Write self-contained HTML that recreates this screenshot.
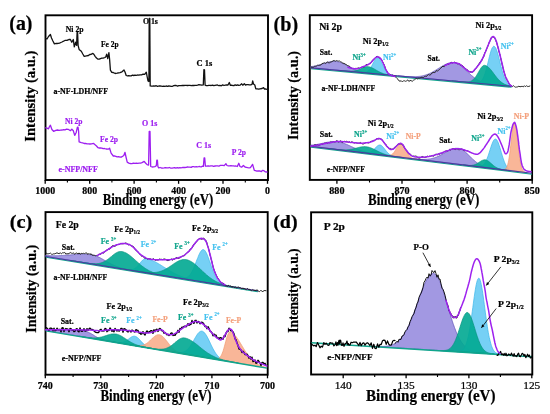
<!DOCTYPE html>
<html><head><meta charset="utf-8"><style>
html,body{margin:0;padding:0;background:#fff;}
svg{display:block;will-change:transform;filter:blur(0.3px);}
text{font-family:"Liberation Serif", serif;}
</style></head><body>
<svg width="550" height="414" viewBox="0 0 550 414">
<rect width="550" height="414" fill="#fff"/>
<rect x="45.5" y="15.3" width="222.5" height="164.7" fill="none" stroke="#000" stroke-width="1.9"/>
<line x1="267.5" y1="180" x2="267.5" y2="183.8" stroke="#000" stroke-width="1.3"/>
<line x1="223.0" y1="180" x2="223.0" y2="183.8" stroke="#000" stroke-width="1.3"/>
<line x1="178.6" y1="180" x2="178.6" y2="183.8" stroke="#000" stroke-width="1.3"/>
<line x1="134.1" y1="180" x2="134.1" y2="183.8" stroke="#000" stroke-width="1.3"/>
<line x1="89.7" y1="180" x2="89.7" y2="183.8" stroke="#000" stroke-width="1.3"/>
<line x1="45.2" y1="180" x2="45.2" y2="183.8" stroke="#000" stroke-width="1.3"/>
<line x1="245.3" y1="180" x2="245.3" y2="182.5" stroke="#000" stroke-width="1.1"/>
<line x1="200.8" y1="180" x2="200.8" y2="182.5" stroke="#000" stroke-width="1.1"/>
<line x1="156.4" y1="180" x2="156.4" y2="182.5" stroke="#000" stroke-width="1.1"/>
<line x1="111.9" y1="180" x2="111.9" y2="182.5" stroke="#000" stroke-width="1.1"/>
<line x1="67.4" y1="180" x2="67.4" y2="182.5" stroke="#000" stroke-width="1.1"/>
<text x="267.5" y="193.6" font-size="9.9" fill="#000" stroke="#000" stroke-width="0.22" font-weight="bold" text-anchor="middle" >0</text>
<text x="223.0" y="193.6" font-size="9.9" fill="#000" stroke="#000" stroke-width="0.22" font-weight="bold" text-anchor="middle" >200</text>
<text x="178.6" y="193.6" font-size="9.9" fill="#000" stroke="#000" stroke-width="0.22" font-weight="bold" text-anchor="middle" >400</text>
<text x="134.1" y="193.6" font-size="9.9" fill="#000" stroke="#000" stroke-width="0.22" font-weight="bold" text-anchor="middle" >600</text>
<text x="89.7" y="193.6" font-size="9.9" fill="#000" stroke="#000" stroke-width="0.22" font-weight="bold" text-anchor="middle" >800</text>
<text x="45.2" y="193.6" font-size="9.9" fill="#000" stroke="#000" stroke-width="0.22" font-weight="bold" text-anchor="middle" >1000</text>
<text x="158.0" y="204.6" font-size="15.8" fill="#000" stroke="#000" stroke-width="0.22" font-weight="bold" text-anchor="middle" textLength="110.7" lengthAdjust="spacingAndGlyphs" >Binding energy (eV)</text>
<text x="34.8" y="96.2" font-size="14.2" fill="#000" stroke="#000" stroke-width="0.22" font-weight="bold" text-anchor="middle" textLength="91" lengthAdjust="spacingAndGlyphs" transform="rotate(-90 34.8 96.2)" >Intensity (a.u.)</text>
<text x="9.3" y="30.4" font-size="21.2" fill="#000" stroke="#000" stroke-width="0.22" font-weight="bold" text-anchor="start" textLength="23.2" lengthAdjust="spacingAndGlyphs" >(a)</text>
<path d="M45.6,38.4 L47.0,39.0 L48.5,36.5 L50.4,34.5 L51.5,38.0 L52.9,41.0 L54.4,43.9 L55.7,43.5 L57.0,43.5 L58.2,43.4 L59.5,43.2 L60.8,42.5 L62.0,42.0 L63.6,41.2 L65.3,40.3 L66.7,40.3 L68.0,40.0 L69.2,39.4 L70.4,39.5 L71.8,42.2 L73.3,39.5 L74.3,46.8 L75.7,42.2 L76.6,45.4 L77.1,32.3 L77.6,32.3 L78.1,45.4 L79.1,49.4 L81.3,51.2 L82.8,54.0 L84.2,56.3 L86.5,55.8 L88.5,55.5 L89.8,54.5 L91.0,54.3 L92.9,53.4 L94.0,54.5 L95.1,56.3 L96.5,58.0 L98.0,59.2 L99.2,59.2 L100.5,58.6 L101.8,58.2 L103.1,58.2 L105.0,57.5 L106.0,56.3 L106.7,54.1 L107.7,58.7 L108.9,52.6 L109.6,59.2 L110.4,70.1 L111.8,72.3 L113.2,72.5 L114.5,73.2 L116.0,73.5 L117.6,73.0 L118.8,72.8 L120.0,72.6 L122.0,71.8 L124.0,70.0 L125.0,72.0 L126.2,75.5 L127.5,75.9 L128.7,75.7 L130.0,75.8 L131.2,75.8 L132.5,75.2 L133.8,75.5 L135.0,75.2 L136.2,75.4 L137.5,75.0 L138.8,75.1 L140.0,74.8 L141.6,74.8 L143.1,74.1 L144.7,74.4 L146.3,72.2 L147.2,77.0 L148.0,80.9 L148.9,81.5 L149.2,18.3 L149.8,18.3 L150.2,85.9 L151.4,86.2 L152.6,86.1 L153.8,85.9 L155.0,86.2 L156.2,85.7 L157.5,86.4 L158.8,86.0 L160.0,86.0 L161.2,86.2 L162.5,86.4 L163.8,86.2 L165.0,86.4 L166.2,86.0 L167.5,86.3 L168.8,86.0 L170.0,86.1 L171.2,86.4 L172.5,86.3 L173.8,85.6 L175.0,85.5 L176.2,85.5 L177.5,86.1 L178.8,85.6 L180.0,85.6 L181.2,85.7 L182.5,85.3 L183.8,85.5 L185.0,85.3 L186.2,85.3 L187.5,85.5 L188.8,85.4 L190.0,85.3 L191.3,85.6 L192.6,85.3 L193.8,85.5 L195.1,85.4 L196.4,85.4 L197.6,85.1 L198.9,84.6 L200.2,84.8 L201.8,85.2 L203.3,84.9 L203.9,69.6 L204.5,69.8 L205.1,85.2 L206.3,85.6 L207.6,85.6 L208.8,85.3 L210.0,85.3 L211.2,85.5 L212.5,85.1 L213.8,85.6 L215.0,85.4 L216.2,85.2 L217.5,85.0 L218.8,85.7 L220.0,85.4 L221.3,85.8 L222.7,84.9 L224.0,85.5 L225.3,85.1 L226.7,84.8 L228.0,85.0 L229.3,82.5 L230.3,85.3 L231.5,85.1 L232.7,85.5 L233.9,85.6 L235.2,84.8 L236.4,85.3 L237.6,84.8 L238.8,85.4 L240.0,85.2 L241.7,83.8 L242.8,85.2 L244.3,83.8 L245.5,85.0 L246.8,84.7 L248.0,84.7 L249.3,84.9 L250.7,84.9 L252.0,84.4 L252.7,81.0 L253.5,84.0 L254.8,85.0 L255.8,88.8 L257.2,88.8 L258.6,89.2 L260.0,88.8 L262.0,88.5 L263.5,87.6 L264.5,89.0 L265.8,89.0 L267.0,89.4" fill="none" stroke="#111" stroke-width="1.3" stroke-linejoin="round" stroke-linecap="round" />
<path d="M45.6,127.8 L47.0,128.1 L48.5,128.8 L49.5,126.5 L50.4,125.2 L51.9,129.5 L53.6,131.3 L55.8,130.3 L57.4,130.0 L59.0,130.4 L60.7,130.1 L62.4,130.0 L63.7,129.6 L65.0,129.8 L66.6,129.2 L68.2,129.3 L70.4,130.7 L71.8,129.1 L73.3,130.7 L74.7,135.4 L76.2,132.5 L77.4,127.2 L78.0,127.2 L78.6,131.0 L79.1,141.9 L81.3,142.6 L82.7,142.8 L84.2,143.5 L85.6,143.4 L87.0,143.9 L88.5,143.8 L90.0,144.0 L91.5,143.8 L93.6,143.4 L95.1,144.8 L96.5,146.0 L98.0,147.7 L99.3,148.0 L100.5,148.0 L101.8,148.2 L103.1,148.7 L104.5,148.5 L106.0,149.0 L108.2,149.2 L109.6,148.2 L111.1,153.1 L113.3,156.0 L114.5,155.9 L115.8,156.3 L117.2,156.9 L118.5,156.7 L120.0,157.1 L121.6,157.0 L123.8,155.5 L125.0,152.3 L126.0,157.0 L127.2,162.1 L128.8,163.1 L130.4,163.5 L131.9,163.7 L133.5,163.1 L135.0,163.3 L136.4,163.1 L137.7,163.3 L139.1,163.1 L140.6,163.1 L142.0,162.6 L144.2,161.4 L145.5,163.0 L147.1,164.6 L148.6,165.0 L149.2,131.5 L150.0,131.5 L150.7,166.5 L152.1,167.0 L153.6,166.9 L154.9,166.6 L156.3,165.7 L156.8,160.2 L157.4,160.2 L157.9,166.5 L158.7,167.9 L160.1,167.5 L161.4,168.0 L162.8,168.1 L164.1,167.9 L165.5,167.6 L166.8,167.9 L168.2,167.9 L169.5,167.5 L170.8,168.2 L172.1,168.1 L173.4,167.8 L174.6,167.6 L175.9,168.1 L177.2,167.7 L178.5,168.0 L179.8,167.6 L181.1,167.9 L182.4,167.5 L183.6,167.4 L184.9,167.5 L186.2,167.3 L187.4,167.0 L188.7,167.1 L190.0,167.2 L191.2,167.4 L192.4,166.6 L193.7,166.6 L194.9,167.0 L196.1,166.6 L197.3,166.8 L198.5,166.7 L199.7,166.5 L201.0,167.0 L202.2,166.2 L203.4,166.4 L204.1,157.8 L204.7,157.8 L205.4,166.2 L206.8,166.1 L208.1,165.9 L209.5,166.2 L210.9,165.9 L212.3,165.9 L213.6,166.3 L215.0,166.0 L216.3,165.8 L217.6,165.9 L218.9,166.2 L220.3,165.4 L221.6,165.3 L222.9,165.4 L224.2,165.6 L225.9,163.7 L227.0,165.5 L228.3,165.9 L229.6,165.9 L230.9,165.6 L232.2,165.8 L233.4,165.8 L234.7,166.2 L236.0,166.0 L237.3,166.5 L238.8,163.3 L240.0,166.5 L241.6,167.2 L243.4,165.5 L245.0,167.0 L246.3,167.3 L247.7,167.7 L249.1,167.9 L250.4,167.6 L252.6,164.4 L254.3,170.3 L255.5,170.7 L256.8,171.2 L258.0,171.0 L259.6,170.9 L261.3,171.6 L262.4,170.3 L263.9,170.7 L265.5,171.9 L267.0,172.0" fill="none" stroke="#9d1ef0" stroke-width="1.3" stroke-linejoin="round" stroke-linecap="round" />
<text x="65.7" y="31.8" font-size="8.8" fill="#000" stroke="#000" stroke-width="0.22" font-weight="bold" text-anchor="start" textLength="17.9" lengthAdjust="spacingAndGlyphs" >Ni 2p</text>
<text x="101.0" y="47.1" font-size="8.8" fill="#000" stroke="#000" stroke-width="0.22" font-weight="bold" text-anchor="start" textLength="17.6" lengthAdjust="spacingAndGlyphs" >Fe 2p</text>
<text x="142.9" y="24.2" font-size="8.8" fill="#000" stroke="#000" stroke-width="0.22" font-weight="bold" text-anchor="start" textLength="15" lengthAdjust="spacingAndGlyphs" >O 1s</text>
<text x="196.5" y="66.3" font-size="8.8" fill="#000" stroke="#000" stroke-width="0.22" font-weight="bold" text-anchor="start" textLength="15.7" lengthAdjust="spacingAndGlyphs" >C 1s</text>
<text x="53.5" y="94.0" font-size="8.6" fill="#000" stroke="#000" stroke-width="0.22" font-weight="bold" text-anchor="start" textLength="54.5" lengthAdjust="spacingAndGlyphs" >a-NF-LDH/NFF</text>
<text x="65.1" y="123.6" font-size="8.8" fill="#9d1ef0" stroke="#9d1ef0" stroke-width="0.22" font-weight="bold" text-anchor="start" textLength="17.4" lengthAdjust="spacingAndGlyphs" >Ni 2p</text>
<text x="100.0" y="141.5" font-size="8.8" fill="#9d1ef0" stroke="#9d1ef0" stroke-width="0.22" font-weight="bold" text-anchor="start" textLength="18.1" lengthAdjust="spacingAndGlyphs" >Fe 2p</text>
<text x="142.1" y="126.2" font-size="8.8" fill="#9d1ef0" stroke="#9d1ef0" stroke-width="0.22" font-weight="bold" text-anchor="start" textLength="15.3" lengthAdjust="spacingAndGlyphs" >O 1s</text>
<text x="196.3" y="147.6" font-size="8.8" fill="#9d1ef0" stroke="#9d1ef0" stroke-width="0.22" font-weight="bold" text-anchor="start" textLength="14.8" lengthAdjust="spacingAndGlyphs" >C 1s</text>
<text x="231.8" y="154.5" font-size="8.8" fill="#9d1ef0" stroke="#9d1ef0" stroke-width="0.22" font-weight="bold" text-anchor="start" textLength="14.2" lengthAdjust="spacingAndGlyphs" >P 2p</text>
<text x="58.5" y="172.0" font-size="8.6" fill="#9d1ef0" stroke="#9d1ef0" stroke-width="0.22" font-weight="bold" text-anchor="start" textLength="39.3" lengthAdjust="spacingAndGlyphs" >e-NFP/NFF</text>
<rect x="309.8" y="15.2" width="222.3" height="164.70000000000002" fill="none" stroke="#000" stroke-width="1.9"/>
<line x1="336.9" y1="180" x2="336.9" y2="183.8" stroke="#000" stroke-width="1.3"/>
<line x1="402.0" y1="180" x2="402.0" y2="183.8" stroke="#000" stroke-width="1.3"/>
<line x1="467.1" y1="180" x2="467.1" y2="183.8" stroke="#000" stroke-width="1.3"/>
<line x1="532.2" y1="180" x2="532.2" y2="183.8" stroke="#000" stroke-width="1.3"/>
<line x1="369.5" y1="180" x2="369.5" y2="182.5" stroke="#000" stroke-width="1.1"/>
<line x1="434.6" y1="180" x2="434.6" y2="182.5" stroke="#000" stroke-width="1.1"/>
<line x1="499.7" y1="180" x2="499.7" y2="182.5" stroke="#000" stroke-width="1.1"/>
<text x="336.9" y="194.0" font-size="10.8" fill="#000" stroke="#000" stroke-width="0.22" font-weight="bold" text-anchor="middle" textLength="15.2" lengthAdjust="spacingAndGlyphs" >880</text>
<text x="402.0" y="194.0" font-size="10.8" fill="#000" stroke="#000" stroke-width="0.22" font-weight="bold" text-anchor="middle" textLength="15.2" lengthAdjust="spacingAndGlyphs" >870</text>
<text x="467.1" y="194.0" font-size="10.8" fill="#000" stroke="#000" stroke-width="0.22" font-weight="bold" text-anchor="middle" textLength="15.2" lengthAdjust="spacingAndGlyphs" >860</text>
<text x="532.2" y="194.0" font-size="10.8" fill="#000" stroke="#000" stroke-width="0.22" font-weight="bold" text-anchor="middle" textLength="15.2" lengthAdjust="spacingAndGlyphs" >850</text>
<text x="423.7" y="205.0" font-size="15.8" fill="#000" stroke="#000" stroke-width="0.22" font-weight="bold" text-anchor="middle" textLength="111.4" lengthAdjust="spacingAndGlyphs" >Binding energy (eV)</text>
<text x="298.0" y="95.5" font-size="14.2" fill="#000" stroke="#000" stroke-width="0.22" font-weight="bold" text-anchor="middle" textLength="89" lengthAdjust="spacingAndGlyphs" transform="rotate(-90 298.0 95.5)" >Intensity (a.u.)</text>
<text x="273.6" y="30.5" font-size="20.8" fill="#000" stroke="#000" stroke-width="0.22" font-weight="bold" text-anchor="start" textLength="24.6" lengthAdjust="spacingAndGlyphs" >(b)</text>
<text x="319.2" y="30.2" font-size="10.8" fill="#000" stroke="#000" stroke-width="0.22" font-weight="bold" text-anchor="start" textLength="22.9" lengthAdjust="spacingAndGlyphs" >Ni 2p</text>
<path d="M311.0,66.6 L311.5,66.6 L312.0,66.5 L312.5,66.4 L313.0,66.3 L313.5,66.3 L314.0,66.2 L314.5,66.1 L315.0,66.0 L315.5,65.9 L316.0,65.8 L316.5,65.6 L317.0,65.5 L317.5,65.4 L318.0,65.3 L318.5,65.1 L319.0,65.0 L319.5,64.8 L320.0,64.7 L320.5,64.5 L321.0,64.3 L321.5,64.2 L322.0,64.0 L322.5,63.9 L323.0,63.7 L323.5,63.5 L324.0,63.4 L324.5,63.2 L325.0,63.0 L325.5,62.9 L326.0,62.7 L326.5,62.6 L327.0,62.4 L327.5,62.3 L328.0,62.2 L328.5,62.0 L329.0,61.9 L329.5,61.8 L330.0,61.7 L330.5,61.6 L331.0,61.5 L331.5,61.5 L332.0,61.4 L332.5,61.4 L333.0,61.3 L333.5,61.3 L334.0,61.3 L334.5,61.3 L335.0,61.4 L335.5,61.4 L336.0,61.5 L336.5,61.5 L337.0,61.6 L337.5,61.7 L338.0,61.8 L338.5,61.9 L339.0,62.1 L339.5,62.2 L340.0,62.4 L340.5,62.5 L341.0,62.7 L341.5,62.9 L342.0,63.1 L342.5,63.3 L343.0,63.5 L343.5,63.8 L344.0,64.0 L344.5,64.2 L345.0,64.5 L345.5,64.7 L346.0,65.0 L346.5,65.2 L347.0,65.5 L347.5,65.7 L348.0,66.0 L348.5,66.3 L349.0,66.5 L349.5,66.8 L350.0,67.0 L350.5,67.3 L351.0,67.5 L351.5,67.8 L352.0,68.0 L352.5,68.3 L353.0,68.5 L353.5,68.7 L354.0,68.9 L354.5,69.1 L355.0,69.4 L355.5,69.6 L356.0,69.8 L356.5,70.0 L357.0,70.1 L357.5,70.3 L358.0,70.5 L358.5,70.7 L359.0,70.8 L359.5,71.0 L360.0,71.1 L360.5,71.3 L361.0,71.4 L361.5,71.5 L362.0,71.7 L362.5,71.8 L363.0,71.9 L363.5,72.0 L364.0,72.1 L364.5,72.2 L365.0,72.3 L365.5,72.4 L366.0,72.5 L366.5,72.6 L367.0,72.7 L367.5,72.8 L368.0,72.9 L368.5,72.9 L369.0,73.0 L369.5,73.1 L370.0,73.1 L370.5,73.2 L371.0,73.3 L371.5,73.3 L372.0,73.4 L372.5,73.5 L373.0,73.5 L373.5,73.6 L374.0,73.6 L374.5,73.7 L375.0,73.7 L375.5,73.8 L376.0,73.8 L376.5,73.9 L377.0,73.9 L377.5,74.0 L378.0,74.0 L378.5,74.1 L379.0,74.1 L379.5,74.2 L380.0,74.2 L380.5,74.3 L380.5,74.3 L380.0,74.3 L379.5,74.2 L379.0,74.2 L378.5,74.1 L378.0,74.1 L377.5,74.0 L377.0,74.0 L376.5,73.9 L376.0,73.9 L375.5,73.8 L375.0,73.8 L374.5,73.8 L374.0,73.7 L373.5,73.7 L373.0,73.6 L372.5,73.6 L372.0,73.5 L371.5,73.5 L371.0,73.4 L370.5,73.4 L370.0,73.3 L369.5,73.3 L369.0,73.2 L368.5,73.2 L368.0,73.2 L367.5,73.1 L367.0,73.1 L366.5,73.0 L366.0,73.0 L365.5,72.9 L365.0,72.9 L364.5,72.8 L364.0,72.8 L363.5,72.7 L363.0,72.7 L362.5,72.6 L362.0,72.6 L361.5,72.6 L361.0,72.5 L360.5,72.5 L360.0,72.4 L359.5,72.4 L359.0,72.3 L358.5,72.3 L358.0,72.2 L357.5,72.2 L357.0,72.1 L356.5,72.1 L356.0,72.0 L355.5,72.0 L355.0,72.0 L354.5,71.9 L354.0,71.9 L353.5,71.8 L353.0,71.8 L352.5,71.7 L352.0,71.7 L351.5,71.6 L351.0,71.6 L350.5,71.5 L350.0,71.5 L349.5,71.4 L349.0,71.4 L348.5,71.4 L348.0,71.3 L347.5,71.3 L347.0,71.2 L346.5,71.2 L346.0,71.1 L345.5,71.1 L345.0,71.0 L344.5,71.0 L344.0,70.9 L343.5,70.9 L343.0,70.8 L342.5,70.8 L342.0,70.8 L341.5,70.7 L341.0,70.7 L340.5,70.6 L340.0,70.6 L339.5,70.5 L339.0,70.5 L338.5,70.4 L338.0,70.4 L337.5,70.3 L337.0,70.3 L336.5,70.2 L336.0,70.2 L335.5,70.2 L335.0,70.1 L334.5,70.1 L334.0,70.0 L333.5,70.0 L333.0,69.9 L332.5,69.9 L332.0,69.8 L331.5,69.8 L331.0,69.7 L330.5,69.7 L330.0,69.6 L329.5,69.6 L329.0,69.6 L328.5,69.5 L328.0,69.5 L327.5,69.4 L327.0,69.4 L326.5,69.3 L326.0,69.3 L325.5,69.2 L325.0,69.2 L324.5,69.1 L324.0,69.1 L323.5,69.0 L323.0,69.0 L322.5,69.0 L322.0,68.9 L321.5,68.9 L321.0,68.8 L320.5,68.8 L320.0,68.7 L319.5,68.7 L319.0,68.6 L318.5,68.6 L318.0,68.5 L317.5,68.5 L317.0,68.4 L316.5,68.4 L316.0,68.4 L315.5,68.3 L315.0,68.3 L314.5,68.2 L314.0,68.2 L313.5,68.1 L313.0,68.1 L312.5,68.0 L312.0,68.0 L311.5,67.9 L311.0,67.9 Z" fill="#988ddf" stroke="#5f50b8" stroke-width="0.7" stroke-linejoin="round" stroke-linecap="round" fill-opacity="0.9"/>
<path d="M398.2,75.9 L398.7,76.0 L399.2,76.0 L399.7,76.0 L400.2,76.1 L400.7,76.1 L401.2,76.2 L401.7,76.2 L402.2,76.2 L402.7,76.3 L403.2,76.3 L403.7,76.3 L404.2,76.4 L404.7,76.4 L405.2,76.5 L405.7,76.5 L406.2,76.5 L406.7,76.5 L407.2,76.6 L407.7,76.6 L408.2,76.6 L408.7,76.6 L409.2,76.7 L409.7,76.7 L410.2,76.7 L410.7,76.7 L411.2,76.7 L411.7,76.7 L412.2,76.7 L412.7,76.7 L413.2,76.7 L413.7,76.7 L414.2,76.7 L414.7,76.7 L415.2,76.7 L415.7,76.7 L416.2,76.7 L416.7,76.6 L417.2,76.6 L417.7,76.5 L418.2,76.5 L418.7,76.4 L419.2,76.4 L419.7,76.3 L420.2,76.2 L420.7,76.2 L421.2,76.1 L421.7,76.0 L422.2,75.9 L422.7,75.8 L423.2,75.7 L423.7,75.5 L424.2,75.4 L424.7,75.3 L425.2,75.1 L425.7,75.0 L426.2,74.8 L426.7,74.6 L427.2,74.5 L427.7,74.3 L428.2,74.1 L428.7,73.9 L429.2,73.6 L429.7,73.4 L430.2,73.2 L430.7,72.9 L431.2,72.7 L431.7,72.4 L432.2,72.2 L432.7,71.9 L433.2,71.6 L433.7,71.3 L434.2,71.1 L434.7,70.8 L435.2,70.5 L435.7,70.2 L436.2,69.9 L436.7,69.5 L437.2,69.2 L437.7,68.9 L438.2,68.6 L438.7,68.3 L439.2,68.0 L439.7,67.7 L440.2,67.3 L440.7,67.0 L441.2,66.7 L441.7,66.4 L442.2,66.1 L442.7,65.8 L443.2,65.6 L443.7,65.3 L444.2,65.0 L444.7,64.8 L445.2,64.5 L445.7,64.3 L446.2,64.0 L446.7,63.8 L447.2,63.6 L447.7,63.5 L448.2,63.3 L448.7,63.1 L449.2,63.0 L449.7,62.9 L450.2,62.8 L450.7,62.7 L451.2,62.6 L451.7,62.6 L452.2,62.5 L452.7,62.5 L453.2,62.5 L453.7,62.6 L454.3,62.6 L454.8,62.7 L455.3,62.8 L455.8,62.9 L456.3,63.1 L456.8,63.3 L457.3,63.5 L457.8,63.7 L458.3,64.0 L458.8,64.3 L459.3,64.6 L459.8,64.9 L460.3,65.2 L460.8,65.6 L461.3,66.0 L461.8,66.4 L462.3,66.8 L462.8,67.3 L463.3,67.7 L463.8,68.2 L464.3,68.6 L464.8,69.1 L465.3,69.6 L465.8,70.0 L466.3,70.5 L466.8,71.0 L467.3,71.5 L467.8,72.0 L468.3,72.5 L468.8,72.9 L469.3,73.4 L469.8,73.9 L470.3,74.3 L470.8,74.8 L471.3,75.2 L471.8,75.7 L472.3,76.1 L472.8,76.5 L473.3,76.9 L473.8,77.3 L474.3,77.7 L474.8,78.0 L475.3,78.4 L475.8,78.7 L476.3,79.1 L476.8,79.4 L477.3,79.7 L477.8,80.0 L478.3,80.3 L478.8,80.5 L479.3,80.8 L479.8,81.0 L480.3,81.3 L480.8,81.5 L481.3,81.7 L481.8,81.9 L482.3,82.1 L482.8,82.3 L483.3,82.4 L483.8,82.6 L484.3,82.8 L484.8,82.9 L485.3,83.0 L485.8,83.2 L486.3,83.3 L486.8,83.4 L487.3,83.5 L487.8,83.6 L488.3,83.7 L488.8,83.8 L489.3,83.9 L489.8,84.0 L490.3,84.1 L490.8,84.2 L491.3,84.3 L491.8,84.3 L492.3,84.4 L492.8,84.5 L493.3,84.5 L493.8,84.6 L494.3,84.7 L494.8,84.7 L495.3,84.8 L495.8,84.9 L496.3,84.9 L496.8,85.0 L497.3,85.0 L497.8,85.1 L498.3,85.1 L498.8,85.2 L499.3,85.2 L499.8,85.3 L500.3,85.3 L500.8,85.4 L501.3,85.4 L501.8,85.5 L502.3,85.5 L502.8,85.6 L503.3,85.6 L503.8,85.7 L504.3,85.7 L504.8,85.8 L505.3,85.8 L505.8,85.9 L506.3,85.9 L506.8,86.0 L507.3,86.0 L507.8,86.0 L508.3,86.1 L508.8,86.1 L509.3,86.2 L509.8,86.2 L509.8,86.2 L509.3,86.2 L508.8,86.1 L508.3,86.1 L507.8,86.0 L507.3,86.0 L506.8,86.0 L506.3,85.9 L505.8,85.9 L505.3,85.8 L504.8,85.8 L504.3,85.7 L503.8,85.7 L503.3,85.6 L502.8,85.6 L502.3,85.5 L501.8,85.5 L501.3,85.4 L500.8,85.4 L500.3,85.4 L499.8,85.3 L499.3,85.3 L498.8,85.2 L498.3,85.2 L497.8,85.1 L497.3,85.1 L496.8,85.0 L496.3,85.0 L495.8,84.9 L495.3,84.9 L494.8,84.8 L494.3,84.8 L493.8,84.8 L493.3,84.7 L492.8,84.7 L492.3,84.6 L491.8,84.6 L491.3,84.5 L490.8,84.5 L490.3,84.4 L489.8,84.4 L489.3,84.3 L488.8,84.3 L488.3,84.2 L487.8,84.2 L487.3,84.2 L486.8,84.1 L486.3,84.1 L485.8,84.0 L485.3,84.0 L484.8,83.9 L484.3,83.9 L483.8,83.8 L483.3,83.8 L482.8,83.7 L482.3,83.7 L481.8,83.6 L481.3,83.6 L480.8,83.6 L480.3,83.5 L479.8,83.5 L479.3,83.4 L478.8,83.4 L478.3,83.3 L477.8,83.3 L477.3,83.2 L476.8,83.2 L476.3,83.1 L475.8,83.1 L475.3,83.0 L474.8,83.0 L474.3,83.0 L473.8,82.9 L473.3,82.9 L472.8,82.8 L472.3,82.8 L471.8,82.7 L471.3,82.7 L470.8,82.6 L470.3,82.6 L469.8,82.5 L469.3,82.5 L468.8,82.4 L468.3,82.4 L467.8,82.4 L467.3,82.3 L466.8,82.3 L466.3,82.2 L465.8,82.2 L465.3,82.1 L464.8,82.1 L464.3,82.0 L463.8,82.0 L463.3,81.9 L462.8,81.9 L462.3,81.8 L461.8,81.8 L461.3,81.8 L460.8,81.7 L460.3,81.7 L459.8,81.6 L459.3,81.6 L458.8,81.5 L458.3,81.5 L457.8,81.4 L457.3,81.4 L456.8,81.3 L456.3,81.3 L455.8,81.2 L455.3,81.2 L454.8,81.2 L454.3,81.1 L453.7,81.1 L453.2,81.0 L452.7,81.0 L452.2,80.9 L451.7,80.9 L451.2,80.8 L450.7,80.8 L450.2,80.7 L449.7,80.7 L449.2,80.6 L448.7,80.6 L448.2,80.6 L447.7,80.5 L447.2,80.5 L446.7,80.4 L446.2,80.4 L445.7,80.3 L445.2,80.3 L444.7,80.2 L444.2,80.2 L443.7,80.1 L443.2,80.1 L442.7,80.0 L442.2,80.0 L441.7,80.0 L441.2,79.9 L440.7,79.9 L440.2,79.8 L439.7,79.8 L439.2,79.7 L438.7,79.7 L438.2,79.6 L437.7,79.6 L437.2,79.5 L436.7,79.5 L436.2,79.4 L435.7,79.4 L435.2,79.4 L434.7,79.3 L434.2,79.3 L433.7,79.2 L433.2,79.2 L432.7,79.1 L432.2,79.1 L431.7,79.0 L431.2,79.0 L430.7,78.9 L430.2,78.9 L429.7,78.8 L429.2,78.8 L428.7,78.8 L428.2,78.7 L427.7,78.7 L427.2,78.6 L426.7,78.6 L426.2,78.5 L425.7,78.5 L425.2,78.4 L424.7,78.4 L424.2,78.3 L423.7,78.3 L423.2,78.2 L422.7,78.2 L422.2,78.2 L421.7,78.1 L421.2,78.1 L420.7,78.0 L420.2,78.0 L419.7,77.9 L419.2,77.9 L418.7,77.8 L418.2,77.8 L417.7,77.7 L417.2,77.7 L416.7,77.6 L416.2,77.6 L415.7,77.6 L415.2,77.5 L414.7,77.5 L414.2,77.4 L413.7,77.4 L413.2,77.3 L412.7,77.3 L412.2,77.2 L411.7,77.2 L411.2,77.1 L410.7,77.1 L410.2,77.0 L409.7,77.0 L409.2,77.0 L408.7,76.9 L408.2,76.9 L407.7,76.8 L407.2,76.8 L406.7,76.7 L406.2,76.7 L405.7,76.6 L405.2,76.6 L404.7,76.5 L404.2,76.5 L403.7,76.4 L403.2,76.4 L402.7,76.4 L402.2,76.3 L401.7,76.3 L401.2,76.2 L400.7,76.2 L400.2,76.1 L399.7,76.1 L399.2,76.0 L398.7,76.0 L398.2,75.9 Z" fill="#988ddf" stroke="#5f50b8" stroke-width="0.7" stroke-linejoin="round" stroke-linecap="round" fill-opacity="0.9"/>
<path d="M359.6,72.4 L360.1,72.4 L360.6,72.4 L361.1,72.5 L361.6,72.5 L362.1,72.5 L362.6,72.5 L363.1,72.5 L363.6,72.5 L364.1,72.5 L364.6,72.4 L365.1,72.3 L365.6,72.2 L366.1,72.1 L366.6,71.9 L367.1,71.6 L367.6,71.3 L368.1,70.9 L368.6,70.4 L369.1,69.9 L369.6,69.3 L370.1,68.6 L370.6,67.8 L371.1,67.0 L371.6,66.1 L372.1,65.2 L372.6,64.2 L373.1,63.2 L373.6,62.3 L374.1,61.4 L374.6,60.5 L375.1,59.7 L375.6,59.1 L376.1,58.6 L376.6,58.2 L377.1,58.0 L377.6,57.9 L378.1,58.1 L378.6,58.3 L379.1,58.8 L379.6,59.4 L380.1,60.1 L380.6,60.9 L381.1,61.8 L381.6,62.7 L382.1,63.7 L382.6,64.7 L383.1,65.8 L383.6,66.8 L384.1,67.7 L384.6,68.6 L385.1,69.5 L385.6,70.3 L386.1,71.0 L386.6,71.7 L387.1,72.3 L387.6,72.8 L388.1,73.2 L388.6,73.6 L389.1,74.0 L389.6,74.2 L390.1,74.5 L390.6,74.7 L391.1,74.9 L391.6,75.0 L392.1,75.1 L392.6,75.2 L393.1,75.3 L393.6,75.4 L394.1,75.5 L394.6,75.6 L395.1,75.6 L395.6,75.7 L395.6,75.7 L395.1,75.7 L394.6,75.6 L394.1,75.6 L393.6,75.5 L393.1,75.5 L392.6,75.4 L392.1,75.4 L391.6,75.3 L391.1,75.3 L390.6,75.2 L390.1,75.2 L389.6,75.1 L389.1,75.1 L388.6,75.1 L388.1,75.0 L387.6,75.0 L387.1,74.9 L386.6,74.9 L386.1,74.8 L385.6,74.8 L385.1,74.7 L384.6,74.7 L384.1,74.6 L383.6,74.6 L383.1,74.5 L382.6,74.5 L382.1,74.5 L381.6,74.4 L381.1,74.4 L380.6,74.3 L380.1,74.3 L379.6,74.2 L379.1,74.2 L378.6,74.1 L378.1,74.1 L377.6,74.0 L377.1,74.0 L376.6,73.9 L376.1,73.9 L375.6,73.9 L375.1,73.8 L374.6,73.8 L374.1,73.7 L373.6,73.7 L373.1,73.6 L372.6,73.6 L372.1,73.5 L371.6,73.5 L371.1,73.4 L370.6,73.4 L370.1,73.3 L369.6,73.3 L369.1,73.3 L368.6,73.2 L368.1,73.2 L367.6,73.1 L367.1,73.1 L366.6,73.0 L366.1,73.0 L365.6,72.9 L365.1,72.9 L364.6,72.8 L364.1,72.8 L363.6,72.7 L363.1,72.7 L362.6,72.7 L362.1,72.6 L361.6,72.6 L361.1,72.5 L360.6,72.5 L360.1,72.4 L359.6,72.4 Z" fill="#67cbf4" stroke="#3ab6ea" stroke-width="0.7" stroke-linejoin="round" stroke-linecap="round" fill-opacity="0.9"/>
<path d="M472.3,82.8 L472.8,82.8 L473.3,82.8 L473.8,82.9 L474.3,82.9 L474.8,82.9 L475.3,82.9 L475.8,82.9 L476.3,82.9 L476.8,82.9 L477.3,82.8 L477.8,82.7 L478.3,82.6 L478.8,82.5 L479.4,82.3 L479.9,82.0 L480.4,81.7 L480.9,81.2 L481.4,80.7 L481.9,80.1 L482.4,79.4 L482.9,78.6 L483.4,77.6 L483.9,76.5 L484.4,75.2 L484.9,73.9 L485.4,72.3 L485.9,70.6 L486.4,68.9 L486.9,66.9 L487.4,65.0 L487.9,62.9 L488.4,60.8 L488.9,58.7 L489.4,56.7 L489.9,54.7 L490.4,52.9 L490.9,51.2 L491.4,49.7 L491.9,48.4 L492.5,47.4 L493.0,46.7 L493.5,46.3 L494.0,46.3 L494.5,46.5 L495.0,47.0 L495.5,47.7 L496.0,48.7 L496.5,49.9 L497.0,51.3 L497.5,52.9 L498.0,54.6 L498.5,56.5 L499.0,58.4 L499.5,60.4 L500.0,62.4 L500.5,64.4 L501.0,66.4 L501.5,68.3 L502.0,70.1 L502.5,71.9 L503.0,73.5 L503.5,75.1 L504.0,76.5 L504.5,77.8 L505.1,78.9 L505.6,80.0 L506.1,80.9 L506.6,81.8 L507.1,82.5 L507.6,83.2 L508.1,83.7 L508.6,84.2 L509.1,84.6 L509.6,85.0 L510.1,85.2 L510.6,85.5 L511.1,85.7 L511.6,85.9 L511.6,86.4 L511.1,86.4 L510.6,86.3 L510.1,86.3 L509.6,86.2 L509.1,86.2 L508.6,86.1 L508.1,86.1 L507.6,86.0 L507.1,86.0 L506.6,85.9 L506.1,85.9 L505.6,85.8 L505.1,85.8 L504.5,85.7 L504.0,85.7 L503.5,85.7 L503.0,85.6 L502.5,85.6 L502.0,85.5 L501.5,85.5 L501.0,85.4 L500.5,85.4 L500.0,85.3 L499.5,85.3 L499.0,85.2 L498.5,85.2 L498.0,85.1 L497.5,85.1 L497.0,85.1 L496.5,85.0 L496.0,85.0 L495.5,84.9 L495.0,84.9 L494.5,84.8 L494.0,84.8 L493.5,84.7 L493.0,84.7 L492.5,84.6 L491.9,84.6 L491.4,84.5 L490.9,84.5 L490.4,84.4 L489.9,84.4 L489.4,84.4 L488.9,84.3 L488.4,84.3 L487.9,84.2 L487.4,84.2 L486.9,84.1 L486.4,84.1 L485.9,84.0 L485.4,84.0 L484.9,83.9 L484.4,83.9 L483.9,83.8 L483.4,83.8 L482.9,83.8 L482.4,83.7 L481.9,83.7 L481.4,83.6 L480.9,83.6 L480.4,83.5 L479.9,83.5 L479.4,83.4 L478.8,83.4 L478.3,83.3 L477.8,83.3 L477.3,83.2 L476.8,83.2 L476.3,83.1 L475.8,83.1 L475.3,83.1 L474.8,83.0 L474.3,83.0 L473.8,82.9 L473.3,82.9 L472.8,82.8 L472.3,82.8 Z" fill="#67cbf4" stroke="#3ab6ea" stroke-width="0.7" stroke-linejoin="round" stroke-linecap="round" fill-opacity="0.9"/>
<path d="M339.0,70.5 L339.5,70.5 L340.0,70.6 L340.5,70.6 L341.0,70.7 L341.5,70.7 L342.0,70.7 L342.5,70.8 L343.0,70.8 L343.5,70.9 L344.0,70.9 L344.5,71.0 L345.0,71.0 L345.5,71.0 L346.0,71.1 L346.5,71.1 L347.0,71.1 L347.5,71.2 L348.0,71.2 L348.5,71.2 L349.0,71.2 L349.5,71.2 L350.0,71.2 L350.5,71.2 L351.0,71.2 L351.5,71.2 L352.0,71.2 L352.5,71.1 L353.0,71.1 L353.5,71.0 L354.0,70.9 L354.5,70.8 L355.0,70.7 L355.5,70.6 L356.0,70.5 L356.5,70.3 L357.0,70.1 L357.5,70.0 L358.0,69.8 L358.5,69.6 L359.0,69.4 L359.5,69.1 L360.0,68.9 L360.5,68.7 L361.0,68.4 L361.5,68.2 L362.0,68.0 L362.5,67.7 L363.0,67.5 L363.5,67.3 L364.0,67.2 L364.5,67.0 L365.0,66.9 L365.5,66.8 L366.0,66.7 L366.5,66.6 L367.0,66.6 L367.5,66.6 L368.1,66.7 L368.6,66.7 L369.1,66.8 L369.6,66.9 L370.1,67.1 L370.6,67.3 L371.1,67.4 L371.6,67.7 L372.1,67.9 L372.6,68.1 L373.1,68.4 L373.6,68.6 L374.1,68.9 L374.6,69.2 L375.1,69.5 L375.6,69.8 L376.1,70.1 L376.6,70.4 L377.1,70.7 L377.6,70.9 L378.1,71.2 L378.6,71.5 L379.1,71.8 L379.6,72.0 L380.1,72.3 L380.6,72.5 L381.1,72.7 L381.6,72.9 L382.1,73.1 L382.6,73.3 L383.1,73.5 L383.6,73.7 L384.1,73.8 L384.6,74.0 L385.1,74.1 L385.6,74.2 L386.1,74.3 L386.6,74.5 L387.1,74.6 L387.6,74.7 L388.1,74.7 L388.6,74.8 L389.1,74.9 L389.6,75.0 L390.1,75.1 L390.6,75.1 L391.1,75.2 L391.6,75.2 L392.1,75.3 L392.6,75.4 L393.1,75.4 L393.6,75.5 L394.1,75.5 L394.6,75.6 L395.1,75.6 L395.6,75.7 L396.1,75.7 L396.6,75.8 L396.6,75.8 L396.1,75.7 L395.6,75.7 L395.1,75.7 L394.6,75.6 L394.1,75.6 L393.6,75.5 L393.1,75.5 L392.6,75.4 L392.1,75.4 L391.6,75.3 L391.1,75.3 L390.6,75.2 L390.1,75.2 L389.6,75.1 L389.1,75.1 L388.6,75.1 L388.1,75.0 L387.6,75.0 L387.1,74.9 L386.6,74.9 L386.1,74.8 L385.6,74.8 L385.1,74.7 L384.6,74.7 L384.1,74.6 L383.6,74.6 L383.1,74.5 L382.6,74.5 L382.1,74.4 L381.6,74.4 L381.1,74.4 L380.6,74.3 L380.1,74.3 L379.6,74.2 L379.1,74.2 L378.6,74.1 L378.1,74.1 L377.6,74.0 L377.1,74.0 L376.6,73.9 L376.1,73.9 L375.6,73.8 L375.1,73.8 L374.6,73.8 L374.1,73.7 L373.6,73.7 L373.1,73.6 L372.6,73.6 L372.1,73.5 L371.6,73.5 L371.1,73.4 L370.6,73.4 L370.1,73.3 L369.6,73.3 L369.1,73.2 L368.6,73.2 L368.1,73.2 L367.5,73.1 L367.0,73.1 L366.5,73.0 L366.0,73.0 L365.5,72.9 L365.0,72.9 L364.5,72.8 L364.0,72.8 L363.5,72.7 L363.0,72.7 L362.5,72.6 L362.0,72.6 L361.5,72.6 L361.0,72.5 L360.5,72.5 L360.0,72.4 L359.5,72.4 L359.0,72.3 L358.5,72.3 L358.0,72.2 L357.5,72.2 L357.0,72.1 L356.5,72.1 L356.0,72.0 L355.5,72.0 L355.0,72.0 L354.5,71.9 L354.0,71.9 L353.5,71.8 L353.0,71.8 L352.5,71.7 L352.0,71.7 L351.5,71.6 L351.0,71.6 L350.5,71.5 L350.0,71.5 L349.5,71.4 L349.0,71.4 L348.5,71.4 L348.0,71.3 L347.5,71.3 L347.0,71.2 L346.5,71.2 L346.0,71.1 L345.5,71.1 L345.0,71.0 L344.5,71.0 L344.0,70.9 L343.5,70.9 L343.0,70.8 L342.5,70.8 L342.0,70.8 L341.5,70.7 L341.0,70.7 L340.5,70.6 L340.0,70.6 L339.5,70.5 L339.0,70.5 Z" fill="#00a991" stroke="#08947e" stroke-width="0.7" stroke-linejoin="round" stroke-linecap="round" fill-opacity="0.9"/>
<path d="M452.2,80.9 L452.7,81.0 L453.2,81.0 L453.7,81.1 L454.2,81.1 L454.7,81.2 L455.2,81.2 L455.7,81.2 L456.2,81.3 L456.7,81.3 L457.2,81.4 L457.7,81.4 L458.2,81.5 L458.7,81.5 L459.2,81.6 L459.8,81.6 L460.3,81.7 L460.8,81.7 L461.3,81.7 L461.8,81.8 L462.3,81.8 L462.8,81.9 L463.3,81.9 L463.8,81.9 L464.3,82.0 L464.8,82.0 L465.3,82.0 L465.8,82.0 L466.3,82.0 L466.8,82.0 L467.3,82.0 L467.8,81.9 L468.3,81.9 L468.8,81.8 L469.3,81.7 L469.8,81.6 L470.3,81.4 L470.8,81.2 L471.3,80.9 L471.8,80.7 L472.3,80.3 L472.8,79.9 L473.3,79.5 L473.8,79.0 L474.3,78.4 L474.9,77.8 L475.4,77.2 L475.9,76.4 L476.4,75.7 L476.9,74.9 L477.4,74.0 L477.9,73.2 L478.4,72.3 L478.9,71.4 L479.4,70.5 L479.9,69.7 L480.4,68.9 L480.9,68.1 L481.4,67.4 L481.9,66.8 L482.4,66.3 L482.9,65.9 L483.4,65.5 L483.9,65.4 L484.4,65.3 L484.9,65.4 L485.4,65.5 L485.9,65.6 L486.4,65.9 L486.9,66.1 L487.4,66.5 L487.9,66.9 L488.4,67.3 L488.9,67.8 L489.5,68.3 L490.0,68.8 L490.5,69.4 L491.0,70.0 L491.5,70.6 L492.0,71.3 L492.5,71.9 L493.0,72.6 L493.5,73.3 L494.0,74.0 L494.5,74.6 L495.0,75.3 L495.5,76.0 L496.0,76.6 L496.5,77.2 L497.0,77.9 L497.5,78.4 L498.0,79.0 L498.5,79.6 L499.0,80.1 L499.5,80.6 L500.0,81.0 L500.5,81.5 L501.0,81.9 L501.5,82.3 L502.0,82.7 L502.5,83.0 L503.0,83.3 L503.5,83.6 L504.0,83.9 L504.6,84.2 L505.1,84.4 L505.6,84.6 L506.1,84.8 L506.6,85.0 L507.1,85.2 L507.6,85.3 L508.1,85.5 L508.6,85.6 L509.1,85.7 L509.6,85.8 L510.1,85.9 L510.6,86.0 L511.1,86.1 L511.6,86.2 L511.6,86.4 L511.1,86.4 L510.6,86.3 L510.1,86.3 L509.6,86.2 L509.1,86.2 L508.6,86.1 L508.1,86.1 L507.6,86.0 L507.1,86.0 L506.6,85.9 L506.1,85.9 L505.6,85.8 L505.1,85.8 L504.6,85.7 L504.0,85.7 L503.5,85.7 L503.0,85.6 L502.5,85.6 L502.0,85.5 L501.5,85.5 L501.0,85.4 L500.5,85.4 L500.0,85.3 L499.5,85.3 L499.0,85.2 L498.5,85.2 L498.0,85.1 L497.5,85.1 L497.0,85.1 L496.5,85.0 L496.0,85.0 L495.5,84.9 L495.0,84.9 L494.5,84.8 L494.0,84.8 L493.5,84.7 L493.0,84.7 L492.5,84.6 L492.0,84.6 L491.5,84.5 L491.0,84.5 L490.5,84.4 L490.0,84.4 L489.5,84.4 L488.9,84.3 L488.4,84.3 L487.9,84.2 L487.4,84.2 L486.9,84.1 L486.4,84.1 L485.9,84.0 L485.4,84.0 L484.9,83.9 L484.4,83.9 L483.9,83.8 L483.4,83.8 L482.9,83.8 L482.4,83.7 L481.9,83.7 L481.4,83.6 L480.9,83.6 L480.4,83.5 L479.9,83.5 L479.4,83.4 L478.9,83.4 L478.4,83.3 L477.9,83.3 L477.4,83.2 L476.9,83.2 L476.4,83.1 L475.9,83.1 L475.4,83.1 L474.9,83.0 L474.3,83.0 L473.8,82.9 L473.3,82.9 L472.8,82.8 L472.3,82.8 L471.8,82.7 L471.3,82.7 L470.8,82.6 L470.3,82.6 L469.8,82.5 L469.3,82.5 L468.8,82.5 L468.3,82.4 L467.8,82.4 L467.3,82.3 L466.8,82.3 L466.3,82.2 L465.8,82.2 L465.3,82.1 L464.8,82.1 L464.3,82.0 L463.8,82.0 L463.3,81.9 L462.8,81.9 L462.3,81.8 L461.8,81.8 L461.3,81.8 L460.8,81.7 L460.3,81.7 L459.8,81.6 L459.2,81.6 L458.7,81.5 L458.2,81.5 L457.7,81.4 L457.2,81.4 L456.7,81.3 L456.2,81.3 L455.7,81.2 L455.2,81.2 L454.7,81.2 L454.2,81.1 L453.7,81.1 L453.2,81.0 L452.7,81.0 L452.2,80.9 Z" fill="#00a991" stroke="#08947e" stroke-width="0.7" stroke-linejoin="round" stroke-linecap="round" fill-opacity="0.9"/>
<line x1="311" y1="68.79" x2="511.6" y2="87.30" stroke="#10a58c" stroke-width="1.1"/>
<line x1="311" y1="67.89" x2="511.6" y2="86.40" stroke="#4a3a9e" stroke-width="1.1"/>
<path d="M311.0,67.1 L312.1,67.1 L313.2,67.4 L314.3,66.4 L315.4,66.3 L316.5,66.1 L317.6,65.2 L318.7,65.4 L319.8,65.2 L320.9,65.0 L322.0,63.5 L323.1,63.4 L324.2,62.7 L325.3,63.5 L326.4,63.0 L327.5,61.7 L328.6,63.0 L329.7,62.7 L330.8,62.0 L331.9,61.7 L333.0,60.9 L334.1,60.5 L335.2,61.3 L336.3,60.6 L337.4,60.9 L338.5,61.1 L339.6,61.0 L340.7,61.9 L341.8,62.3 L342.9,63.3 L344.0,63.3 L345.1,64.1 L346.2,64.5 L347.3,65.5 L348.4,65.8 L349.5,66.2 L350.6,67.9 L351.7,68.4 L352.8,68.6 L353.9,68.7 L355.0,68.4 L356.1,68.4 L357.2,68.4 L358.3,67.8 L359.4,68.5 L360.5,67.5 L361.6,67.7 L362.7,66.6 L363.8,67.0 L364.9,66.5 L366.0,64.6 L367.1,64.5 L368.2,65.0 L369.3,63.7 L370.4,63.7 L371.5,61.8 L372.6,60.0 L373.7,59.6 L374.8,58.7 L375.9,57.1 L377.0,56.3 L378.1,56.6 L379.2,58.1 L380.3,58.7 L381.4,59.2 L382.5,61.5 L383.6,63.6 L384.7,66.0 L385.8,69.8 L386.9,71.0 L388.0,73.2 L389.1,74.1 L390.2,74.4 L391.3,75.7 L392.4,75.1 L393.5,76.2 L394.6,75.7 L395.7,77.1 L396.8,78.3 L397.9,79.2 L399.0,80.9 L400.1,81.2 L401.2,80.7 L402.3,81.9 L403.4,80.8 L404.5,80.8 L405.6,81.3 L406.7,80.8 L407.8,79.9 L408.9,81.5 L410.0,80.5 L411.1,80.6 L412.2,81.4 L413.3,80.3 L414.4,79.8 L415.5,79.0 L416.6,78.5 L417.7,78.9 L418.8,78.0 L419.9,78.2 L421.0,77.4 L422.1,77.2 L423.2,77.7 L424.3,76.6 L425.4,76.3 L426.5,76.5 L427.6,75.0 L428.7,74.5 L429.8,75.2 L430.9,74.5 L432.0,73.0 L433.1,72.4 L434.2,72.6 L435.3,72.3 L436.4,70.5 L437.5,71.0 L438.6,70.3 L439.7,69.1 L440.8,68.2 L441.9,67.0 L443.0,66.1 L444.1,66.8 L445.2,65.0 L446.3,65.1 L447.4,64.0 L448.5,64.4 L449.6,63.6 L450.7,62.8 L451.8,62.3 L452.9,63.1 L454.0,62.0 L455.1,62.4 L456.2,63.1 L457.3,63.8 L458.4,63.7 L459.5,63.7 L460.6,65.4 L461.7,65.2 L462.8,65.8 L463.9,67.2 L465.0,68.4 L466.1,68.7 L467.2,69.8 L468.3,70.9 L469.4,71.8 L470.5,71.5 L471.6,71.9 L472.7,72.2 L473.8,71.4 L474.9,69.6 L476.0,68.4 L477.1,66.9 L478.2,64.9 L479.3,63.3 L480.4,61.6 L481.5,61.1 L482.6,58.6 L483.7,56.8 L484.8,52.7 L485.9,51.0 L487.0,48.0 L488.1,45.6 L489.2,42.3 L490.3,40.7 L491.4,37.3 L492.5,36.9 L493.6,37.0 L494.7,38.3 L495.8,40.3 L496.9,43.5 L498.0,47.6 L499.1,52.0 L500.2,55.7 L501.3,60.8 L502.4,65.7 L503.5,70.1 L504.6,73.7 L505.7,77.4 L506.8,79.8 L507.9,81.4 L509.0,83.6 L510.1,84.7 L511.2,86.0 L512.3,86.6 L513.4,85.7 L514.5,86.6 L515.6,87.2 L516.7,87.0 L517.8,86.8 L518.9,86.2 L520.0,86.8 L521.1,86.5 L522.2,86.3 L523.3,86.9 L524.4,85.7 L525.5,86.8 L526.6,85.6 L527.7,86.6 L528.8,86.4 L529.9,86.0" fill="none" stroke="#2a2a2a" stroke-width="1.0" stroke-linejoin="round" stroke-linecap="round" />
<path d="M348.0,67.3 L348.6,67.4 L349.4,67.7 L350.3,67.9 L351.2,68.1 L352.0,68.3 L352.7,68.4 L353.3,68.5 L353.8,68.6 L354.4,68.7 L355.0,68.7 L355.6,68.7 L356.2,68.8 L356.7,68.8 L357.3,68.7 L358.0,68.6 L358.7,68.4 L359.5,68.1 L360.3,67.7 L361.1,67.4 L362.0,67.0 L363.0,66.6 L364.0,66.3 L365.0,65.9 L366.0,65.4 L367.0,65.0 L367.9,64.6 L368.7,64.1 L369.5,63.6 L370.2,63.1 L371.0,62.5 L371.7,61.8 L372.5,60.9 L373.2,60.0 L373.8,59.2 L374.5,58.5 L375.1,58.0 L375.8,57.5 L376.4,57.1 L377.0,56.9 L377.6,56.8 L378.2,56.9 L378.8,57.1 L379.3,57.4 L379.9,57.9 L380.5,58.5 L381.1,59.3 L381.7,60.3 L382.3,61.5 L382.9,62.7 L383.5,64.0 L384.2,65.4 L384.8,67.1 L385.5,68.7 L386.2,70.2 L386.9,71.5 L387.5,72.5 L388.1,73.2 L388.6,73.8 L389.3,74.3 L390.0,74.8 L391.0,75.3 L392.1,75.7 L393.3,76.0 L394.3,76.3 L395.0,76.5" fill="none" stroke="#9e22ee" stroke-width="1.5" stroke-linejoin="round" stroke-linecap="round" />
<path d="M445.0,65.5 L445.3,65.3 L445.8,65.1 L446.3,64.8 L446.9,64.6 L447.5,64.3 L448.1,64.0 L448.9,63.7 L449.6,63.5 L450.3,63.2 L451.0,63.0 L451.6,62.9 L452.2,62.8 L452.8,62.7 L453.4,62.7 L454.0,62.7 L454.6,62.7 L455.2,62.8 L455.8,62.9 L456.4,63.0 L457.0,63.2 L457.6,63.3 L458.1,63.4 L458.7,63.6 L459.3,63.9 L460.0,64.3 L460.9,65.0 L461.9,65.8 L463.0,66.8 L464.1,67.7 L465.0,68.5 L465.8,69.2 L466.5,69.8 L467.2,70.3 L467.8,70.8 L468.5,71.2 L469.2,71.6 L469.9,71.9 L470.7,72.2 L471.4,72.2 L472.2,72.0 L473.1,71.4 L474.0,70.5 L474.9,69.3 L475.9,68.2 L476.7,67.2 L477.4,66.4 L478.1,65.6 L478.7,64.8 L479.4,64.0 L480.0,63.0 L480.7,61.9 L481.3,60.7 L482.0,59.5 L482.7,58.2 L483.3,56.9 L483.9,55.6 L484.4,54.4 L484.9,53.1 L485.5,51.8 L486.0,50.5 L486.5,49.2 L487.1,47.8 L487.6,46.4 L488.2,45.1 L488.7,43.8 L489.2,42.6 L489.7,41.4 L490.1,40.3 L490.6,39.3 L491.0,38.5 L491.4,37.9 L491.9,37.3 L492.3,37.0 L492.7,36.7 L493.1,36.6 L493.5,36.6 L493.8,36.7 L494.1,37.0 L494.5,37.3 L494.8,37.8 L495.1,38.3 L495.4,39.0 L495.7,39.7 L496.0,40.6 L496.4,41.6 L496.8,42.8 L497.2,44.2 L497.6,45.8 L498.1,47.4 L498.5,49.0 L498.9,50.7 L499.4,52.5 L499.8,54.3 L500.3,56.1 L500.7,58.0 L501.2,59.9 L501.6,61.8 L502.1,63.8 L502.6,65.7 L503.0,67.5 L503.4,69.2 L503.8,71.0 L504.2,72.6 L504.7,74.1 L505.1,75.5 L505.6,76.7 L506.1,77.8 L506.6,78.7 L507.0,79.6 L507.5,80.5 L507.9,81.4 L508.3,82.2 L508.7,82.9 L509.1,83.6 L509.5,84.2 L509.9,84.7 L510.4,85.2 L510.9,85.6 L511.3,86.0 L511.6,86.2" fill="none" stroke="#9e22ee" stroke-width="1.5" stroke-linejoin="round" stroke-linecap="round" />
<text x="362.8" y="43.8" font-size="8.8" fill="#000" stroke="#000" stroke-width="0.22" font-weight="bold" text-anchor="start" textLength="25.8" lengthAdjust="spacingAndGlyphs" >Ni 2p<tspan font-size="5.4" dy="2.0">1/2</tspan></text>
<text x="319.8" y="55.4" font-size="8.8" fill="#000" stroke="#000" stroke-width="0.22" font-weight="bold" text-anchor="start" textLength="12.5" lengthAdjust="spacingAndGlyphs" >Sat.</text>
<text x="352.6" y="60.2" font-size="8.8" fill="#10a58c" stroke="#10a58c" stroke-width="0.22" font-weight="bold" text-anchor="start" transform="translate(352.6 0) scale(0.9 1) translate(-352.6 0)" >Ni<tspan font-size="5.4" dy="-3.4">3+</tspan></text>
<text x="383.1" y="60.2" font-size="8.8" fill="#45c2ef" stroke="#45c2ef" stroke-width="0.22" font-weight="bold" text-anchor="start" transform="translate(383.1 0) scale(0.9 1) translate(-383.1 0)" >Ni<tspan font-size="5.4" dy="-3.4">2+</tspan></text>
<text x="475.6" y="27.9" font-size="8.8" fill="#000" stroke="#000" stroke-width="0.22" font-weight="bold" text-anchor="start" textLength="25.8" lengthAdjust="spacingAndGlyphs" >Ni 2p<tspan font-size="5.4" dy="2.0">3/2</tspan></text>
<text x="427.6" y="61.3" font-size="8.8" fill="#000" stroke="#000" stroke-width="0.22" font-weight="bold" text-anchor="start" textLength="12.4" lengthAdjust="spacingAndGlyphs" >Sat.</text>
<text x="468.4" y="54.7" font-size="8.8" fill="#10a58c" stroke="#10a58c" stroke-width="0.22" font-weight="bold" text-anchor="start" transform="translate(468.4 0) scale(0.9 1) translate(-468.4 0)" >Ni<tspan font-size="5.4" dy="-3.4">3+</tspan></text>
<text x="500.7" y="49.3" font-size="8.8" fill="#45c2ef" stroke="#45c2ef" stroke-width="0.22" font-weight="bold" text-anchor="start" transform="translate(500.7 0) scale(0.9 1) translate(-500.7 0)" >Ni<tspan font-size="5.4" dy="-3.4">2+</tspan></text>
<text x="321.4" y="91.2" font-size="8.6" fill="#000" stroke="#000" stroke-width="0.22" font-weight="bold" text-anchor="start" textLength="53.9" lengthAdjust="spacingAndGlyphs" >a-NF-LDH/NFF</text>
<path d="M311.0,145.1 L311.5,145.0 L312.0,145.0 L312.5,145.0 L313.0,144.9 L313.5,144.9 L314.0,144.8 L314.5,144.7 L315.0,144.7 L315.5,144.6 L316.0,144.5 L316.5,144.5 L317.0,144.4 L317.5,144.3 L318.0,144.2 L318.5,144.1 L319.0,144.0 L319.5,143.9 L320.0,143.8 L320.5,143.7 L321.0,143.6 L321.5,143.5 L322.0,143.4 L322.5,143.3 L323.0,143.2 L323.5,143.1 L324.0,143.0 L324.5,142.9 L325.0,142.7 L325.5,142.6 L326.0,142.5 L326.5,142.4 L327.0,142.3 L327.5,142.2 L328.0,142.1 L328.5,142.1 L329.0,142.0 L329.5,141.9 L330.0,141.8 L330.6,141.8 L331.1,141.7 L331.6,141.7 L332.1,141.6 L332.6,141.6 L333.1,141.6 L333.6,141.5 L334.1,141.5 L334.6,141.5 L335.1,141.5 L335.6,141.6 L336.1,141.6 L336.6,141.6 L337.1,141.7 L337.6,141.8 L338.1,141.8 L338.6,141.9 L339.1,142.0 L339.6,142.1 L340.1,142.2 L340.6,142.3 L341.1,142.5 L341.6,142.6 L342.1,142.7 L342.6,142.9 L343.1,143.1 L343.6,143.2 L344.1,143.4 L344.6,143.6 L345.1,143.8 L345.6,144.0 L346.1,144.2 L346.6,144.4 L347.1,144.6 L347.6,144.8 L348.1,145.1 L348.6,145.3 L349.1,145.5 L349.6,145.7 L350.1,146.0 L350.6,146.2 L351.1,146.4 L351.6,146.7 L352.1,146.9 L352.6,147.1 L353.1,147.4 L353.6,147.6 L354.1,147.8 L354.6,148.0 L355.1,148.3 L355.6,148.5 L356.1,148.7 L356.6,148.9 L357.1,149.1 L357.6,149.3 L358.1,149.5 L358.6,149.7 L359.1,149.9 L359.6,150.1 L360.1,150.3 L360.6,150.5 L361.1,150.7 L361.6,150.8 L362.1,151.0 L362.6,151.2 L363.1,151.3 L363.6,151.5 L364.1,151.6 L364.6,151.8 L365.1,151.9 L365.6,152.0 L366.1,152.2 L366.6,152.3 L367.1,152.4 L367.6,152.6 L368.1,152.7 L368.7,152.8 L369.2,152.9 L369.7,153.0 L370.2,153.1 L370.7,153.2 L371.2,153.3 L371.7,153.4 L372.2,153.5 L372.7,153.6 L373.2,153.7 L373.7,153.8 L374.2,153.9 L374.7,153.9 L375.2,154.0 L375.7,154.1 L376.2,154.2 L376.7,154.3 L377.2,154.3 L377.7,154.4 L378.2,154.5 L378.7,154.6 L379.2,154.6 L379.7,154.7 L380.2,154.8 L380.7,154.8 L381.2,154.9 L381.7,155.0 L382.2,155.0 L382.7,155.1 L383.2,155.2 L383.7,155.2 L384.2,155.3 L384.7,155.4 L385.2,155.4 L385.7,155.5 L386.2,155.5 L386.7,155.6 L387.2,155.7 L387.7,155.7 L387.7,155.8 L387.2,155.7 L386.7,155.6 L386.2,155.6 L385.7,155.5 L385.2,155.4 L384.7,155.4 L384.2,155.3 L383.7,155.3 L383.2,155.2 L382.7,155.1 L382.2,155.1 L381.7,155.0 L381.2,155.0 L380.7,154.9 L380.2,154.8 L379.7,154.8 L379.2,154.7 L378.7,154.7 L378.2,154.6 L377.7,154.5 L377.2,154.5 L376.7,154.4 L376.2,154.3 L375.7,154.3 L375.2,154.2 L374.7,154.2 L374.2,154.1 L373.7,154.0 L373.2,154.0 L372.7,153.9 L372.2,153.9 L371.7,153.8 L371.2,153.7 L370.7,153.7 L370.2,153.6 L369.7,153.6 L369.2,153.5 L368.7,153.4 L368.1,153.4 L367.6,153.3 L367.1,153.3 L366.6,153.2 L366.1,153.1 L365.6,153.1 L365.1,153.0 L364.6,152.9 L364.1,152.9 L363.6,152.8 L363.1,152.8 L362.6,152.7 L362.1,152.6 L361.6,152.6 L361.1,152.5 L360.6,152.5 L360.1,152.4 L359.6,152.3 L359.1,152.3 L358.6,152.2 L358.1,152.2 L357.6,152.1 L357.1,152.0 L356.6,152.0 L356.1,151.9 L355.6,151.8 L355.1,151.8 L354.6,151.7 L354.1,151.7 L353.6,151.6 L353.1,151.5 L352.6,151.5 L352.1,151.4 L351.6,151.4 L351.1,151.3 L350.6,151.2 L350.1,151.2 L349.6,151.1 L349.1,151.1 L348.6,151.0 L348.1,150.9 L347.6,150.9 L347.1,150.8 L346.6,150.8 L346.1,150.7 L345.6,150.6 L345.1,150.6 L344.6,150.5 L344.1,150.4 L343.6,150.4 L343.1,150.3 L342.6,150.3 L342.1,150.2 L341.6,150.1 L341.1,150.1 L340.6,150.0 L340.1,150.0 L339.6,149.9 L339.1,149.8 L338.6,149.8 L338.1,149.7 L337.6,149.7 L337.1,149.6 L336.6,149.5 L336.1,149.5 L335.6,149.4 L335.1,149.3 L334.6,149.3 L334.1,149.2 L333.6,149.2 L333.1,149.1 L332.6,149.0 L332.1,149.0 L331.6,148.9 L331.1,148.9 L330.6,148.8 L330.0,148.7 L329.5,148.7 L329.0,148.6 L328.5,148.6 L328.0,148.5 L327.5,148.4 L327.0,148.4 L326.5,148.3 L326.0,148.3 L325.5,148.2 L325.0,148.1 L324.5,148.1 L324.0,148.0 L323.5,147.9 L323.0,147.9 L322.5,147.8 L322.0,147.8 L321.5,147.7 L321.0,147.6 L320.5,147.6 L320.0,147.5 L319.5,147.5 L319.0,147.4 L318.5,147.3 L318.0,147.3 L317.5,147.2 L317.0,147.2 L316.5,147.1 L316.0,147.0 L315.5,147.0 L315.0,146.9 L314.5,146.8 L314.0,146.8 L313.5,146.7 L313.0,146.7 L312.5,146.6 L312.0,146.5 L311.5,146.5 L311.0,146.4 Z" fill="#988ddf" stroke="#5f50b8" stroke-width="0.7" stroke-linejoin="round" stroke-linecap="round" fill-opacity="0.9"/>
<path d="M408.1,158.2 L408.6,158.3 L409.1,158.3 L409.6,158.4 L410.1,158.4 L410.6,158.5 L411.1,158.5 L411.6,158.6 L412.1,158.7 L412.6,158.7 L413.1,158.8 L413.6,158.8 L414.1,158.9 L414.6,158.9 L415.1,159.0 L415.6,159.0 L416.1,159.0 L416.6,159.1 L417.1,159.1 L417.6,159.2 L418.1,159.2 L418.6,159.2 L419.1,159.3 L419.6,159.3 L420.1,159.3 L420.6,159.3 L421.1,159.4 L421.6,159.4 L422.1,159.4 L422.6,159.4 L423.1,159.4 L423.6,159.4 L424.1,159.4 L424.6,159.4 L425.2,159.4 L425.7,159.3 L426.2,159.3 L426.7,159.3 L427.2,159.2 L427.7,159.2 L428.2,159.1 L428.7,159.1 L429.2,159.0 L429.7,158.9 L430.2,158.9 L430.7,158.8 L431.2,158.7 L431.7,158.5 L432.2,158.4 L432.7,158.3 L433.2,158.2 L433.7,158.0 L434.2,157.9 L434.7,157.7 L435.2,157.5 L435.7,157.3 L436.2,157.2 L436.7,157.0 L437.2,156.7 L437.7,156.5 L438.2,156.3 L438.7,156.1 L439.2,155.8 L439.7,155.6 L440.2,155.3 L440.7,155.1 L441.2,154.8 L441.7,154.5 L442.2,154.3 L442.7,154.0 L443.2,153.7 L443.7,153.4 L444.2,153.1 L444.7,152.8 L445.2,152.5 L445.7,152.3 L446.2,152.0 L446.7,151.7 L447.2,151.4 L447.7,151.2 L448.2,150.9 L448.7,150.6 L449.2,150.4 L449.7,150.1 L450.2,149.9 L450.7,149.7 L451.2,149.5 L451.7,149.3 L452.2,149.1 L452.7,149.0 L453.2,148.8 L453.7,148.7 L454.2,148.6 L454.7,148.5 L455.2,148.4 L455.7,148.3 L456.2,148.3 L456.7,148.3 L457.2,148.3 L457.7,148.3 L458.2,148.3 L458.8,148.4 L459.3,148.5 L459.8,148.6 L460.3,148.8 L460.8,149.0 L461.3,149.2 L461.8,149.4 L462.3,149.7 L462.8,150.0 L463.3,150.4 L463.8,150.7 L464.3,151.1 L464.8,151.5 L465.3,151.9 L465.8,152.4 L466.3,152.8 L466.8,153.3 L467.3,153.8 L467.8,154.3 L468.3,154.8 L468.8,155.3 L469.3,155.8 L469.8,156.3 L470.3,156.8 L470.8,157.3 L471.3,157.8 L471.8,158.3 L472.3,158.7 L472.8,159.2 L473.3,159.7 L473.8,160.1 L474.3,160.6 L474.8,161.0 L475.3,161.4 L475.8,161.8 L476.3,162.2 L476.8,162.6 L477.3,162.9 L477.8,163.3 L478.3,163.6 L478.8,163.9 L479.3,164.2 L479.8,164.5 L480.3,164.8 L480.8,165.0 L481.3,165.3 L481.8,165.5 L482.3,165.7 L482.8,165.9 L483.3,166.1 L483.8,166.3 L484.3,166.5 L484.8,166.7 L485.3,166.8 L485.8,167.0 L486.3,167.1 L486.8,167.2 L487.3,167.4 L487.8,167.5 L488.3,167.6 L488.8,167.7 L489.3,167.8 L489.8,167.9 L490.3,168.0 L490.8,168.1 L491.3,168.2 L491.8,168.3 L492.4,168.3 L492.9,168.4 L493.4,168.5 L493.9,168.6 L494.4,168.6 L494.9,168.7 L495.4,168.8 L495.9,168.9 L496.4,168.9 L496.9,169.0 L497.4,169.1 L497.9,169.1 L498.4,169.2 L498.9,169.3 L499.4,169.3 L499.9,169.4 L500.4,169.4 L500.9,169.5 L501.4,169.6 L501.9,169.6 L502.4,169.7 L502.9,169.8 L503.4,169.8 L503.9,169.9 L504.4,169.9 L504.9,170.0 L505.4,170.1 L505.9,170.1 L506.4,170.2 L506.9,170.2 L507.4,170.3 L507.9,170.4 L508.4,170.4 L508.9,170.5 L508.9,170.5 L508.4,170.4 L507.9,170.4 L507.4,170.3 L506.9,170.2 L506.4,170.2 L505.9,170.1 L505.4,170.1 L504.9,170.0 L504.4,169.9 L503.9,169.9 L503.4,169.8 L502.9,169.8 L502.4,169.7 L501.9,169.6 L501.4,169.6 L500.9,169.5 L500.4,169.5 L499.9,169.4 L499.4,169.3 L498.9,169.3 L498.4,169.2 L497.9,169.1 L497.4,169.1 L496.9,169.0 L496.4,169.0 L495.9,168.9 L495.4,168.8 L494.9,168.8 L494.4,168.7 L493.9,168.7 L493.4,168.6 L492.9,168.5 L492.4,168.5 L491.8,168.4 L491.3,168.4 L490.8,168.3 L490.3,168.2 L489.8,168.2 L489.3,168.1 L488.8,168.1 L488.3,168.0 L487.8,167.9 L487.3,167.9 L486.8,167.8 L486.3,167.7 L485.8,167.7 L485.3,167.6 L484.8,167.6 L484.3,167.5 L483.8,167.4 L483.3,167.4 L482.8,167.3 L482.3,167.3 L481.8,167.2 L481.3,167.1 L480.8,167.1 L480.3,167.0 L479.8,167.0 L479.3,166.9 L478.8,166.8 L478.3,166.8 L477.8,166.7 L477.3,166.6 L476.8,166.6 L476.3,166.5 L475.8,166.5 L475.3,166.4 L474.8,166.3 L474.3,166.3 L473.8,166.2 L473.3,166.2 L472.8,166.1 L472.3,166.0 L471.8,166.0 L471.3,165.9 L470.8,165.9 L470.3,165.8 L469.8,165.7 L469.3,165.7 L468.8,165.6 L468.3,165.6 L467.8,165.5 L467.3,165.4 L466.8,165.4 L466.3,165.3 L465.8,165.2 L465.3,165.2 L464.8,165.1 L464.3,165.1 L463.8,165.0 L463.3,164.9 L462.8,164.9 L462.3,164.8 L461.8,164.8 L461.3,164.7 L460.8,164.6 L460.3,164.6 L459.8,164.5 L459.3,164.5 L458.8,164.4 L458.2,164.3 L457.7,164.3 L457.2,164.2 L456.7,164.1 L456.2,164.1 L455.7,164.0 L455.2,164.0 L454.7,163.9 L454.2,163.8 L453.7,163.8 L453.2,163.7 L452.7,163.7 L452.2,163.6 L451.7,163.5 L451.2,163.5 L450.7,163.4 L450.2,163.4 L449.7,163.3 L449.2,163.2 L448.7,163.2 L448.2,163.1 L447.7,163.0 L447.2,163.0 L446.7,162.9 L446.2,162.9 L445.7,162.8 L445.2,162.7 L444.7,162.7 L444.2,162.6 L443.7,162.6 L443.2,162.5 L442.7,162.4 L442.2,162.4 L441.7,162.3 L441.2,162.3 L440.7,162.2 L440.2,162.1 L439.7,162.1 L439.2,162.0 L438.7,162.0 L438.2,161.9 L437.7,161.8 L437.2,161.8 L436.7,161.7 L436.2,161.6 L435.7,161.6 L435.2,161.5 L434.7,161.5 L434.2,161.4 L433.7,161.3 L433.2,161.3 L432.7,161.2 L432.2,161.2 L431.7,161.1 L431.2,161.0 L430.7,161.0 L430.2,160.9 L429.7,160.9 L429.2,160.8 L428.7,160.7 L428.2,160.7 L427.7,160.6 L427.2,160.5 L426.7,160.5 L426.2,160.4 L425.7,160.4 L425.2,160.3 L424.6,160.2 L424.1,160.2 L423.6,160.1 L423.1,160.1 L422.6,160.0 L422.1,159.9 L421.6,159.9 L421.1,159.8 L420.6,159.8 L420.1,159.7 L419.6,159.6 L419.1,159.6 L418.6,159.5 L418.1,159.5 L417.6,159.4 L417.1,159.3 L416.6,159.3 L416.1,159.2 L415.6,159.1 L415.1,159.1 L414.6,159.0 L414.1,159.0 L413.6,158.9 L413.1,158.8 L412.6,158.8 L412.1,158.7 L411.6,158.7 L411.1,158.6 L410.6,158.5 L410.1,158.5 L409.6,158.4 L409.1,158.4 L408.6,158.3 L408.1,158.2 Z" fill="#988ddf" stroke="#5f50b8" stroke-width="0.7" stroke-linejoin="round" stroke-linecap="round" fill-opacity="0.9"/>
<path d="M362.0,152.6 L362.5,152.7 L363.0,152.7 L363.5,152.8 L364.0,152.8 L364.5,152.8 L365.0,152.9 L365.5,152.9 L366.0,152.9 L366.5,152.9 L367.0,152.9 L367.5,152.9 L368.0,152.8 L368.5,152.7 L369.0,152.6 L369.5,152.5 L370.0,152.3 L370.5,152.0 L371.0,151.8 L371.5,151.5 L372.0,151.1 L372.5,150.7 L373.0,150.3 L373.5,149.8 L374.0,149.3 L374.5,148.8 L375.0,148.3 L375.5,147.7 L376.0,147.2 L376.5,146.7 L377.0,146.3 L377.5,145.9 L378.0,145.5 L378.5,145.3 L379.0,145.1 L379.5,145.0 L380.0,145.0 L380.5,145.1 L381.0,145.3 L381.5,145.6 L382.0,146.0 L382.5,146.5 L383.0,147.0 L383.5,147.6 L384.0,148.2 L384.5,148.8 L385.0,149.5 L385.5,150.1 L386.0,150.8 L386.5,151.4 L387.0,152.0 L387.5,152.5 L388.0,153.1 L388.5,153.5 L389.0,154.0 L389.5,154.4 L390.0,154.7 L390.5,155.0 L391.0,155.3 L391.5,155.5 L392.0,155.7 L392.5,155.9 L393.0,156.1 L393.5,156.2 L394.0,156.3 L394.5,156.4 L395.0,156.5 L395.5,156.6 L396.0,156.7 L396.5,156.8 L397.0,156.9 L397.5,156.9 L398.0,157.0 L398.0,157.0 L397.5,156.9 L397.0,156.9 L396.5,156.8 L396.0,156.8 L395.5,156.7 L395.0,156.6 L394.5,156.6 L394.0,156.5 L393.5,156.5 L393.0,156.4 L392.5,156.3 L392.0,156.3 L391.5,156.2 L391.0,156.2 L390.5,156.1 L390.0,156.0 L389.5,156.0 L389.0,155.9 L388.5,155.8 L388.0,155.8 L387.5,155.7 L387.0,155.7 L386.5,155.6 L386.0,155.5 L385.5,155.5 L385.0,155.4 L384.5,155.4 L384.0,155.3 L383.5,155.2 L383.0,155.2 L382.5,155.1 L382.0,155.1 L381.5,155.0 L381.0,154.9 L380.5,154.9 L380.0,154.8 L379.5,154.8 L379.0,154.7 L378.5,154.6 L378.0,154.6 L377.5,154.5 L377.0,154.4 L376.5,154.4 L376.0,154.3 L375.5,154.3 L375.0,154.2 L374.5,154.1 L374.0,154.1 L373.5,154.0 L373.0,154.0 L372.5,153.9 L372.0,153.8 L371.5,153.8 L371.0,153.7 L370.5,153.7 L370.0,153.6 L369.5,153.5 L369.0,153.5 L368.5,153.4 L368.0,153.4 L367.5,153.3 L367.0,153.2 L366.5,153.2 L366.0,153.1 L365.5,153.1 L365.0,153.0 L364.5,152.9 L364.0,152.9 L363.5,152.8 L363.0,152.7 L362.5,152.7 L362.0,152.6 Z" fill="#67cbf4" stroke="#3ab6ea" stroke-width="0.7" stroke-linejoin="round" stroke-linecap="round" fill-opacity="0.9"/>
<path d="M475.7,166.4 L476.2,166.5 L476.7,166.5 L477.2,166.5 L477.7,166.5 L478.2,166.5 L478.7,166.5 L479.2,166.5 L479.7,166.5 L480.2,166.4 L480.7,166.3 L481.2,166.1 L481.7,165.9 L482.2,165.6 L482.7,165.3 L483.2,164.9 L483.7,164.4 L484.2,163.8 L484.7,163.2 L485.2,162.4 L485.7,161.5 L486.2,160.5 L486.7,159.4 L487.2,158.2 L487.7,156.9 L488.2,155.5 L488.7,154.1 L489.2,152.5 L489.7,151.0 L490.2,149.4 L490.7,147.8 L491.2,146.3 L491.7,144.8 L492.2,143.5 L492.7,142.2 L493.2,141.2 L493.7,140.3 L494.2,139.7 L494.7,139.2 L495.2,139.1 L495.8,139.1 L496.3,139.4 L496.8,140.0 L497.3,140.8 L497.8,141.7 L498.3,142.9 L498.8,144.3 L499.3,145.7 L499.8,147.3 L500.3,149.0 L500.8,150.6 L501.3,152.4 L501.8,154.0 L502.3,155.7 L502.8,157.3 L503.3,158.8 L503.8,160.2 L504.3,161.6 L504.8,162.8 L505.3,163.9 L505.8,164.9 L506.3,165.8 L506.8,166.6 L507.3,167.3 L507.8,167.9 L508.3,168.4 L508.8,168.9 L509.3,169.2 L509.8,169.6 L510.3,169.9 L510.8,170.1 L511.3,170.3 L511.8,170.5 L512.3,170.6 L512.8,170.8 L513.3,170.9 L513.8,171.0 L514.3,171.1 L514.8,171.1 L515.3,171.2 L515.3,171.3 L514.8,171.2 L514.3,171.1 L513.8,171.1 L513.3,171.0 L512.8,171.0 L512.3,170.9 L511.8,170.8 L511.3,170.8 L510.8,170.7 L510.3,170.7 L509.8,170.6 L509.3,170.5 L508.8,170.5 L508.3,170.4 L507.8,170.4 L507.3,170.3 L506.8,170.2 L506.3,170.2 L505.8,170.1 L505.3,170.0 L504.8,170.0 L504.3,169.9 L503.8,169.9 L503.3,169.8 L502.8,169.7 L502.3,169.7 L501.8,169.6 L501.3,169.6 L500.8,169.5 L500.3,169.4 L499.8,169.4 L499.3,169.3 L498.8,169.3 L498.3,169.2 L497.8,169.1 L497.3,169.1 L496.8,169.0 L496.3,169.0 L495.8,168.9 L495.2,168.8 L494.7,168.8 L494.2,168.7 L493.7,168.6 L493.2,168.6 L492.7,168.5 L492.2,168.5 L491.7,168.4 L491.2,168.3 L490.7,168.3 L490.2,168.2 L489.7,168.2 L489.2,168.1 L488.7,168.0 L488.2,168.0 L487.7,167.9 L487.2,167.9 L486.7,167.8 L486.2,167.7 L485.7,167.7 L485.2,167.6 L484.7,167.6 L484.2,167.5 L483.7,167.4 L483.2,167.4 L482.7,167.3 L482.2,167.2 L481.7,167.2 L481.2,167.1 L480.7,167.1 L480.2,167.0 L479.7,166.9 L479.2,166.9 L478.7,166.8 L478.2,166.8 L477.7,166.7 L477.2,166.6 L476.7,166.6 L476.2,166.5 L475.7,166.5 Z" fill="#67cbf4" stroke="#3ab6ea" stroke-width="0.7" stroke-linejoin="round" stroke-linecap="round" fill-opacity="0.9"/>
<path d="M384.8,155.4 L385.3,155.4 L385.8,155.5 L386.3,155.5 L386.8,155.5 L387.3,155.6 L387.8,155.6 L388.3,155.6 L388.9,155.5 L389.4,155.5 L389.9,155.4 L390.4,155.2 L390.9,155.0 L391.4,154.8 L391.9,154.5 L392.4,154.1 L392.9,153.6 L393.4,153.1 L393.9,152.5 L394.4,151.8 L394.9,151.0 L395.4,150.2 L395.9,149.3 L396.4,148.4 L396.9,147.5 L397.5,146.7 L398.0,145.9 L398.5,145.1 L399.0,144.5 L399.5,144.0 L400.0,143.6 L400.5,143.4 L401.0,143.4 L401.5,143.5 L402.0,143.8 L402.5,144.3 L403.0,145.0 L403.5,145.7 L404.0,146.6 L404.5,147.5 L405.1,148.5 L405.6,149.5 L406.1,150.5 L406.6,151.5 L407.1,152.5 L407.6,153.4 L408.1,154.2 L408.6,154.9 L409.1,155.6 L409.6,156.2 L410.1,156.7 L410.6,157.1 L411.1,157.5 L411.6,157.8 L412.1,158.1 L412.6,158.3 L413.1,158.5 L413.7,158.6 L414.2,158.8 L414.7,158.9 L415.2,159.0 L415.7,159.1 L416.2,159.2 L416.7,159.2 L417.2,159.3 L417.2,159.3 L416.7,159.3 L416.2,159.2 L415.7,159.2 L415.2,159.1 L414.7,159.0 L414.2,159.0 L413.7,158.9 L413.1,158.8 L412.6,158.8 L412.1,158.7 L411.6,158.7 L411.1,158.6 L410.6,158.5 L410.1,158.5 L409.6,158.4 L409.1,158.4 L408.6,158.3 L408.1,158.2 L407.6,158.2 L407.1,158.1 L406.6,158.0 L406.1,158.0 L405.6,157.9 L405.1,157.9 L404.5,157.8 L404.0,157.7 L403.5,157.7 L403.0,157.6 L402.5,157.6 L402.0,157.5 L401.5,157.4 L401.0,157.4 L400.5,157.3 L400.0,157.2 L399.5,157.2 L399.0,157.1 L398.5,157.1 L398.0,157.0 L397.5,156.9 L396.9,156.9 L396.4,156.8 L395.9,156.8 L395.4,156.7 L394.9,156.6 L394.4,156.6 L393.9,156.5 L393.4,156.4 L392.9,156.4 L392.4,156.3 L391.9,156.3 L391.4,156.2 L390.9,156.1 L390.4,156.1 L389.9,156.0 L389.4,156.0 L388.9,155.9 L388.3,155.8 L387.8,155.8 L387.3,155.7 L386.8,155.6 L386.3,155.6 L385.8,155.5 L385.3,155.5 L384.8,155.4 Z" fill="#f8ae8d" stroke="#f09a70" stroke-width="0.7" stroke-linejoin="round" stroke-linecap="round" fill-opacity="0.9"/>
<path d="M502.6,169.7 L503.1,169.7 L503.6,169.6 L504.1,169.6 L504.6,169.4 L505.1,169.2 L505.7,168.8 L506.2,168.2 L506.7,167.3 L507.2,166.2 L507.7,164.7 L508.2,162.7 L508.7,160.3 L509.2,157.3 L509.7,153.9 L510.2,150.0 L510.7,145.8 L511.2,141.4 L511.7,137.0 L512.2,132.9 L512.7,129.2 L513.2,126.2 L513.7,124.1 L514.2,123.1 L514.8,123.1 L515.3,124.3 L515.8,126.5 L516.3,129.6 L516.8,133.4 L517.3,137.7 L517.8,142.2 L518.3,146.7 L518.8,151.0 L519.3,155.0 L519.8,158.6 L520.3,161.7 L520.8,164.2 L521.3,166.3 L521.8,168.0 L522.3,169.2 L522.8,170.2 L523.3,170.9 L523.9,171.4 L524.4,171.8 L524.9,172.1 L525.4,172.3 L525.9,172.4 L526.4,172.5 L526.4,172.6 L525.9,172.6 L525.4,172.5 L524.9,172.4 L524.4,172.4 L523.9,172.3 L523.3,172.2 L522.8,172.2 L522.3,172.1 L521.8,172.1 L521.3,172.0 L520.8,171.9 L520.3,171.9 L519.8,171.8 L519.3,171.8 L518.8,171.7 L518.3,171.6 L517.8,171.6 L517.3,171.5 L516.8,171.4 L516.3,171.4 L515.8,171.3 L515.3,171.3 L514.8,171.2 L514.2,171.1 L513.7,171.1 L513.2,171.0 L512.7,171.0 L512.2,170.9 L511.7,170.8 L511.2,170.8 L510.7,170.7 L510.2,170.6 L509.7,170.6 L509.2,170.5 L508.7,170.5 L508.2,170.4 L507.7,170.3 L507.2,170.3 L506.7,170.2 L506.2,170.2 L505.7,170.1 L505.1,170.0 L504.6,170.0 L504.1,169.9 L503.6,169.8 L503.1,169.8 L502.6,169.7 Z" fill="#f8ae8d" stroke="#f09a70" stroke-width="0.7" stroke-linejoin="round" stroke-linecap="round" fill-opacity="0.9"/>
<path d="M330.4,148.8 L330.9,148.8 L331.4,148.9 L331.9,148.9 L332.4,149.0 L332.9,149.1 L333.4,149.1 L333.9,149.2 L334.4,149.2 L334.9,149.3 L335.4,149.3 L335.9,149.4 L336.4,149.4 L336.9,149.5 L337.4,149.5 L337.9,149.6 L338.4,149.6 L338.9,149.7 L339.4,149.7 L339.9,149.7 L340.4,149.8 L340.9,149.8 L341.4,149.8 L341.9,149.9 L342.4,149.9 L342.9,149.9 L343.4,149.9 L343.9,149.9 L344.4,149.9 L344.9,149.9 L345.4,149.9 L345.9,149.9 L346.4,149.9 L346.9,149.8 L347.4,149.8 L347.9,149.8 L348.4,149.7 L348.9,149.6 L349.4,149.6 L349.9,149.5 L350.4,149.4 L350.9,149.3 L351.4,149.3 L351.9,149.2 L352.4,149.1 L352.9,148.9 L353.4,148.8 L353.9,148.7 L354.4,148.6 L354.9,148.5 L355.4,148.3 L355.9,148.2 L356.4,148.1 L356.9,147.9 L357.4,147.8 L357.9,147.7 L358.4,147.5 L358.9,147.4 L359.4,147.3 L359.9,147.2 L360.4,147.1 L360.9,147.0 L361.4,146.9 L361.9,146.8 L362.4,146.8 L362.9,146.7 L363.4,146.7 L363.9,146.7 L364.4,146.6 L364.9,146.6 L365.4,146.7 L365.9,146.7 L366.4,146.8 L366.9,146.8 L367.4,146.9 L367.9,147.0 L368.4,147.1 L368.9,147.3 L369.4,147.4 L369.9,147.6 L370.4,147.7 L370.9,147.9 L371.4,148.1 L371.9,148.3 L372.4,148.5 L372.9,148.8 L373.4,149.0 L373.9,149.2 L374.4,149.5 L374.9,149.7 L375.4,150.0 L375.9,150.2 L376.4,150.5 L376.9,150.7 L377.4,151.0 L377.9,151.3 L378.4,151.5 L378.9,151.7 L379.4,152.0 L379.9,152.2 L380.4,152.5 L380.9,152.7 L381.4,152.9 L381.9,153.1 L382.4,153.3 L382.9,153.5 L383.4,153.7 L383.9,153.9 L384.4,154.1 L384.9,154.3 L385.4,154.4 L385.9,154.6 L386.4,154.7 L386.9,154.9 L387.4,155.0 L387.9,155.1 L388.4,155.3 L388.9,155.4 L389.4,155.5 L389.9,155.6 L390.4,155.7 L390.9,155.8 L391.4,155.9 L391.9,156.0 L392.4,156.1 L392.9,156.2 L393.4,156.3 L393.9,156.4 L394.4,156.4 L394.9,156.5 L395.4,156.6 L395.9,156.7 L396.4,156.7 L396.9,156.8 L397.4,156.9 L397.9,156.9 L398.4,157.0 L398.9,157.1 L399.4,157.1 L399.9,157.2 L400.4,157.3 L400.9,157.3 L401.4,157.4 L401.9,157.5 L402.4,157.5 L402.4,157.5 L401.9,157.5 L401.4,157.4 L400.9,157.4 L400.4,157.3 L399.9,157.2 L399.4,157.2 L398.9,157.1 L398.4,157.1 L397.9,157.0 L397.4,156.9 L396.9,156.9 L396.4,156.8 L395.9,156.7 L395.4,156.7 L394.9,156.6 L394.4,156.6 L393.9,156.5 L393.4,156.4 L392.9,156.4 L392.4,156.3 L391.9,156.3 L391.4,156.2 L390.9,156.1 L390.4,156.1 L389.9,156.0 L389.4,156.0 L388.9,155.9 L388.4,155.8 L387.9,155.8 L387.4,155.7 L386.9,155.7 L386.4,155.6 L385.9,155.5 L385.4,155.5 L384.9,155.4 L384.4,155.3 L383.9,155.3 L383.4,155.2 L382.9,155.2 L382.4,155.1 L381.9,155.0 L381.4,155.0 L380.9,154.9 L380.4,154.9 L379.9,154.8 L379.4,154.7 L378.9,154.7 L378.4,154.6 L377.9,154.6 L377.4,154.5 L376.9,154.4 L376.4,154.4 L375.9,154.3 L375.4,154.3 L374.9,154.2 L374.4,154.1 L373.9,154.1 L373.4,154.0 L372.9,154.0 L372.4,153.9 L371.9,153.8 L371.4,153.8 L370.9,153.7 L370.4,153.6 L369.9,153.6 L369.4,153.5 L368.9,153.5 L368.4,153.4 L367.9,153.3 L367.4,153.3 L366.9,153.2 L366.4,153.2 L365.9,153.1 L365.4,153.0 L364.9,153.0 L364.4,152.9 L363.9,152.9 L363.4,152.8 L362.9,152.7 L362.4,152.7 L361.9,152.6 L361.4,152.6 L360.9,152.5 L360.4,152.4 L359.9,152.4 L359.4,152.3 L358.9,152.2 L358.4,152.2 L357.9,152.1 L357.4,152.1 L356.9,152.0 L356.4,151.9 L355.9,151.9 L355.4,151.8 L354.9,151.8 L354.4,151.7 L353.9,151.6 L353.4,151.6 L352.9,151.5 L352.4,151.5 L351.9,151.4 L351.4,151.3 L350.9,151.3 L350.4,151.2 L349.9,151.2 L349.4,151.1 L348.9,151.0 L348.4,151.0 L347.9,150.9 L347.4,150.8 L346.9,150.8 L346.4,150.7 L345.9,150.7 L345.4,150.6 L344.9,150.5 L344.4,150.5 L343.9,150.4 L343.4,150.4 L342.9,150.3 L342.4,150.2 L341.9,150.2 L341.4,150.1 L340.9,150.1 L340.4,150.0 L339.9,149.9 L339.4,149.9 L338.9,149.8 L338.4,149.8 L337.9,149.7 L337.4,149.6 L336.9,149.6 L336.4,149.5 L335.9,149.5 L335.4,149.4 L334.9,149.3 L334.4,149.3 L333.9,149.2 L333.4,149.1 L332.9,149.1 L332.4,149.0 L331.9,149.0 L331.4,148.9 L330.9,148.8 L330.4,148.8 Z" fill="#00a991" stroke="#08947e" stroke-width="0.7" stroke-linejoin="round" stroke-linecap="round" fill-opacity="0.9"/>
<path d="M463.7,165.0 L464.2,165.0 L464.7,165.1 L465.2,165.1 L465.7,165.2 L466.2,165.2 L466.7,165.3 L467.2,165.3 L467.7,165.4 L468.2,165.4 L468.7,165.4 L469.2,165.4 L469.7,165.5 L470.2,165.5 L470.7,165.4 L471.2,165.4 L471.7,165.4 L472.2,165.3 L472.7,165.2 L473.2,165.1 L473.7,165.0 L474.2,164.8 L474.8,164.7 L475.3,164.5 L475.8,164.3 L476.3,164.0 L476.8,163.7 L477.3,163.5 L477.8,163.2 L478.3,162.8 L478.8,162.5 L479.3,162.2 L479.8,161.8 L480.3,161.5 L480.8,161.2 L481.3,160.9 L481.8,160.6 L482.3,160.4 L482.8,160.2 L483.3,160.0 L483.8,159.9 L484.3,159.8 L484.8,159.8 L485.3,159.8 L485.8,159.9 L486.3,160.1 L486.8,160.2 L487.3,160.5 L487.8,160.8 L488.3,161.1 L488.8,161.5 L489.3,161.9 L489.8,162.3 L490.3,162.7 L490.8,163.2 L491.3,163.6 L491.8,164.1 L492.3,164.6 L492.8,165.0 L493.3,165.4 L493.8,165.8 L494.3,166.2 L494.8,166.6 L495.3,166.9 L495.8,167.2 L496.4,167.5 L496.9,167.8 L497.4,168.1 L497.9,168.3 L498.4,168.5 L498.9,168.7 L499.4,168.8 L499.9,169.0 L500.4,169.1 L500.9,169.2 L501.4,169.4 L501.9,169.5 L502.4,169.6 L502.9,169.7 L503.4,169.7 L503.9,169.8 L504.4,169.9 L504.9,170.0 L505.4,170.0 L505.9,170.1 L506.4,170.2 L506.9,170.2 L506.9,170.2 L506.4,170.2 L505.9,170.1 L505.4,170.1 L504.9,170.0 L504.4,169.9 L503.9,169.9 L503.4,169.8 L502.9,169.8 L502.4,169.7 L501.9,169.6 L501.4,169.6 L500.9,169.5 L500.4,169.5 L499.9,169.4 L499.4,169.3 L498.9,169.3 L498.4,169.2 L497.9,169.1 L497.4,169.1 L496.9,169.0 L496.4,169.0 L495.8,168.9 L495.3,168.8 L494.8,168.8 L494.3,168.7 L493.8,168.7 L493.3,168.6 L492.8,168.5 L492.3,168.5 L491.8,168.4 L491.3,168.4 L490.8,168.3 L490.3,168.2 L489.8,168.2 L489.3,168.1 L488.8,168.0 L488.3,168.0 L487.8,167.9 L487.3,167.9 L486.8,167.8 L486.3,167.7 L485.8,167.7 L485.3,167.6 L484.8,167.6 L484.3,167.5 L483.8,167.4 L483.3,167.4 L482.8,167.3 L482.3,167.3 L481.8,167.2 L481.3,167.1 L480.8,167.1 L480.3,167.0 L479.8,166.9 L479.3,166.9 L478.8,166.8 L478.3,166.8 L477.8,166.7 L477.3,166.6 L476.8,166.6 L476.3,166.5 L475.8,166.5 L475.3,166.4 L474.8,166.3 L474.2,166.3 L473.7,166.2 L473.2,166.2 L472.7,166.1 L472.2,166.0 L471.7,166.0 L471.2,165.9 L470.7,165.8 L470.2,165.8 L469.7,165.7 L469.2,165.7 L468.7,165.6 L468.2,165.5 L467.7,165.5 L467.2,165.4 L466.7,165.4 L466.2,165.3 L465.7,165.2 L465.2,165.2 L464.7,165.1 L464.2,165.1 L463.7,165.0 Z" fill="#00a991" stroke="#08947e" stroke-width="0.7" stroke-linejoin="round" stroke-linecap="round" fill-opacity="0.9"/>
<line x1="311" y1="147.32" x2="532" y2="174.20" stroke="#10a58c" stroke-width="1.1"/>
<line x1="311" y1="146.42" x2="532" y2="173.30" stroke="#4a3a9e" stroke-width="1.1"/>
<path d="M311.0,146.2 L312.1,146.3 L313.2,146.1 L314.3,145.0 L315.4,144.6 L316.5,145.0 L317.6,144.7 L318.7,145.4 L319.8,145.0 L320.9,144.5 L322.0,144.2 L323.1,144.2 L324.2,143.0 L325.3,143.3 L326.4,142.6 L327.5,143.8 L328.6,142.0 L329.7,143.2 L330.8,141.6 L331.9,142.6 L333.0,141.8 L334.1,141.7 L335.2,142.3 L336.3,140.7 L337.4,140.7 L338.5,142.2 L339.6,141.4 L340.7,140.7 L341.8,142.4 L342.9,142.4 L344.0,141.0 L345.1,141.7 L346.2,141.2 L347.3,141.7 L348.4,142.4 L349.5,141.6 L350.6,142.7 L351.7,141.7 L352.8,142.0 L353.9,143.3 L355.0,142.6 L356.1,142.8 L357.2,143.2 L358.3,143.1 L359.4,143.0 L360.5,142.4 L361.6,143.6 L362.7,144.0 L363.8,143.9 L364.9,143.2 L366.0,142.5 L367.1,142.5 L368.2,143.0 L369.3,142.8 L370.4,141.5 L371.5,141.2 L372.6,140.9 L373.7,140.7 L374.8,140.7 L375.9,139.5 L377.0,138.2 L378.1,139.2 L379.2,138.5 L380.3,138.9 L381.4,138.9 L382.5,140.4 L383.6,141.8 L384.7,143.9 L385.8,144.2 L386.9,146.4 L388.0,146.9 L389.1,148.8 L390.2,148.4 L391.3,149.1 L392.4,149.1 L393.5,149.1 L394.6,147.2 L395.7,146.8 L396.8,145.2 L397.9,144.2 L399.0,143.8 L400.1,144.2 L401.2,143.5 L402.3,145.1 L403.4,145.0 L404.5,148.4 L405.6,149.2 L406.7,150.3 L407.8,152.7 L408.9,154.2 L410.0,153.6 L411.1,155.0 L412.2,156.5 L413.3,156.1 L414.4,156.2 L415.5,156.0 L416.6,156.2 L417.7,157.4 L418.8,158.1 L419.9,158.2 L421.0,157.3 L422.1,156.4 L423.2,156.8 L424.3,157.5 L425.4,157.5 L426.5,157.0 L427.6,156.1 L428.7,156.5 L429.8,156.2 L430.9,156.3 L432.0,155.4 L433.1,156.3 L434.2,155.9 L435.3,154.3 L436.4,154.2 L437.5,155.0 L438.6,153.6 L439.7,154.4 L440.8,153.3 L441.9,153.2 L443.0,152.8 L444.1,151.5 L445.2,151.2 L446.3,150.7 L447.4,151.1 L448.5,150.7 L449.6,149.3 L450.7,150.2 L451.8,149.1 L452.9,148.6 L454.0,148.8 L455.1,149.7 L456.2,148.9 L457.3,149.0 L458.4,149.6 L459.5,149.7 L460.6,149.4 L461.7,149.0 L462.8,149.6 L463.9,150.5 L465.0,150.6 L466.1,150.7 L467.2,150.7 L468.3,151.1" fill="none" stroke="#2a2a2a" stroke-width="0.9" stroke-linejoin="round" stroke-linecap="round" />
<path d="M311.0,146.2 L312.3,146.0 L314.1,145.7 L316.1,145.3 L318.0,145.0 L319.6,144.7 L321.2,144.3 L322.9,143.9 L325.0,143.5 L327.7,143.0 L330.9,142.4 L334.2,141.8 L337.0,141.5 L339.4,141.4 L341.4,141.5 L343.3,141.7 L345.0,141.8 L346.3,141.9 L347.4,142.0 L348.5,142.1 L350.0,142.3 L352.2,142.5 L354.9,142.8 L357.7,143.1 L360.0,143.2 L361.8,143.2 L363.4,143.1 L364.7,142.9 L366.0,142.8 L367.1,142.7 L368.1,142.6 L369.0,142.5 L370.0,142.3 L371.0,141.9 L372.1,141.5 L373.1,141.0 L374.0,140.5 L374.8,140.1 L375.6,139.7 L376.3,139.3 L377.0,139.0 L377.6,138.8 L378.1,138.6 L378.6,138.6 L379.1,138.6 L379.7,138.7 L380.3,138.8 L380.9,139.1 L381.5,139.5 L382.1,140.1 L382.7,140.8 L383.3,141.6 L384.0,142.5 L384.8,143.6 L385.7,144.8 L386.6,146.0 L387.5,147.0 L388.4,147.8 L389.2,148.6 L390.1,149.2 L390.9,149.5 L391.7,149.5 L392.5,149.3 L393.2,149.0 L394.0,148.5 L394.8,147.9 L395.6,147.0 L396.3,146.2 L397.0,145.5 L397.6,145.0 L398.1,144.5 L398.5,144.1 L399.0,143.8 L399.5,143.6 L400.0,143.4 L400.5,143.3 L401.0,143.4 L401.5,143.6 L402.0,144.0 L402.5,144.4 L403.0,145.0 L403.5,145.8 L404.0,146.7 L404.5,147.6 L405.0,148.5 L405.5,149.3 L406.0,150.0 L406.6,150.8 L407.2,151.5 L407.9,152.3 L408.5,153.1 L409.3,153.8 L410.0,154.5 L410.6,155.1 L411.2,155.5 L412.0,155.9 L413.0,156.3 L414.4,156.7 L416.1,157.0 L418.0,157.2 L420.0,157.3 L422.2,157.2 L424.6,157.0 L426.9,156.7 L429.0,156.4 L430.7,156.1 L432.2,155.8 L433.6,155.4 L435.0,155.0 L436.4,154.6 L437.7,154.2 L439.1,153.8 L440.6,153.3 L442.3,152.7 L444.2,151.9 L446.1,151.2 L447.8,150.6 L449.2,150.1 L450.4,149.6 L451.6,149.3 L453.0,149.0 L454.7,148.8 L456.6,148.8 L458.4,148.8 L460.0,148.9 L461.2,149.0 L462.2,149.2 L463.0,149.5 L464.0,149.8 L465.1,150.2 L466.2,150.6 L467.3,151.0 L468.4,151.4 L469.3,151.8 L470.2,152.2 L471.1,152.6 L472.0,153.0 L473.0,153.4 L474.0,153.8 L475.1,154.1 L476.0,154.3 L476.8,154.3 L477.6,154.2 L478.3,153.9 L479.0,153.5 L479.8,152.9 L480.5,152.2 L481.2,151.4 L482.0,150.5 L482.8,149.6 L483.5,148.6 L484.3,147.6 L485.0,146.5 L485.7,145.4 L486.5,144.3 L487.2,143.2 L487.9,142.1 L488.6,141.0 L489.2,140.0 L489.9,138.9 L490.5,138.0 L491.1,137.1 L491.7,136.3 L492.3,135.6 L492.9,135.0 L493.5,134.6 L494.2,134.2 L494.9,134.1 L495.5,134.2 L496.1,134.6 L496.8,135.3 L497.4,136.1 L498.0,137.0 L498.5,137.9 L499.0,138.8 L499.5,139.9 L500.0,141.0 L500.5,142.2 L501.1,143.6 L501.7,145.0 L502.2,146.3 L502.7,147.6 L503.2,148.8 L503.6,150.0 L504.0,151.0 L504.4,151.9 L504.7,152.6 L505.0,153.2 L505.3,153.6 L505.7,153.8 L506.1,153.8 L506.4,153.6 L506.8,153.3 L507.1,152.9 L507.5,152.4 L507.8,151.6 L508.1,150.5 L508.4,148.9 L508.8,146.9 L509.2,144.7 L509.5,142.5 L509.8,140.3 L510.1,138.0 L510.4,135.8 L510.7,133.6 L511.1,131.5 L511.6,129.4 L512.1,127.5 L512.5,126.0 L512.8,124.9 L513.1,124.2 L513.4,123.7 L513.7,123.3 L514.0,122.8 L514.3,122.5 L514.6,122.3 L514.9,122.7 L515.3,123.6 L515.7,125.0 L516.2,126.7 L516.6,128.6 L517.0,130.7 L517.3,133.1 L517.7,135.6 L518.0,138.0 L518.3,140.3 L518.6,142.6 L518.8,144.9 L519.1,147.2 L519.4,149.7 L519.8,152.2 L520.2,154.7 L520.5,157.0 L520.8,159.0 L521.1,160.9 L521.4,162.6 L521.7,164.1 L522.1,165.3 L522.5,166.4 L522.9,167.2 L523.3,168.0 L523.7,168.7 L524.1,169.2 L524.5,169.6 L525.0,170.0 L525.7,170.4 L526.4,170.7 L527.2,171.0 L528.0,171.2 L528.8,171.4 L529.7,171.5 L530.5,171.6 L531.0,171.7" fill="none" stroke="#9e22ee" stroke-width="1.5" stroke-linejoin="round" stroke-linecap="round" />
<text x="367.8" y="126.2" font-size="8.8" fill="#000" stroke="#000" stroke-width="0.22" font-weight="bold" text-anchor="start" textLength="25.8" lengthAdjust="spacingAndGlyphs" >Ni 2p<tspan font-size="5.4" dy="2.0">1/2</tspan></text>
<text x="319.8" y="136.7" font-size="8.8" fill="#000" stroke="#000" stroke-width="0.22" font-weight="bold" text-anchor="start" textLength="13" lengthAdjust="spacingAndGlyphs" >Sat.</text>
<text x="354.1" y="137.1" font-size="8.8" fill="#10a58c" stroke="#10a58c" stroke-width="0.22" font-weight="bold" text-anchor="start" transform="translate(354.1 0) scale(0.9 1) translate(-354.1 0)" >Ni<tspan font-size="5.4" dy="-3.4">3+</tspan></text>
<text x="386.2" y="138.8" font-size="8.8" fill="#45c2ef" stroke="#45c2ef" stroke-width="0.22" font-weight="bold" text-anchor="start" transform="translate(386.2 0) scale(0.9 1) translate(-386.2 0)" >Ni<tspan font-size="5.4" dy="-3.4">2+</tspan></text>
<text x="405.8" y="138.8" font-size="8.8" fill="#f4a07c" stroke="#f4a07c" stroke-width="0.22" font-weight="bold" text-anchor="start" textLength="14.8" lengthAdjust="spacingAndGlyphs" >Ni-P</text>
<text x="477.2" y="118.5" font-size="8.8" fill="#000" stroke="#000" stroke-width="0.22" font-weight="bold" text-anchor="start" textLength="25.8" lengthAdjust="spacingAndGlyphs" >Ni 2p<tspan font-size="5.4" dy="2.0">3/2</tspan></text>
<text x="513.8" y="119.2" font-size="8.8" fill="#f4a07c" stroke="#f4a07c" stroke-width="0.22" font-weight="bold" text-anchor="start" textLength="15.3" lengthAdjust="spacingAndGlyphs" >Ni-P</text>
<text x="439.2" y="143.2" font-size="8.8" fill="#000" stroke="#000" stroke-width="0.22" font-weight="bold" text-anchor="start" textLength="13" lengthAdjust="spacingAndGlyphs" >Sat.</text>
<text x="471.3" y="141.0" font-size="8.8" fill="#10a58c" stroke="#10a58c" stroke-width="0.22" font-weight="bold" text-anchor="start" transform="translate(471.3 0) scale(0.9 1) translate(-471.3 0)" >Ni<tspan font-size="5.4" dy="-3.4">3+</tspan></text>
<text x="497.5" y="133.8" font-size="8.8" fill="#45c2ef" stroke="#45c2ef" stroke-width="0.22" font-weight="bold" text-anchor="start" transform="translate(497.5 0) scale(0.9 1) translate(-497.5 0)" >Ni<tspan font-size="5.4" dy="-3.4">2+</tspan></text>
<text x="326.8" y="171.6" font-size="8.6" fill="#000" stroke="#000" stroke-width="0.22" font-weight="bold" text-anchor="start" textLength="38.2" lengthAdjust="spacingAndGlyphs" >e-NFP/NFF</text>
<rect x="45.5" y="212.1" width="222.2" height="162.6" fill="none" stroke="#000" stroke-width="1.9"/>
<line x1="45.3" y1="374.5" x2="45.3" y2="378.3" stroke="#000" stroke-width="1.3"/>
<line x1="100.8" y1="374.5" x2="100.8" y2="378.3" stroke="#000" stroke-width="1.3"/>
<line x1="156.4" y1="374.5" x2="156.4" y2="378.3" stroke="#000" stroke-width="1.3"/>
<line x1="211.9" y1="374.5" x2="211.9" y2="378.3" stroke="#000" stroke-width="1.3"/>
<line x1="267.5" y1="374.5" x2="267.5" y2="378.3" stroke="#000" stroke-width="1.3"/>
<line x1="73.1" y1="374.5" x2="73.1" y2="377.0" stroke="#000" stroke-width="1.1"/>
<line x1="128.6" y1="374.5" x2="128.6" y2="377.0" stroke="#000" stroke-width="1.1"/>
<line x1="184.2" y1="374.5" x2="184.2" y2="377.0" stroke="#000" stroke-width="1.1"/>
<line x1="239.7" y1="374.5" x2="239.7" y2="377.0" stroke="#000" stroke-width="1.1"/>
<text x="45.3" y="389.0" font-size="10.8" fill="#000" stroke="#000" stroke-width="0.22" font-weight="bold" text-anchor="middle" textLength="15" lengthAdjust="spacingAndGlyphs" >740</text>
<text x="100.8" y="389.0" font-size="10.8" fill="#000" stroke="#000" stroke-width="0.22" font-weight="bold" text-anchor="middle" textLength="15" lengthAdjust="spacingAndGlyphs" >730</text>
<text x="156.4" y="389.0" font-size="10.8" fill="#000" stroke="#000" stroke-width="0.22" font-weight="bold" text-anchor="middle" textLength="15" lengthAdjust="spacingAndGlyphs" >720</text>
<text x="211.9" y="389.0" font-size="10.8" fill="#000" stroke="#000" stroke-width="0.22" font-weight="bold" text-anchor="middle" textLength="15" lengthAdjust="spacingAndGlyphs" >710</text>
<text x="267.5" y="389.0" font-size="10.8" fill="#000" stroke="#000" stroke-width="0.22" font-weight="bold" text-anchor="middle" textLength="15" lengthAdjust="spacingAndGlyphs" >700</text>
<text x="156.0" y="400.8" font-size="15.8" fill="#000" stroke="#000" stroke-width="0.22" font-weight="bold" text-anchor="middle" textLength="111" lengthAdjust="spacingAndGlyphs" >Binding energy (eV)</text>
<text x="35.9" y="288.8" font-size="14" fill="#000" stroke="#000" stroke-width="0.22" font-weight="bold" text-anchor="middle" textLength="88" lengthAdjust="spacingAndGlyphs" transform="rotate(-90 35.9 288.8)" >Intensity (a.u.)</text>
<text x="9.8" y="227.6" font-size="19.3" fill="#000" stroke="#000" stroke-width="0.22" font-weight="bold" text-anchor="start" textLength="22.6" lengthAdjust="spacingAndGlyphs" >(c)</text>
<text x="55.7" y="227.9" font-size="10.8" fill="#000" stroke="#000" stroke-width="0.22" font-weight="bold" text-anchor="start" textLength="23.1" lengthAdjust="spacingAndGlyphs" >Fe 2p</text>
<path d="M45.8,255.4 L46.3,255.5 L46.8,255.5 L47.3,255.5 L47.8,255.6 L48.3,255.6 L48.8,255.6 L49.3,255.6 L49.8,255.7 L50.3,255.7 L50.8,255.7 L51.3,255.7 L51.8,255.7 L52.3,255.7 L52.8,255.7 L53.3,255.7 L53.8,255.7 L54.3,255.7 L54.8,255.7 L55.3,255.7 L55.8,255.7 L56.3,255.7 L56.8,255.7 L57.3,255.7 L57.8,255.7 L58.3,255.7 L58.8,255.7 L59.3,255.6 L59.8,255.6 L60.3,255.6 L60.8,255.6 L61.3,255.5 L61.9,255.5 L62.4,255.5 L62.9,255.5 L63.4,255.4 L63.9,255.4 L64.4,255.4 L64.9,255.3 L65.4,255.3 L65.9,255.2 L66.4,255.2 L66.9,255.2 L67.4,255.1 L67.9,255.1 L68.4,255.0 L68.9,255.0 L69.4,255.0 L69.9,254.9 L70.4,254.9 L70.9,254.8 L71.4,254.8 L71.9,254.7 L72.4,254.7 L72.9,254.7 L73.4,254.6 L73.9,254.6 L74.4,254.5 L74.9,254.5 L75.4,254.5 L75.9,254.4 L76.4,254.4 L76.9,254.4 L77.4,254.3 L77.9,254.3 L78.4,254.3 L78.9,254.3 L79.4,254.2 L79.9,254.2 L80.4,254.2 L80.9,254.2 L81.4,254.2 L81.9,254.2 L82.4,254.2 L82.9,254.2 L83.4,254.2 L83.9,254.2 L84.4,254.2 L84.9,254.2 L85.4,254.3 L85.9,254.3 L86.4,254.3 L86.9,254.3 L87.4,254.4 L87.9,254.4 L88.4,254.5 L88.9,254.5 L89.4,254.6 L89.9,254.6 L90.4,254.7 L90.9,254.8 L91.4,254.8 L91.9,254.9 L92.4,255.0 L93.0,255.1 L93.5,255.2 L94.0,255.4 L94.5,255.5 L95.0,255.6 L95.5,255.8 L96.0,256.0 L96.5,256.2 L97.0,256.4 L97.5,256.6 L98.0,256.8 L98.5,257.0 L99.0,257.3 L99.5,257.5 L100.0,257.8 L100.5,258.0 L101.0,258.3 L101.5,258.6 L102.0,258.9 L102.5,259.1 L103.0,259.4 L103.5,259.7 L104.0,260.0 L104.5,260.3 L105.0,260.6 L105.5,260.9 L106.0,261.2 L106.5,261.5 L107.0,261.7 L107.5,262.0 L108.0,262.3 L108.5,262.6 L109.0,262.9 L109.5,263.1 L110.0,263.4 L110.5,263.7 L111.0,263.9 L111.5,264.2 L112.0,264.4 L112.5,264.7 L113.0,264.9 L113.5,265.1 L114.0,265.4 L114.5,265.6 L115.0,265.8 L115.5,266.0 L116.0,266.2 L116.5,266.4 L117.0,266.6 L117.5,266.8 L118.0,267.0 L118.5,267.1 L119.0,267.3 L119.5,267.5 L120.0,267.6 L120.5,267.8 L121.0,267.9 L121.5,268.1 L122.0,268.2 L122.5,268.3 L123.0,268.5 L123.5,268.6 L124.0,268.7 L124.6,268.8 L125.1,268.9 L125.6,269.1 L126.1,269.2 L126.6,269.3 L127.1,269.4 L127.6,269.5 L128.1,269.6 L128.6,269.7 L129.1,269.8 L129.6,269.9 L130.1,270.0 L130.6,270.1 L131.1,270.2 L131.6,270.3 L132.1,270.4 L132.6,270.5 L133.1,270.5 L133.6,270.6 L134.1,270.7 L134.6,270.8 L135.1,270.9 L135.6,271.0 L136.1,271.1 L136.6,271.2 L137.1,271.2 L137.6,271.3 L138.1,271.4 L138.6,271.5 L139.1,271.6 L139.6,271.7 L140.1,271.7 L140.6,271.8 L141.1,271.9 L141.6,272.0 L142.1,272.1 L142.6,272.2 L143.1,272.2 L143.6,272.3 L144.1,272.4 L144.6,272.5 L145.1,272.6 L145.6,272.6 L146.1,272.7 L146.6,272.8 L147.1,272.9 L147.6,273.0 L148.1,273.1 L148.6,273.1 L149.1,273.2 L149.6,273.3 L150.1,273.4 L150.6,273.5 L151.1,273.5 L151.6,273.6 L152.1,273.7 L152.6,273.8 L153.1,273.9 L153.6,273.9 L154.1,274.0 L154.6,274.1 L155.1,274.2 L155.7,274.3 L156.2,274.4 L156.7,274.4 L157.2,274.5 L157.7,274.6 L158.2,274.7 L158.7,274.8 L159.2,274.8 L159.7,274.9 L160.2,275.0 L160.7,275.1 L161.2,275.2 L161.7,275.3 L162.2,275.3 L162.7,275.4 L163.2,275.5 L163.7,275.6 L164.2,275.7 L164.7,275.7 L165.2,275.8 L165.7,275.9 L166.2,276.0 L166.7,276.1 L167.2,276.1 L167.7,276.2 L168.2,276.3 L168.7,276.4 L169.2,276.5 L169.7,276.6 L170.2,276.6 L170.7,276.7 L171.2,276.8 L171.2,276.8 L170.7,276.7 L170.2,276.6 L169.7,276.6 L169.2,276.5 L168.7,276.4 L168.2,276.3 L167.7,276.2 L167.2,276.1 L166.7,276.1 L166.2,276.0 L165.7,275.9 L165.2,275.8 L164.7,275.7 L164.2,275.7 L163.7,275.6 L163.2,275.5 L162.7,275.4 L162.2,275.3 L161.7,275.3 L161.2,275.2 L160.7,275.1 L160.2,275.0 L159.7,274.9 L159.2,274.8 L158.7,274.8 L158.2,274.7 L157.7,274.6 L157.2,274.5 L156.7,274.4 L156.2,274.4 L155.7,274.3 L155.1,274.2 L154.6,274.1 L154.1,274.0 L153.6,273.9 L153.1,273.9 L152.6,273.8 L152.1,273.7 L151.6,273.6 L151.1,273.5 L150.6,273.5 L150.1,273.4 L149.6,273.3 L149.1,273.2 L148.6,273.1 L148.1,273.1 L147.6,273.0 L147.1,272.9 L146.6,272.8 L146.1,272.7 L145.6,272.6 L145.1,272.6 L144.6,272.5 L144.1,272.4 L143.6,272.3 L143.1,272.2 L142.6,272.2 L142.1,272.1 L141.6,272.0 L141.1,271.9 L140.6,271.8 L140.1,271.7 L139.6,271.7 L139.1,271.6 L138.6,271.5 L138.1,271.4 L137.6,271.3 L137.1,271.3 L136.6,271.2 L136.1,271.1 L135.6,271.0 L135.1,270.9 L134.6,270.9 L134.1,270.8 L133.6,270.7 L133.1,270.6 L132.6,270.5 L132.1,270.4 L131.6,270.4 L131.1,270.3 L130.6,270.2 L130.1,270.1 L129.6,270.0 L129.1,270.0 L128.6,269.9 L128.1,269.8 L127.6,269.7 L127.1,269.6 L126.6,269.5 L126.1,269.5 L125.6,269.4 L125.1,269.3 L124.6,269.2 L124.0,269.1 L123.5,269.1 L123.0,269.0 L122.5,268.9 L122.0,268.8 L121.5,268.7 L121.0,268.7 L120.5,268.6 L120.0,268.5 L119.5,268.4 L119.0,268.3 L118.5,268.2 L118.0,268.2 L117.5,268.1 L117.0,268.0 L116.5,267.9 L116.0,267.8 L115.5,267.8 L115.0,267.7 L114.5,267.6 L114.0,267.5 L113.5,267.4 L113.0,267.3 L112.5,267.3 L112.0,267.2 L111.5,267.1 L111.0,267.0 L110.5,266.9 L110.0,266.9 L109.5,266.8 L109.0,266.7 L108.5,266.6 L108.0,266.5 L107.5,266.5 L107.0,266.4 L106.5,266.3 L106.0,266.2 L105.5,266.1 L105.0,266.0 L104.5,266.0 L104.0,265.9 L103.5,265.8 L103.0,265.7 L102.5,265.6 L102.0,265.6 L101.5,265.5 L101.0,265.4 L100.5,265.3 L100.0,265.2 L99.5,265.1 L99.0,265.1 L98.5,265.0 L98.0,264.9 L97.5,264.8 L97.0,264.7 L96.5,264.7 L96.0,264.6 L95.5,264.5 L95.0,264.4 L94.5,264.3 L94.0,264.3 L93.5,264.2 L93.0,264.1 L92.4,264.0 L91.9,263.9 L91.4,263.8 L90.9,263.8 L90.4,263.7 L89.9,263.6 L89.4,263.5 L88.9,263.4 L88.4,263.4 L87.9,263.3 L87.4,263.2 L86.9,263.1 L86.4,263.0 L85.9,262.9 L85.4,262.9 L84.9,262.8 L84.4,262.7 L83.9,262.6 L83.4,262.5 L82.9,262.5 L82.4,262.4 L81.9,262.3 L81.4,262.2 L80.9,262.1 L80.4,262.1 L79.9,262.0 L79.4,261.9 L78.9,261.8 L78.4,261.7 L77.9,261.6 L77.4,261.6 L76.9,261.5 L76.4,261.4 L75.9,261.3 L75.4,261.2 L74.9,261.2 L74.4,261.1 L73.9,261.0 L73.4,260.9 L72.9,260.8 L72.4,260.7 L71.9,260.7 L71.4,260.6 L70.9,260.5 L70.4,260.4 L69.9,260.3 L69.4,260.3 L68.9,260.2 L68.4,260.1 L67.9,260.0 L67.4,259.9 L66.9,259.9 L66.4,259.8 L65.9,259.7 L65.4,259.6 L64.9,259.5 L64.4,259.4 L63.9,259.4 L63.4,259.3 L62.9,259.2 L62.4,259.1 L61.9,259.0 L61.3,259.0 L60.8,258.9 L60.3,258.8 L59.8,258.7 L59.3,258.6 L58.8,258.5 L58.3,258.5 L57.8,258.4 L57.3,258.3 L56.8,258.2 L56.3,258.1 L55.8,258.1 L55.3,258.0 L54.8,257.9 L54.3,257.8 L53.8,257.7 L53.3,257.7 L52.8,257.6 L52.3,257.5 L51.8,257.4 L51.3,257.3 L50.8,257.2 L50.3,257.2 L49.8,257.1 L49.3,257.0 L48.8,256.9 L48.3,256.8 L47.8,256.8 L47.3,256.7 L46.8,256.6 L46.3,256.5 L45.8,256.4 Z" fill="#988ddf" stroke="#5f50b8" stroke-width="0.7" stroke-linejoin="round" stroke-linecap="round" fill-opacity="0.9"/>
<path d="M81.2,262.2 L81.7,262.3 L82.2,262.3 L82.7,262.4 L83.2,262.5 L83.7,262.6 L84.2,262.7 L84.7,262.7 L85.2,262.8 L85.7,262.9 L86.2,263.0 L86.7,263.1 L87.2,263.2 L87.7,263.2 L88.2,263.3 L88.7,263.4 L89.2,263.5 L89.7,263.6 L90.2,263.6 L90.7,263.7 L91.2,263.8 L91.7,263.9 L92.2,264.0 L92.7,264.0 L93.2,264.1 L93.7,264.2 L94.2,264.3 L94.7,264.4 L95.2,264.5 L95.7,264.5 L96.2,264.6 L96.7,264.7 L97.2,264.8 L97.7,264.9 L98.2,264.9 L98.7,265.0 L99.2,265.1 L99.7,265.2 L100.2,265.3 L100.7,265.4 L101.2,265.4 L101.7,265.5 L102.2,265.6 L102.7,265.7 L103.2,265.8 L103.7,265.8 L104.2,265.9 L104.7,266.0 L105.2,266.1 L105.7,266.2 L106.2,266.2 L106.7,266.3 L107.2,266.4 L107.7,266.5 L108.2,266.6 L108.7,266.7 L109.2,266.7 L109.7,266.8 L110.2,266.9 L110.7,267.0 L111.2,267.1 L111.7,267.1 L112.2,267.2 L112.7,267.3 L113.2,267.4 L113.7,267.5 L114.2,267.5 L114.7,267.6 L115.2,267.7 L115.7,267.8 L116.2,267.9 L116.7,268.0 L117.2,268.0 L117.7,268.1 L118.2,268.2 L118.7,268.3 L119.2,268.4 L119.7,268.4 L120.2,268.5 L120.7,268.6 L121.2,268.7 L121.7,268.8 L122.2,268.8 L122.7,268.9 L123.2,269.0 L123.7,269.1 L124.2,269.2 L124.7,269.2 L125.2,269.3 L125.7,269.4 L126.2,269.4 L126.7,269.5 L127.2,269.6 L127.7,269.6 L128.2,269.6 L128.7,269.7 L129.2,269.7 L129.7,269.7 L130.2,269.7 L130.7,269.7 L131.2,269.6 L131.7,269.6 L132.2,269.5 L132.7,269.3 L133.2,269.2 L133.7,269.0 L134.2,268.7 L134.7,268.5 L135.2,268.2 L135.7,267.8 L136.2,267.4 L136.7,266.9 L137.2,266.5 L137.7,265.9 L138.2,265.4 L138.7,264.8 L139.2,264.2 L139.7,263.6 L140.2,262.9 L140.7,262.3 L141.2,261.7 L141.7,261.1 L142.2,260.6 L142.7,260.1 L143.2,259.7 L143.7,259.3 L144.2,259.0 L144.7,258.8 L145.2,258.7 L145.7,258.7 L146.3,258.7 L146.8,258.8 L147.3,258.9 L147.8,259.1 L148.3,259.2 L148.8,259.3 L149.3,259.5 L149.8,259.6 L150.3,259.8 L150.8,260.0 L151.3,260.1 L151.8,260.3 L152.3,260.5 L152.8,260.8 L153.3,261.0 L153.8,261.2 L154.3,261.4 L154.8,261.7 L155.3,261.9 L155.8,262.2 L156.3,262.5 L156.8,262.7 L157.3,263.0 L157.8,263.3 L158.3,263.6 L158.8,263.9 L159.3,264.2 L159.8,264.5 L160.3,264.8 L160.8,265.1 L161.3,265.4 L161.8,265.7 L162.3,266.0 L162.8,266.4 L163.3,266.7 L163.8,267.0 L164.3,267.3 L164.8,267.6 L165.3,267.9 L165.8,268.3 L166.3,268.6 L166.8,268.9 L167.3,269.2 L167.8,269.5 L168.3,269.8 L168.8,270.1 L169.3,270.4 L169.8,270.7 L170.3,271.0 L170.8,271.3 L171.3,271.6 L171.8,271.9 L172.3,272.1 L172.8,272.4 L173.3,272.7 L173.8,273.0 L174.3,273.2 L174.8,273.5 L175.3,273.7 L175.8,274.0 L176.3,274.2 L176.8,274.5 L177.3,274.7 L177.8,274.9 L178.3,275.1 L178.8,275.4 L179.3,275.6 L179.8,275.8 L180.3,276.0 L180.8,276.2 L181.3,276.4 L181.8,276.6 L182.3,276.8 L182.8,276.9 L183.3,277.1 L183.8,277.3 L184.3,277.5 L184.8,277.6 L185.3,277.8 L185.8,278.0 L186.3,278.1 L186.8,278.3 L187.3,278.4 L187.8,278.5 L188.3,278.7 L188.8,278.8 L189.3,279.0 L189.8,279.1 L190.3,279.2 L190.8,279.3 L191.3,279.5 L191.8,279.6 L192.3,279.7 L192.8,279.8 L193.3,279.9 L193.8,280.1 L194.3,280.2 L194.8,280.3 L195.3,280.4 L195.8,280.5 L196.3,280.6 L196.8,280.7 L197.3,280.8 L197.8,280.9 L198.3,281.0 L198.8,281.1 L199.3,281.2 L199.8,281.3 L200.3,281.4 L200.8,281.5 L201.3,281.6 L201.8,281.7 L202.3,281.7 L202.8,281.8 L203.3,281.9 L203.8,282.0 L204.3,282.1 L204.8,282.2 L205.3,282.3 L205.8,282.4 L206.3,282.4 L206.8,282.5 L207.3,282.6 L207.8,282.7 L208.3,282.8 L208.8,282.9 L209.3,283.0 L209.8,283.0 L210.3,283.1 L210.8,283.2 L210.8,283.2 L210.3,283.2 L209.8,283.1 L209.3,283.0 L208.8,282.9 L208.3,282.8 L207.8,282.7 L207.3,282.7 L206.8,282.6 L206.3,282.5 L205.8,282.4 L205.3,282.3 L204.8,282.3 L204.3,282.2 L203.8,282.1 L203.3,282.0 L202.8,281.9 L202.3,281.9 L201.8,281.8 L201.3,281.7 L200.8,281.6 L200.3,281.5 L199.8,281.4 L199.3,281.4 L198.8,281.3 L198.3,281.2 L197.8,281.1 L197.3,281.0 L196.8,281.0 L196.3,280.9 L195.8,280.8 L195.3,280.7 L194.8,280.6 L194.3,280.6 L193.8,280.5 L193.3,280.4 L192.8,280.3 L192.3,280.2 L191.8,280.1 L191.3,280.1 L190.8,280.0 L190.3,279.9 L189.8,279.8 L189.3,279.7 L188.8,279.7 L188.3,279.6 L187.8,279.5 L187.3,279.4 L186.8,279.3 L186.3,279.2 L185.8,279.2 L185.3,279.1 L184.8,279.0 L184.3,278.9 L183.8,278.8 L183.3,278.8 L182.8,278.7 L182.3,278.6 L181.8,278.5 L181.3,278.4 L180.8,278.4 L180.3,278.3 L179.8,278.2 L179.3,278.1 L178.8,278.0 L178.3,277.9 L177.8,277.9 L177.3,277.8 L176.8,277.7 L176.3,277.6 L175.8,277.5 L175.3,277.5 L174.8,277.4 L174.3,277.3 L173.8,277.2 L173.3,277.1 L172.8,277.1 L172.3,277.0 L171.8,276.9 L171.3,276.8 L170.8,276.7 L170.3,276.6 L169.8,276.6 L169.3,276.5 L168.8,276.4 L168.3,276.3 L167.8,276.2 L167.3,276.2 L166.8,276.1 L166.3,276.0 L165.8,275.9 L165.3,275.8 L164.8,275.8 L164.3,275.7 L163.8,275.6 L163.3,275.5 L162.8,275.4 L162.3,275.3 L161.8,275.3 L161.3,275.2 L160.8,275.1 L160.3,275.0 L159.8,274.9 L159.3,274.9 L158.8,274.8 L158.3,274.7 L157.8,274.6 L157.3,274.5 L156.8,274.5 L156.3,274.4 L155.8,274.3 L155.3,274.2 L154.8,274.1 L154.3,274.0 L153.8,274.0 L153.3,273.9 L152.8,273.8 L152.3,273.7 L151.8,273.6 L151.3,273.6 L150.8,273.5 L150.3,273.4 L149.8,273.3 L149.3,273.2 L148.8,273.2 L148.3,273.1 L147.8,273.0 L147.3,272.9 L146.8,272.8 L146.3,272.7 L145.7,272.7 L145.2,272.6 L144.7,272.5 L144.2,272.4 L143.7,272.3 L143.2,272.3 L142.7,272.2 L142.2,272.1 L141.7,272.0 L141.2,271.9 L140.7,271.9 L140.2,271.8 L139.7,271.7 L139.2,271.6 L138.7,271.5 L138.2,271.4 L137.7,271.4 L137.2,271.3 L136.7,271.2 L136.2,271.1 L135.7,271.0 L135.2,271.0 L134.7,270.9 L134.2,270.8 L133.7,270.7 L133.2,270.6 L132.7,270.6 L132.2,270.5 L131.7,270.4 L131.2,270.3 L130.7,270.2 L130.2,270.1 L129.7,270.1 L129.2,270.0 L128.7,269.9 L128.2,269.8 L127.7,269.7 L127.2,269.7 L126.7,269.6 L126.2,269.5 L125.7,269.4 L125.2,269.3 L124.7,269.3 L124.2,269.2 L123.7,269.1 L123.2,269.0 L122.7,268.9 L122.2,268.8 L121.7,268.8 L121.2,268.7 L120.7,268.6 L120.2,268.5 L119.7,268.4 L119.2,268.4 L118.7,268.3 L118.2,268.2 L117.7,268.1 L117.2,268.0 L116.7,268.0 L116.2,267.9 L115.7,267.8 L115.2,267.7 L114.7,267.6 L114.2,267.5 L113.7,267.5 L113.2,267.4 L112.7,267.3 L112.2,267.2 L111.7,267.1 L111.2,267.1 L110.7,267.0 L110.2,266.9 L109.7,266.8 L109.2,266.7 L108.7,266.7 L108.2,266.6 L107.7,266.5 L107.2,266.4 L106.7,266.3 L106.2,266.2 L105.7,266.2 L105.2,266.1 L104.7,266.0 L104.2,265.9 L103.7,265.8 L103.2,265.8 L102.7,265.7 L102.2,265.6 L101.7,265.5 L101.2,265.4 L100.7,265.4 L100.2,265.3 L99.7,265.2 L99.2,265.1 L98.7,265.0 L98.2,264.9 L97.7,264.9 L97.2,264.8 L96.7,264.7 L96.2,264.6 L95.7,264.5 L95.2,264.5 L94.7,264.4 L94.2,264.3 L93.7,264.2 L93.2,264.1 L92.7,264.0 L92.2,264.0 L91.7,263.9 L91.2,263.8 L90.7,263.7 L90.2,263.6 L89.7,263.6 L89.2,263.5 L88.7,263.4 L88.2,263.3 L87.7,263.2 L87.2,263.2 L86.7,263.1 L86.2,263.0 L85.7,262.9 L85.2,262.8 L84.7,262.7 L84.2,262.7 L83.7,262.6 L83.2,262.5 L82.7,262.4 L82.2,262.3 L81.7,262.3 L81.2,262.2 Z" fill="#67cbf4" stroke="#3ab6ea" stroke-width="0.7" stroke-linejoin="round" stroke-linecap="round" fill-opacity="0.9"/>
<path d="M178.2,277.9 L178.7,278.0 L179.2,278.0 L179.7,278.1 L180.2,278.1 L180.7,278.2 L181.2,278.2 L181.7,278.2 L182.2,278.3 L182.7,278.3 L183.2,278.2 L183.7,278.2 L184.2,278.2 L184.8,278.1 L185.3,278.0 L185.8,277.8 L186.3,277.6 L186.8,277.4 L187.3,277.1 L187.8,276.8 L188.3,276.4 L188.8,276.0 L189.3,275.5 L189.8,274.9 L190.3,274.3 L190.8,273.6 L191.3,272.8 L191.8,271.9 L192.3,271.0 L192.8,270.0 L193.3,268.9 L193.8,267.8 L194.3,266.6 L194.8,265.3 L195.3,264.0 L195.8,262.7 L196.3,261.4 L196.8,260.1 L197.4,258.7 L197.9,257.5 L198.4,256.2 L198.9,255.0 L199.4,253.9 L199.9,252.9 L200.4,252.0 L200.9,251.3 L201.4,250.6 L201.9,250.1 L202.4,249.8 L202.9,249.6 L203.4,249.6 L203.9,249.8 L204.4,250.1 L204.9,250.6 L205.4,251.3 L205.9,252.1 L206.4,253.0 L206.9,254.1 L207.4,255.2 L207.9,256.5 L208.4,257.8 L208.9,259.3 L209.4,260.7 L210.0,262.2 L210.5,263.7 L211.0,265.2 L211.5,266.7 L212.0,268.1 L212.5,269.5 L213.0,270.9 L213.5,272.2 L214.0,273.4 L214.5,274.6 L215.0,275.7 L215.5,276.7 L216.0,277.7 L216.5,278.5 L217.0,279.3 L217.5,280.1 L218.0,280.7 L218.5,281.3 L219.0,281.9 L219.5,282.4 L220.0,282.8 L220.5,283.2 L221.0,283.5 L221.5,283.9 L222.0,284.1 L222.6,284.4 L223.1,284.6 L223.6,284.8 L224.1,285.0 L224.6,285.1 L225.1,285.3 L225.6,285.4 L226.1,285.5 L226.6,285.7 L227.1,285.8 L227.6,285.9 L228.1,286.0 L228.6,286.1 L228.6,286.1 L228.1,286.0 L227.6,286.0 L227.1,285.9 L226.6,285.8 L226.1,285.7 L225.6,285.6 L225.1,285.6 L224.6,285.5 L224.1,285.4 L223.6,285.3 L223.1,285.2 L222.6,285.1 L222.0,285.1 L221.5,285.0 L221.0,284.9 L220.5,284.8 L220.0,284.7 L219.5,284.7 L219.0,284.6 L218.5,284.5 L218.0,284.4 L217.5,284.3 L217.0,284.2 L216.5,284.2 L216.0,284.1 L215.5,284.0 L215.0,283.9 L214.5,283.8 L214.0,283.7 L213.5,283.7 L213.0,283.6 L212.5,283.5 L212.0,283.4 L211.5,283.3 L211.0,283.3 L210.5,283.2 L210.0,283.1 L209.4,283.0 L208.9,282.9 L208.4,282.8 L207.9,282.8 L207.4,282.7 L206.9,282.6 L206.4,282.5 L205.9,282.4 L205.4,282.4 L204.9,282.3 L204.4,282.2 L203.9,282.1 L203.4,282.0 L202.9,281.9 L202.4,281.9 L201.9,281.8 L201.4,281.7 L200.9,281.6 L200.4,281.5 L199.9,281.5 L199.4,281.4 L198.9,281.3 L198.4,281.2 L197.9,281.1 L197.4,281.0 L196.8,281.0 L196.3,280.9 L195.8,280.8 L195.3,280.7 L194.8,280.6 L194.3,280.6 L193.8,280.5 L193.3,280.4 L192.8,280.3 L192.3,280.2 L191.8,280.1 L191.3,280.1 L190.8,280.0 L190.3,279.9 L189.8,279.8 L189.3,279.7 L188.8,279.7 L188.3,279.6 L187.8,279.5 L187.3,279.4 L186.8,279.3 L186.3,279.2 L185.8,279.2 L185.3,279.1 L184.8,279.0 L184.2,278.9 L183.7,278.8 L183.2,278.8 L182.7,278.7 L182.2,278.6 L181.7,278.5 L181.2,278.4 L180.7,278.3 L180.2,278.3 L179.7,278.2 L179.2,278.1 L178.7,278.0 L178.2,277.9 Z" fill="#67cbf4" stroke="#3ab6ea" stroke-width="0.7" stroke-linejoin="round" stroke-linecap="round" fill-opacity="0.9"/>
<path d="M71.4,260.6 L71.9,260.7 L72.4,260.8 L72.9,260.8 L73.4,260.9 L73.9,261.0 L74.4,261.1 L74.9,261.2 L75.4,261.2 L75.9,261.3 L76.4,261.4 L76.9,261.5 L77.4,261.6 L77.9,261.6 L78.4,261.7 L78.9,261.8 L79.4,261.9 L79.9,262.0 L80.4,262.0 L80.9,262.1 L81.4,262.2 L81.9,262.3 L82.4,262.4 L82.9,262.4 L83.4,262.5 L83.9,262.6 L84.4,262.7 L84.9,262.7 L85.4,262.8 L85.9,262.9 L86.4,263.0 L86.9,263.0 L87.4,263.1 L87.9,263.2 L88.5,263.2 L89.0,263.3 L89.5,263.4 L90.0,263.4 L90.5,263.5 L91.0,263.5 L91.5,263.6 L92.0,263.6 L92.5,263.6 L93.0,263.7 L93.5,263.7 L94.0,263.7 L94.5,263.7 L95.0,263.7 L95.5,263.7 L96.0,263.7 L96.5,263.7 L97.0,263.6 L97.5,263.6 L98.0,263.5 L98.5,263.5 L99.0,263.4 L99.5,263.3 L100.0,263.2 L100.5,263.0 L101.0,262.9 L101.5,262.7 L102.0,262.6 L102.5,262.4 L103.0,262.2 L103.5,261.9 L104.0,261.7 L104.5,261.4 L105.0,261.1 L105.5,260.9 L106.0,260.5 L106.5,260.2 L107.0,259.9 L107.5,259.5 L108.0,259.2 L108.5,258.8 L109.0,258.4 L109.5,258.0 L110.0,257.6 L110.5,257.2 L111.0,256.8 L111.5,256.4 L112.0,255.9 L112.5,255.5 L113.0,255.1 L113.5,254.7 L114.0,254.4 L114.5,254.0 L115.0,253.6 L115.5,253.3 L116.0,253.0 L116.5,252.7 L117.0,252.5 L117.5,252.2 L118.0,252.0 L118.5,251.8 L119.0,251.7 L119.5,251.6 L120.0,251.5 L120.5,251.5 L121.0,251.5 L121.5,251.5 L122.1,251.6 L122.6,251.7 L123.1,251.8 L123.6,252.0 L124.1,252.2 L124.6,252.4 L125.1,252.6 L125.6,252.8 L126.1,253.0 L126.6,253.3 L127.1,253.6 L127.6,253.9 L128.1,254.2 L128.6,254.6 L129.1,254.9 L129.6,255.3 L130.1,255.7 L130.6,256.1 L131.1,256.5 L131.6,256.9 L132.1,257.3 L132.6,257.7 L133.1,258.2 L133.6,258.6 L134.1,259.1 L134.6,259.5 L135.1,260.0 L135.6,260.4 L136.1,260.9 L136.6,261.3 L137.1,261.8 L137.6,262.2 L138.1,262.7 L138.6,263.1 L139.1,263.6 L139.6,264.0 L140.1,264.4 L140.6,264.9 L141.1,265.3 L141.6,265.7 L142.1,266.1 L142.6,266.5 L143.1,266.8 L143.6,267.2 L144.1,267.6 L144.6,267.9 L145.1,268.3 L145.6,268.6 L146.1,268.9 L146.6,269.2 L147.1,269.5 L147.6,269.8 L148.1,270.1 L148.6,270.4 L149.1,270.7 L149.6,270.9 L150.1,271.2 L150.6,271.4 L151.1,271.6 L151.6,271.8 L152.1,272.1 L152.6,272.3 L153.1,272.5 L153.6,272.7 L154.1,272.8 L154.6,273.0 L155.1,273.2 L155.7,273.3 L156.2,273.5 L156.7,273.7 L157.2,273.8 L157.7,274.0 L158.2,274.1 L158.7,274.2 L159.2,274.4 L159.7,274.5 L160.2,274.6 L160.7,274.7 L161.2,274.8 L161.7,275.0 L162.2,275.1 L162.7,275.2 L163.2,275.3 L163.7,275.4 L164.2,275.5 L164.7,275.6 L165.2,275.7 L165.7,275.8 L166.2,275.9 L166.7,276.0 L167.2,276.1 L167.7,276.1 L168.2,276.2 L168.7,276.3 L169.2,276.4 L169.7,276.5 L170.2,276.6 L170.7,276.7 L171.2,276.8 L171.7,276.9 L172.2,276.9 L172.2,277.0 L171.7,276.9 L171.2,276.8 L170.7,276.7 L170.2,276.6 L169.7,276.6 L169.2,276.5 L168.7,276.4 L168.2,276.3 L167.7,276.2 L167.2,276.1 L166.7,276.1 L166.2,276.0 L165.7,275.9 L165.2,275.8 L164.7,275.7 L164.2,275.7 L163.7,275.6 L163.2,275.5 L162.7,275.4 L162.2,275.3 L161.7,275.3 L161.2,275.2 L160.7,275.1 L160.2,275.0 L159.7,274.9 L159.2,274.8 L158.7,274.8 L158.2,274.7 L157.7,274.6 L157.2,274.5 L156.7,274.4 L156.2,274.4 L155.7,274.3 L155.1,274.2 L154.6,274.1 L154.1,274.0 L153.6,273.9 L153.1,273.9 L152.6,273.8 L152.1,273.7 L151.6,273.6 L151.1,273.5 L150.6,273.5 L150.1,273.4 L149.6,273.3 L149.1,273.2 L148.6,273.1 L148.1,273.1 L147.6,273.0 L147.1,272.9 L146.6,272.8 L146.1,272.7 L145.6,272.6 L145.1,272.6 L144.6,272.5 L144.1,272.4 L143.6,272.3 L143.1,272.2 L142.6,272.2 L142.1,272.1 L141.6,272.0 L141.1,271.9 L140.6,271.8 L140.1,271.7 L139.6,271.7 L139.1,271.6 L138.6,271.5 L138.1,271.4 L137.6,271.3 L137.1,271.3 L136.6,271.2 L136.1,271.1 L135.6,271.0 L135.1,270.9 L134.6,270.9 L134.1,270.8 L133.6,270.7 L133.1,270.6 L132.6,270.5 L132.1,270.4 L131.6,270.4 L131.1,270.3 L130.6,270.2 L130.1,270.1 L129.6,270.0 L129.1,270.0 L128.6,269.9 L128.1,269.8 L127.6,269.7 L127.1,269.6 L126.6,269.5 L126.1,269.5 L125.6,269.4 L125.1,269.3 L124.6,269.2 L124.1,269.1 L123.6,269.1 L123.1,269.0 L122.6,268.9 L122.1,268.8 L121.5,268.7 L121.0,268.7 L120.5,268.6 L120.0,268.5 L119.5,268.4 L119.0,268.3 L118.5,268.2 L118.0,268.2 L117.5,268.1 L117.0,268.0 L116.5,267.9 L116.0,267.8 L115.5,267.8 L115.0,267.7 L114.5,267.6 L114.0,267.5 L113.5,267.4 L113.0,267.3 L112.5,267.3 L112.0,267.2 L111.5,267.1 L111.0,267.0 L110.5,266.9 L110.0,266.9 L109.5,266.8 L109.0,266.7 L108.5,266.6 L108.0,266.5 L107.5,266.5 L107.0,266.4 L106.5,266.3 L106.0,266.2 L105.5,266.1 L105.0,266.0 L104.5,266.0 L104.0,265.9 L103.5,265.8 L103.0,265.7 L102.5,265.6 L102.0,265.6 L101.5,265.5 L101.0,265.4 L100.5,265.3 L100.0,265.2 L99.5,265.2 L99.0,265.1 L98.5,265.0 L98.0,264.9 L97.5,264.8 L97.0,264.7 L96.5,264.7 L96.0,264.6 L95.5,264.5 L95.0,264.4 L94.5,264.3 L94.0,264.3 L93.5,264.2 L93.0,264.1 L92.5,264.0 L92.0,263.9 L91.5,263.8 L91.0,263.8 L90.5,263.7 L90.0,263.6 L89.5,263.5 L89.0,263.4 L88.5,263.4 L87.9,263.3 L87.4,263.2 L86.9,263.1 L86.4,263.0 L85.9,263.0 L85.4,262.9 L84.9,262.8 L84.4,262.7 L83.9,262.6 L83.4,262.5 L82.9,262.5 L82.4,262.4 L81.9,262.3 L81.4,262.2 L80.9,262.1 L80.4,262.1 L79.9,262.0 L79.4,261.9 L78.9,261.8 L78.4,261.7 L77.9,261.6 L77.4,261.6 L76.9,261.5 L76.4,261.4 L75.9,261.3 L75.4,261.2 L74.9,261.2 L74.4,261.1 L73.9,261.0 L73.4,260.9 L72.9,260.8 L72.4,260.8 L71.9,260.7 L71.4,260.6 Z" fill="#00a991" stroke="#08947e" stroke-width="0.7" stroke-linejoin="round" stroke-linecap="round" fill-opacity="0.9"/>
<path d="M132.0,270.4 L132.5,270.5 L133.0,270.6 L133.5,270.7 L134.0,270.7 L134.5,270.8 L135.0,270.9 L135.5,271.0 L136.0,271.0 L136.5,271.1 L137.0,271.2 L137.5,271.3 L138.0,271.4 L138.5,271.4 L139.0,271.5 L139.5,271.6 L140.0,271.6 L140.5,271.7 L141.0,271.8 L141.5,271.9 L142.0,271.9 L142.5,272.0 L143.0,272.0 L143.5,272.1 L144.0,272.2 L144.5,272.2 L145.0,272.3 L145.5,272.3 L146.0,272.4 L146.5,272.4 L147.0,272.5 L147.5,272.5 L148.0,272.5 L148.5,272.6 L149.0,272.6 L149.5,272.6 L150.0,272.6 L150.5,272.7 L151.0,272.7 L151.5,272.7 L152.0,272.7 L152.5,272.6 L153.0,272.6 L153.5,272.6 L154.0,272.6 L154.5,272.5 L155.0,272.5 L155.5,272.4 L156.0,272.4 L156.5,272.3 L157.0,272.2 L157.5,272.1 L158.0,272.0 L158.5,271.9 L159.0,271.8 L159.5,271.6 L160.0,271.5 L160.5,271.3 L161.0,271.2 L161.5,271.0 L162.0,270.8 L162.5,270.6 L163.0,270.4 L163.5,270.2 L164.0,269.9 L164.5,269.7 L165.0,269.4 L165.5,269.2 L166.0,268.9 L166.5,268.6 L167.0,268.3 L167.5,268.0 L168.0,267.7 L168.5,267.4 L169.0,267.1 L169.5,266.7 L170.0,266.4 L170.5,266.1 L171.0,265.7 L171.5,265.4 L172.0,265.0 L172.5,264.7 L173.0,264.4 L173.5,264.0 L174.0,263.7 L174.5,263.3 L175.0,263.0 L175.5,262.7 L176.0,262.4 L176.5,262.1 L177.0,261.8 L177.5,261.5 L178.0,261.3 L178.5,261.0 L179.0,260.8 L179.5,260.6 L180.0,260.3 L180.5,260.2 L181.0,260.0 L181.5,259.9 L182.0,259.7 L182.5,259.6 L183.0,259.6 L183.5,259.5 L184.0,259.5 L184.5,259.5 L185.0,259.5 L185.5,259.5 L186.0,259.6 L186.5,259.7 L187.0,259.8 L187.5,259.9 L188.0,260.1 L188.5,260.3 L189.0,260.5 L189.5,260.7 L190.0,260.9 L190.5,261.2 L191.0,261.5 L191.5,261.8 L192.0,262.1 L192.5,262.4 L193.0,262.8 L193.5,263.1 L194.0,263.5 L194.5,263.9 L195.0,264.3 L195.5,264.7 L196.0,265.1 L196.5,265.6 L197.0,266.0 L197.5,266.5 L198.0,266.9 L198.5,267.4 L199.0,267.9 L199.5,268.3 L200.0,268.8 L200.5,269.3 L201.0,269.8 L201.5,270.2 L202.0,270.7 L202.5,271.2 L203.0,271.7 L203.5,272.1 L204.0,272.6 L204.5,273.0 L205.0,273.5 L205.5,274.0 L206.0,274.4 L206.5,274.8 L207.0,275.3 L207.5,275.7 L208.0,276.1 L208.5,276.5 L209.0,276.9 L209.5,277.3 L210.0,277.7 L210.5,278.0 L211.0,278.4 L211.5,278.7 L212.0,279.1 L212.5,279.4 L213.0,279.7 L213.5,280.0 L214.0,280.3 L214.5,280.6 L215.0,280.9 L215.5,281.2 L216.0,281.4 L216.5,281.7 L217.0,281.9 L217.5,282.2 L218.0,282.4 L218.5,282.6 L219.0,282.8 L219.5,283.0 L220.0,283.2 L220.5,283.4 L221.0,283.6 L221.5,283.8 L222.0,284.0 L222.5,284.1 L223.0,284.3 L223.5,284.4 L224.0,284.6 L224.5,284.7 L225.0,284.9 L225.5,285.0 L226.0,285.1 L226.5,285.3 L227.0,285.4 L227.5,285.5 L228.0,285.6 L228.5,285.8 L229.0,285.9 L229.5,286.0 L230.0,286.1 L230.5,286.2 L231.0,286.3 L231.5,286.4 L232.0,286.5 L232.5,286.6 L233.0,286.7 L233.5,286.8 L234.0,286.9 L234.5,287.0 L235.0,287.1 L235.5,287.2 L236.0,287.3 L236.5,287.3 L237.0,287.4 L237.5,287.5 L238.0,287.6 L238.5,287.7 L239.0,287.8 L239.5,287.9 L240.0,287.9 L240.0,288.0 L239.5,287.9 L239.0,287.8 L238.5,287.7 L238.0,287.7 L237.5,287.6 L237.0,287.5 L236.5,287.4 L236.0,287.3 L235.5,287.2 L235.0,287.2 L234.5,287.1 L234.0,287.0 L233.5,286.9 L233.0,286.8 L232.5,286.8 L232.0,286.7 L231.5,286.6 L231.0,286.5 L230.5,286.4 L230.0,286.4 L229.5,286.3 L229.0,286.2 L228.5,286.1 L228.0,286.0 L227.5,285.9 L227.0,285.9 L226.5,285.8 L226.0,285.7 L225.5,285.6 L225.0,285.5 L224.5,285.5 L224.0,285.4 L223.5,285.3 L223.0,285.2 L222.5,285.1 L222.0,285.1 L221.5,285.0 L221.0,284.9 L220.5,284.8 L220.0,284.7 L219.5,284.6 L219.0,284.6 L218.5,284.5 L218.0,284.4 L217.5,284.3 L217.0,284.2 L216.5,284.2 L216.0,284.1 L215.5,284.0 L215.0,283.9 L214.5,283.8 L214.0,283.8 L213.5,283.7 L213.0,283.6 L212.5,283.5 L212.0,283.4 L211.5,283.3 L211.0,283.3 L210.5,283.2 L210.0,283.1 L209.5,283.0 L209.0,282.9 L208.5,282.9 L208.0,282.8 L207.5,282.7 L207.0,282.6 L206.5,282.5 L206.0,282.5 L205.5,282.4 L205.0,282.3 L204.5,282.2 L204.0,282.1 L203.5,282.0 L203.0,282.0 L202.5,281.9 L202.0,281.8 L201.5,281.7 L201.0,281.6 L200.5,281.6 L200.0,281.5 L199.5,281.4 L199.0,281.3 L198.5,281.2 L198.0,281.2 L197.5,281.1 L197.0,281.0 L196.5,280.9 L196.0,280.8 L195.5,280.7 L195.0,280.7 L194.5,280.6 L194.0,280.5 L193.5,280.4 L193.0,280.3 L192.5,280.3 L192.0,280.2 L191.5,280.1 L191.0,280.0 L190.5,279.9 L190.0,279.9 L189.5,279.8 L189.0,279.7 L188.5,279.6 L188.0,279.5 L187.5,279.4 L187.0,279.4 L186.5,279.3 L186.0,279.2 L185.5,279.1 L185.0,279.0 L184.5,279.0 L184.0,278.9 L183.5,278.8 L183.0,278.7 L182.5,278.6 L182.0,278.6 L181.5,278.5 L181.0,278.4 L180.5,278.3 L180.0,278.2 L179.5,278.1 L179.0,278.1 L178.5,278.0 L178.0,277.9 L177.5,277.8 L177.0,277.7 L176.5,277.7 L176.0,277.6 L175.5,277.5 L175.0,277.4 L174.5,277.3 L174.0,277.3 L173.5,277.2 L173.0,277.1 L172.5,277.0 L172.0,276.9 L171.5,276.8 L171.0,276.8 L170.5,276.7 L170.0,276.6 L169.5,276.5 L169.0,276.4 L168.5,276.4 L168.0,276.3 L167.5,276.2 L167.0,276.1 L166.5,276.0 L166.0,276.0 L165.5,275.9 L165.0,275.8 L164.5,275.7 L164.0,275.6 L163.5,275.5 L163.0,275.5 L162.5,275.4 L162.0,275.3 L161.5,275.2 L161.0,275.1 L160.5,275.1 L160.0,275.0 L159.5,274.9 L159.0,274.8 L158.5,274.7 L158.0,274.7 L157.5,274.6 L157.0,274.5 L156.5,274.4 L156.0,274.3 L155.5,274.2 L155.0,274.2 L154.5,274.1 L154.0,274.0 L153.5,273.9 L153.0,273.8 L152.5,273.8 L152.0,273.7 L151.5,273.6 L151.0,273.5 L150.5,273.4 L150.0,273.4 L149.5,273.3 L149.0,273.2 L148.5,273.1 L148.0,273.0 L147.5,273.0 L147.0,272.9 L146.5,272.8 L146.0,272.7 L145.5,272.6 L145.0,272.5 L144.5,272.5 L144.0,272.4 L143.5,272.3 L143.0,272.2 L142.5,272.1 L142.0,272.1 L141.5,272.0 L141.0,271.9 L140.5,271.8 L140.0,271.7 L139.5,271.7 L139.0,271.6 L138.5,271.5 L138.0,271.4 L137.5,271.3 L137.0,271.2 L136.5,271.2 L136.0,271.1 L135.5,271.0 L135.0,270.9 L134.5,270.8 L134.0,270.8 L133.5,270.7 L133.0,270.6 L132.5,270.5 L132.0,270.4 Z" fill="#00a991" stroke="#08947e" stroke-width="0.7" stroke-linejoin="round" stroke-linecap="round" fill-opacity="0.9"/>
<line x1="45.8" y1="257.33" x2="258" y2="291.80" stroke="#10a58c" stroke-width="1.1"/>
<line x1="45.8" y1="256.43" x2="258" y2="290.90" stroke="#4a3a9e" stroke-width="1.1"/>
<path d="M46.0,252.8 L47.1,253.8 L48.2,253.8 L49.3,253.6 L50.4,253.1 L51.5,254.2 L52.6,254.3 L53.7,253.8 L54.8,253.8 L55.9,253.3 L57.0,252.8 L58.1,253.4 L59.2,253.7 L60.3,252.7 L61.4,253.9 L62.5,252.8 L63.6,252.8 L64.7,252.4 L65.8,254.1 L66.9,253.7 L68.0,253.9 L69.1,253.5 L70.2,252.5 L71.3,253.1 L72.4,253.4 L73.5,252.8 L74.6,254.3 L75.7,253.3 L76.8,252.9 L77.9,254.1 L79.0,252.9 L80.1,254.3 L81.2,253.4 L82.3,253.6 L83.4,253.3 L84.5,253.6 L85.6,253.1 L86.7,252.9 L87.8,254.5 L88.9,253.4 L90.0,254.5 L91.1,253.7 L92.2,255.2 L93.3,255.3 L94.4,255.3 L95.5,255.7 L96.6,255.5 L97.7,255.7 L98.8,254.2 L99.9,254.2 L101.0,254.2 L102.1,252.5 L103.2,253.2 L104.3,252.5 L105.4,251.0 L106.5,250.2 L107.6,249.7 L108.7,248.8 L109.8,249.2 L110.9,247.4 L112.0,246.1 L113.1,245.6 L114.2,246.2 L115.3,246.3 L116.4,244.9 L117.5,244.6 L118.6,244.4 L119.7,244.5 L120.8,243.3 L121.9,243.9 L123.0,243.7 L124.1,243.7 L125.2,243.0 L126.3,243.2 L127.4,243.7 L128.5,245.1 L129.6,244.5 L130.7,245.5 L131.8,245.8 L132.9,246.3 L134.0,247.2 L135.1,249.6 L136.2,250.6 L137.3,251.1 L138.4,252.7 L139.5,253.8 L140.6,255.2 L141.7,256.2 L142.8,255.9 L143.9,257.6 L145.0,258.2 L146.1,258.1 L147.2,259.1 L148.3,258.7 L149.4,258.8 L150.5,258.7 L151.6,260.0 L152.7,258.9 L153.8,258.8 L154.9,260.2 L156.0,260.2 L157.1,259.7 L158.2,260.4 L159.3,258.9 L160.4,259.3 L161.5,259.3 L162.6,259.6 L163.7,259.1 L164.8,259.0 L165.9,259.5 L167.0,260.5 L168.1,260.6 L169.2,260.2 L170.3,259.5 L171.4,259.0 L172.5,260.1 L173.6,259.1 L174.7,259.2 L175.8,257.7 L176.9,257.7 L178.0,258.5 L179.1,258.1 L180.2,257.8 L181.3,256.9 L182.4,256.1 L183.5,255.8 L184.6,255.6 L185.7,253.8 L186.8,253.2 L187.9,251.8 L189.0,251.6 L190.1,249.1 L191.2,248.9 L192.3,247.9 L193.4,244.6 L194.5,244.1 L195.6,242.7 L196.7,241.8 L197.8,240.1 L198.9,238.7 L200.0,238.5 L201.1,239.2 L202.2,239.2 L203.3,238.2 L204.4,238.8 L205.5,239.9 L206.6,241.9 L207.7,246.0 L208.8,249.2 L209.9,254.6 L211.0,258.6 L212.1,262.4 L213.2,267.5 L214.3,270.5 L215.4,273.5 L216.5,275.7 L217.6,277.7 L218.7,279.3 L219.8,280.9 L220.9,282.6 L222.0,283.2 L223.1,283.0 L224.2,284.8 L225.3,285.6 L226.4,285.9 L227.5,286.3 L228.6,285.3 L229.7,286.4 L230.8,285.9 L231.9,287.3 L233.0,286.4 L234.1,287.6 L235.2,286.9 L236.3,287.8 L237.4,287.3 L238.5,287.0 L239.6,287.7 L240.7,287.8 L241.8,289.0 L242.9,288.1 L244.0,288.6 L245.1,288.9 L246.2,289.7 L247.3,288.4 L248.4,289.4 L249.5,289.4 L250.6,290.0 L251.7,290.6 L252.8,289.6 L253.9,290.4 L255.0,290.3 L256.1,290.5 L257.2,289.7 L258.3,291.2 L259.4,291.6 L260.5,290.6 L261.6,290.7 L262.7,292.0 L263.8,290.5 L264.9,290.6 L266.0,290.7" fill="none" stroke="#222" stroke-width="1.0" stroke-linejoin="round" stroke-linecap="round" />
<path d="M97.2,255.4 L97.7,255.2 L98.5,254.8 L99.3,254.4 L100.2,254.0 L101.0,253.6 L101.7,253.2 L102.4,252.9 L103.1,252.5 L103.8,252.1 L104.5,251.7 L105.2,251.3 L105.9,250.9 L106.6,250.4 L107.3,250.0 L108.0,249.5 L108.7,249.0 L109.5,248.5 L110.2,248.0 L111.0,247.5 L111.7,247.1 L112.5,246.7 L113.2,246.3 L114.0,245.9 L114.8,245.6 L115.5,245.3 L116.2,245.0 L116.8,244.8 L117.5,244.6 L118.2,244.4 L119.0,244.2 L119.9,244.0 L120.9,243.8 L122.0,243.6 L123.1,243.5 L124.1,243.5 L125.1,243.6 L126.2,243.7 L127.3,244.0 L128.2,244.2 L129.1,244.5 L129.8,244.8 L130.4,245.1 L130.9,245.5 L131.5,245.9 L132.0,246.3 L132.6,246.7 L133.2,247.2 L133.7,247.7 L134.3,248.3 L134.9,248.8 L135.5,249.4 L136.1,250.0 L136.6,250.6 L137.2,251.2 L137.8,251.8 L138.4,252.4 L138.9,253.0 L139.5,253.5 L140.1,254.1 L140.7,254.6 L141.4,255.1 L142.1,255.6 L142.9,256.1 L143.7,256.6 L144.4,257.0 L145.1,257.4 L145.7,257.8 L146.3,258.1 L147.1,258.4 L148.0,258.7 L149.2,259.0 L150.6,259.2 L152.2,259.4 L153.7,259.6 L155.2,259.7 L156.6,259.8 L158.0,259.8 L159.4,259.7 L160.8,259.7 L162.2,259.7 L163.6,259.7 L165.1,259.8 L166.6,259.8 L168.0,259.8 L169.5,259.7 L171.0,259.5 L172.6,259.2 L174.1,258.9 L175.5,258.6 L176.7,258.3 L177.7,258.0 L178.5,257.8 L179.2,257.5 L179.8,257.3 L180.5,257.0 L181.2,256.7 L181.9,256.4 L182.7,256.1 L183.3,255.8 L184.0,255.4 L184.6,255.0 L185.2,254.5 L185.8,254.0 L186.4,253.5 L187.0,253.0 L187.6,252.5 L188.2,251.9 L188.7,251.4 L189.3,250.9 L189.8,250.3 L190.3,249.7 L190.7,249.2 L191.2,248.6 L191.6,248.1 L192.0,247.5 L192.4,246.9 L192.8,246.3 L193.3,245.7 L193.7,245.1 L194.1,244.5 L194.5,243.9 L195.0,243.3 L195.4,242.7 L195.9,242.1 L196.3,241.6 L196.7,241.1 L197.1,240.6 L197.6,240.2 L198.0,239.8 L198.5,239.4 L199.0,239.1 L199.6,238.8 L200.2,238.5 L200.8,238.4 L201.4,238.3 L202.0,238.4 L202.6,238.5 L203.2,238.8 L203.8,239.1 L204.3,239.4 L204.7,239.7 L205.1,240.1 L205.4,240.5 L205.7,241.0 L206.0,241.5 L206.3,242.0 L206.5,242.5 L206.7,243.0 L206.9,243.7 L207.2,244.5 L207.5,245.5 L207.9,246.6 L208.3,247.9 L208.6,249.2 L209.0,250.5 L209.4,251.9 L209.7,253.3 L210.1,254.7 L210.5,256.1 L210.8,257.5 L211.1,258.8 L211.4,260.0 L211.7,261.2 L211.9,262.3 L212.2,263.5 L212.5,264.7 L212.8,265.8 L213.1,266.9 L213.4,268.0 L213.7,269.1 L214.0,270.1 L214.4,271.1 L214.8,272.0 L215.1,272.9 L215.5,273.8 L215.9,274.7 L216.2,275.5 L216.6,276.3 L216.9,277.1 L217.3,277.8 L217.7,278.5 L218.2,279.1 L218.6,279.7 L219.1,280.3 L219.5,280.8 L219.9,281.3 L220.3,281.7 L220.7,282.1 L221.2,282.5 L221.7,282.9 L222.3,283.3 L223.1,283.8 L223.9,284.2 L224.5,284.5 L225.0,284.8" fill="none" stroke="#9e22ee" stroke-width="1.5" stroke-linejoin="round" stroke-linecap="round" />
<text x="114.2" y="232.3" font-size="8.8" fill="#000" stroke="#000" stroke-width="0.22" font-weight="bold" text-anchor="start" textLength="25.8" lengthAdjust="spacingAndGlyphs" >Fe 2p<tspan font-size="5.4" dy="2.0">1/2</tspan></text>
<text x="61.8" y="249.7" font-size="8.8" fill="#000" stroke="#000" stroke-width="0.22" font-weight="bold" text-anchor="start" textLength="13" lengthAdjust="spacingAndGlyphs" >Sat.</text>
<text x="100.7" y="244.3" font-size="8.8" fill="#10a58c" stroke="#10a58c" stroke-width="0.22" font-weight="bold" text-anchor="start" transform="translate(100.7 0) scale(0.9 1) translate(-100.7 0)" >Fe <tspan font-size="5.4" dy="-3.4">3+</tspan></text>
<text x="140.8" y="247.5" font-size="8.8" fill="#45c2ef" stroke="#45c2ef" stroke-width="0.22" font-weight="bold" text-anchor="start" transform="translate(140.8 0) scale(0.9 1) translate(-140.8 0)" >Fe <tspan font-size="5.4" dy="-3.4">2+</tspan></text>
<text x="192.1" y="230.7" font-size="8.8" fill="#000" stroke="#000" stroke-width="0.22" font-weight="bold" text-anchor="start" textLength="25.8" lengthAdjust="spacingAndGlyphs" >Fe 2p<tspan font-size="5.4" dy="2.0">3/2</tspan></text>
<text x="174.2" y="248.6" font-size="8.8" fill="#10a58c" stroke="#10a58c" stroke-width="0.22" font-weight="bold" text-anchor="start" transform="translate(174.2 0) scale(0.9 1) translate(-174.2 0)" >Fe <tspan font-size="5.4" dy="-3.4">3+</tspan></text>
<text x="212.2" y="249.7" font-size="8.8" fill="#45c2ef" stroke="#45c2ef" stroke-width="0.22" font-weight="bold" text-anchor="start" transform="translate(212.2 0) scale(0.9 1) translate(-212.2 0)" >Fe <tspan font-size="5.4" dy="-3.4">2+</tspan></text>
<text x="53.5" y="280.3" font-size="8.6" fill="#000" stroke="#000" stroke-width="0.22" font-weight="bold" text-anchor="start" textLength="53.7" lengthAdjust="spacingAndGlyphs" >a-NF-LDH/NFF</text>
<path d="M45.8,329.3 L46.3,329.3 L46.8,329.4 L47.3,329.4 L47.8,329.4 L48.3,329.5 L48.8,329.5 L49.3,329.5 L49.8,329.5 L50.3,329.6 L50.8,329.6 L51.3,329.6 L51.8,329.6 L52.3,329.6 L52.8,329.7 L53.3,329.7 L53.8,329.7 L54.3,329.7 L54.8,329.7 L55.3,329.7 L55.8,329.7 L56.3,329.7 L56.8,329.8 L57.3,329.8 L57.8,329.8 L58.3,329.8 L58.8,329.8 L59.3,329.8 L59.8,329.8 L60.3,329.8 L60.9,329.8 L61.4,329.8 L61.9,329.8 L62.4,329.8 L62.9,329.8 L63.4,329.8 L63.9,329.8 L64.4,329.8 L64.9,329.8 L65.4,329.8 L65.9,329.8 L66.4,329.8 L66.9,329.8 L67.4,329.8 L67.9,329.8 L68.4,329.8 L68.9,329.8 L69.4,329.8 L69.9,329.9 L70.4,329.9 L70.9,329.9 L71.4,329.9 L71.9,329.9 L72.4,329.9 L72.9,329.9 L73.4,330.0 L73.9,330.0 L74.4,330.0 L74.9,330.0 L75.4,330.1 L75.9,330.1 L76.4,330.1 L76.9,330.2 L77.4,330.2 L77.9,330.3 L78.4,330.3 L78.9,330.3 L79.4,330.4 L79.9,330.4 L80.4,330.5 L80.9,330.6 L81.4,330.6 L81.9,330.7 L82.4,330.8 L82.9,330.8 L83.4,330.9 L83.9,331.0 L84.4,331.1 L84.9,331.1 L85.4,331.2 L85.9,331.3 L86.4,331.5 L86.9,331.6 L87.4,331.8 L87.9,332.0 L88.4,332.3 L88.9,332.5 L89.4,332.8 L89.9,333.0 L90.5,333.3 L91.0,333.6 L91.5,333.9 L92.0,334.2 L92.5,334.5 L93.0,334.8 L93.5,335.1 L94.0,335.5 L94.5,335.8 L95.0,336.1 L95.5,336.4 L96.0,336.7 L96.5,336.9 L97.0,337.2 L97.5,337.5 L98.0,337.7 L98.5,338.0 L99.0,338.2 L99.5,338.4 L100.0,338.6 L100.5,338.8 L101.0,339.0 L101.5,339.2 L102.0,339.4 L102.5,339.5 L103.0,339.7 L103.5,339.8 L104.0,340.0 L104.5,340.1 L105.0,340.3 L105.5,340.4 L106.0,340.5 L106.5,340.6 L107.0,340.7 L107.5,340.8 L108.0,340.9 L108.5,341.0 L109.0,341.1 L109.5,341.2 L110.0,341.3 L110.5,341.4 L111.0,341.5 L111.5,341.6 L112.0,341.7 L112.5,341.8 L113.0,341.9 L113.5,341.9 L114.0,342.0 L114.5,342.1 L115.0,342.2 L115.5,342.3 L116.0,342.4 L116.5,342.5 L117.0,342.5 L117.5,342.6 L118.0,342.7 L118.5,342.8 L119.0,342.9 L119.5,343.0 L120.1,343.1 L120.6,343.1 L121.1,343.2 L121.6,343.3 L122.1,343.4 L122.6,343.5 L123.1,343.6 L123.6,343.6 L124.1,343.7 L124.6,343.8 L125.1,343.9 L125.6,344.0 L126.1,344.1 L126.6,344.2 L127.1,344.2 L127.6,344.3 L128.1,344.4 L128.6,344.5 L129.1,344.6 L129.6,344.7 L130.1,344.7 L130.6,344.8 L131.1,344.9 L131.6,345.0 L132.1,345.1 L132.6,345.2 L133.1,345.3 L133.6,345.3 L134.1,345.4 L134.6,345.5 L135.1,345.6 L135.6,345.7 L136.1,345.8 L136.6,345.8 L137.1,345.9 L137.6,346.0 L138.1,346.1 L138.6,346.2 L139.1,346.3 L139.6,346.4 L140.1,346.4 L140.6,346.5 L141.1,346.6 L141.6,346.7 L142.1,346.8 L142.6,346.9 L143.1,346.9 L143.6,347.0 L144.1,347.1 L144.6,347.2 L145.1,347.3 L145.6,347.4 L146.1,347.5 L146.6,347.5 L147.1,347.6 L147.6,347.7 L148.1,347.8 L148.6,347.9 L149.1,348.0 L149.7,348.0 L150.2,348.1 L150.7,348.2 L151.2,348.3 L151.7,348.4 L152.2,348.5 L152.7,348.6 L153.2,348.6 L153.7,348.7 L154.2,348.8 L154.7,348.9 L155.2,349.0 L155.7,349.1 L156.2,349.1 L156.7,349.2 L157.2,349.3 L157.7,349.4 L158.2,349.5 L158.7,349.6 L159.2,349.7 L159.7,349.7 L160.2,349.8 L160.7,349.9 L161.2,350.0 L161.7,350.1 L162.2,350.2 L162.7,350.2 L163.2,350.3 L163.7,350.4 L164.2,350.5 L164.2,350.5 L163.7,350.4 L163.2,350.3 L162.7,350.2 L162.2,350.2 L161.7,350.1 L161.2,350.0 L160.7,349.9 L160.2,349.8 L159.7,349.7 L159.2,349.7 L158.7,349.6 L158.2,349.5 L157.7,349.4 L157.2,349.3 L156.7,349.2 L156.2,349.1 L155.7,349.1 L155.2,349.0 L154.7,348.9 L154.2,348.8 L153.7,348.7 L153.2,348.6 L152.7,348.6 L152.2,348.5 L151.7,348.4 L151.2,348.3 L150.7,348.2 L150.2,348.1 L149.7,348.0 L149.1,348.0 L148.6,347.9 L148.1,347.8 L147.6,347.7 L147.1,347.6 L146.6,347.5 L146.1,347.5 L145.6,347.4 L145.1,347.3 L144.6,347.2 L144.1,347.1 L143.6,347.0 L143.1,346.9 L142.6,346.9 L142.1,346.8 L141.6,346.7 L141.1,346.6 L140.6,346.5 L140.1,346.4 L139.6,346.4 L139.1,346.3 L138.6,346.2 L138.1,346.1 L137.6,346.0 L137.1,345.9 L136.6,345.8 L136.1,345.8 L135.6,345.7 L135.1,345.6 L134.6,345.5 L134.1,345.4 L133.6,345.3 L133.1,345.3 L132.6,345.2 L132.1,345.1 L131.6,345.0 L131.1,344.9 L130.6,344.8 L130.1,344.7 L129.6,344.7 L129.1,344.6 L128.6,344.5 L128.1,344.4 L127.6,344.3 L127.1,344.2 L126.6,344.2 L126.1,344.1 L125.6,344.0 L125.1,343.9 L124.6,343.8 L124.1,343.7 L123.6,343.6 L123.1,343.6 L122.6,343.5 L122.1,343.4 L121.6,343.3 L121.1,343.2 L120.6,343.1 L120.1,343.1 L119.5,343.0 L119.0,342.9 L118.5,342.8 L118.0,342.7 L117.5,342.6 L117.0,342.5 L116.5,342.5 L116.0,342.4 L115.5,342.3 L115.0,342.2 L114.5,342.1 L114.0,342.0 L113.5,342.0 L113.0,341.9 L112.5,341.8 L112.0,341.7 L111.5,341.6 L111.0,341.5 L110.5,341.4 L110.0,341.4 L109.5,341.3 L109.0,341.2 L108.5,341.1 L108.0,341.0 L107.5,340.9 L107.0,340.9 L106.5,340.8 L106.0,340.7 L105.5,340.6 L105.0,340.5 L104.5,340.4 L104.0,340.3 L103.5,340.3 L103.0,340.2 L102.5,340.1 L102.0,340.0 L101.5,339.9 L101.0,339.8 L100.5,339.8 L100.0,339.7 L99.5,339.6 L99.0,339.5 L98.5,339.4 L98.0,339.3 L97.5,339.2 L97.0,339.2 L96.5,339.1 L96.0,339.0 L95.5,338.9 L95.0,338.8 L94.5,338.7 L94.0,338.7 L93.5,338.6 L93.0,338.5 L92.5,338.4 L92.0,338.3 L91.5,338.2 L91.0,338.1 L90.5,338.1 L89.9,338.0 L89.4,337.9 L88.9,337.8 L88.4,337.7 L87.9,337.6 L87.4,337.6 L86.9,337.5 L86.4,337.4 L85.9,337.3 L85.4,337.2 L84.9,337.1 L84.4,337.0 L83.9,337.0 L83.4,336.9 L82.9,336.8 L82.4,336.7 L81.9,336.6 L81.4,336.5 L80.9,336.5 L80.4,336.4 L79.9,336.3 L79.4,336.2 L78.9,336.1 L78.4,336.0 L77.9,335.9 L77.4,335.9 L76.9,335.8 L76.4,335.7 L75.9,335.6 L75.4,335.5 L74.9,335.4 L74.4,335.4 L73.9,335.3 L73.4,335.2 L72.9,335.1 L72.4,335.0 L71.9,334.9 L71.4,334.8 L70.9,334.8 L70.4,334.7 L69.9,334.6 L69.4,334.5 L68.9,334.4 L68.4,334.3 L67.9,334.3 L67.4,334.2 L66.9,334.1 L66.4,334.0 L65.9,333.9 L65.4,333.8 L64.9,333.7 L64.4,333.7 L63.9,333.6 L63.4,333.5 L62.9,333.4 L62.4,333.3 L61.9,333.2 L61.4,333.2 L60.9,333.1 L60.3,333.0 L59.8,332.9 L59.3,332.8 L58.8,332.7 L58.3,332.6 L57.8,332.6 L57.3,332.5 L56.8,332.4 L56.3,332.3 L55.8,332.2 L55.3,332.1 L54.8,332.1 L54.3,332.0 L53.8,331.9 L53.3,331.8 L52.8,331.7 L52.3,331.6 L51.8,331.5 L51.3,331.5 L50.8,331.4 L50.3,331.3 L49.8,331.2 L49.3,331.1 L48.8,331.0 L48.3,331.0 L47.8,330.9 L47.3,330.8 L46.8,330.7 L46.3,330.6 L45.8,330.5 Z" fill="#988ddf" stroke="#5f50b8" stroke-width="0.7" stroke-linejoin="round" stroke-linecap="round" fill-opacity="0.9"/>
<path d="M113.2,341.9 L113.7,342.0 L114.2,342.0 L114.7,342.1 L115.2,342.2 L115.7,342.3 L116.2,342.3 L116.7,342.4 L117.2,342.4 L117.7,342.5 L118.2,342.5 L118.7,342.6 L119.2,342.6 L119.7,342.6 L120.2,342.6 L120.7,342.6 L121.2,342.5 L121.7,342.5 L122.2,342.4 L122.7,342.3 L123.2,342.1 L123.7,342.0 L124.3,341.8 L124.8,341.6 L125.3,341.3 L125.8,341.0 L126.3,340.7 L126.8,340.4 L127.3,340.0 L127.8,339.7 L128.3,339.3 L128.8,338.9 L129.3,338.5 L129.8,338.1 L130.3,337.8 L130.8,337.4 L131.3,337.1 L131.8,336.8 L132.3,336.6 L132.8,336.4 L133.3,336.3 L133.8,336.2 L134.3,336.2 L134.8,336.2 L135.3,336.4 L135.8,336.5 L136.3,336.8 L136.8,337.1 L137.3,337.4 L137.8,337.9 L138.3,338.3 L138.8,338.8 L139.3,339.3 L139.8,339.8 L140.3,340.4 L140.8,340.9 L141.3,341.5 L141.8,342.0 L142.3,342.6 L142.8,343.1 L143.3,343.6 L143.8,344.1 L144.3,344.5 L144.8,344.9 L145.3,345.3 L145.9,345.7 L146.4,346.0 L146.9,346.3 L147.4,346.6 L147.9,346.9 L148.4,347.1 L148.9,347.3 L149.4,347.5 L149.9,347.7 L150.4,347.8 L150.9,348.0 L151.4,348.1 L151.9,348.3 L152.4,348.4 L152.9,348.5 L153.4,348.6 L153.9,348.7 L154.4,348.8 L154.9,348.9 L155.4,349.0 L155.9,349.1 L156.4,349.2 L156.4,349.2 L155.9,349.1 L155.4,349.0 L154.9,348.9 L154.4,348.8 L153.9,348.8 L153.4,348.7 L152.9,348.6 L152.4,348.5 L151.9,348.4 L151.4,348.3 L150.9,348.3 L150.4,348.2 L149.9,348.1 L149.4,348.0 L148.9,347.9 L148.4,347.8 L147.9,347.7 L147.4,347.7 L146.9,347.6 L146.4,347.5 L145.9,347.4 L145.3,347.3 L144.8,347.2 L144.3,347.2 L143.8,347.1 L143.3,347.0 L142.8,346.9 L142.3,346.8 L141.8,346.7 L141.3,346.6 L140.8,346.6 L140.3,346.5 L139.8,346.4 L139.3,346.3 L138.8,346.2 L138.3,346.1 L137.8,346.0 L137.3,346.0 L136.8,345.9 L136.3,345.8 L135.8,345.7 L135.3,345.6 L134.8,345.5 L134.3,345.5 L133.8,345.4 L133.3,345.3 L132.8,345.2 L132.3,345.1 L131.8,345.0 L131.3,344.9 L130.8,344.9 L130.3,344.8 L129.8,344.7 L129.3,344.6 L128.8,344.5 L128.3,344.4 L127.8,344.4 L127.3,344.3 L126.8,344.2 L126.3,344.1 L125.8,344.0 L125.3,343.9 L124.8,343.8 L124.3,343.8 L123.7,343.7 L123.2,343.6 L122.7,343.5 L122.2,343.4 L121.7,343.3 L121.2,343.3 L120.7,343.2 L120.2,343.1 L119.7,343.0 L119.2,342.9 L118.7,342.8 L118.2,342.7 L117.7,342.7 L117.2,342.6 L116.7,342.5 L116.2,342.4 L115.7,342.3 L115.2,342.2 L114.7,342.2 L114.2,342.1 L113.7,342.0 L113.2,341.9 Z" fill="#67cbf4" stroke="#3ab6ea" stroke-width="0.7" stroke-linejoin="round" stroke-linecap="round" fill-opacity="0.9"/>
<path d="M173.2,352.0 L173.7,352.1 L174.2,352.1 L174.7,352.2 L175.2,352.3 L175.7,352.3 L176.2,352.4 L176.7,352.4 L177.2,352.5 L177.7,352.5 L178.2,352.6 L178.7,352.6 L179.2,352.6 L179.7,352.6 L180.2,352.6 L180.7,352.5 L181.2,352.5 L181.7,352.4 L182.2,352.3 L182.7,352.2 L183.2,352.1 L183.7,351.9 L184.2,351.7 L184.7,351.5 L185.2,351.2 L185.7,350.9 L186.2,350.5 L186.7,350.1 L187.2,349.7 L187.7,349.2 L188.2,348.7 L188.7,348.1 L189.2,347.5 L189.7,346.9 L190.2,346.2 L190.7,345.4 L191.2,344.7 L191.7,343.9 L192.2,343.0 L192.7,342.2 L193.2,341.3 L193.7,340.4 L194.2,339.5 L194.7,338.6 L195.2,337.8 L195.7,336.9 L196.2,336.1 L196.7,335.3 L197.2,334.5 L197.7,333.8 L198.2,333.2 L198.7,332.7 L199.2,332.2 L199.7,331.8 L200.2,331.5 L200.7,331.3 L201.2,331.2 L201.7,331.1 L202.3,331.2 L202.8,331.4 L203.3,331.7 L203.8,332.1 L204.3,332.6 L204.8,333.1 L205.3,333.8 L205.8,334.5 L206.3,335.3 L206.8,336.1 L207.3,337.1 L207.8,338.0 L208.3,339.0 L208.8,340.0 L209.3,341.1 L209.8,342.1 L210.3,343.2 L210.8,344.2 L211.3,345.3 L211.8,346.3 L212.3,347.3 L212.8,348.3 L213.3,349.2 L213.8,350.1 L214.3,351.0 L214.8,351.8 L215.3,352.6 L215.8,353.4 L216.3,354.0 L216.8,354.7 L217.3,355.3 L217.8,355.9 L218.3,356.4 L218.8,356.9 L219.3,357.3 L219.8,357.7 L220.3,358.1 L220.8,358.4 L221.3,358.7 L221.8,359.0 L222.3,359.3 L222.8,359.5 L223.3,359.7 L223.8,359.9 L224.3,360.1 L224.8,360.3 L225.3,360.4 L225.8,360.6 L226.3,360.7 L226.8,360.8 L227.3,361.0 L227.8,361.1 L228.3,361.2 L228.8,361.3 L229.3,361.4 L229.8,361.5 L230.3,361.6 L230.8,361.7 L230.8,361.7 L230.3,361.6 L229.8,361.6 L229.3,361.5 L228.8,361.4 L228.3,361.3 L227.8,361.2 L227.3,361.1 L226.8,361.1 L226.3,361.0 L225.8,360.9 L225.3,360.8 L224.8,360.7 L224.3,360.6 L223.8,360.5 L223.3,360.5 L222.8,360.4 L222.3,360.3 L221.8,360.2 L221.3,360.1 L220.8,360.0 L220.3,360.0 L219.8,359.9 L219.3,359.8 L218.8,359.7 L218.3,359.6 L217.8,359.5 L217.3,359.4 L216.8,359.4 L216.3,359.3 L215.8,359.2 L215.3,359.1 L214.8,359.0 L214.3,358.9 L213.8,358.9 L213.3,358.8 L212.8,358.7 L212.3,358.6 L211.8,358.5 L211.3,358.4 L210.8,358.3 L210.3,358.3 L209.8,358.2 L209.3,358.1 L208.8,358.0 L208.3,357.9 L207.8,357.8 L207.3,357.8 L206.8,357.7 L206.3,357.6 L205.8,357.5 L205.3,357.4 L204.8,357.3 L204.3,357.3 L203.8,357.2 L203.3,357.1 L202.8,357.0 L202.3,356.9 L201.7,356.8 L201.2,356.7 L200.7,356.7 L200.2,356.6 L199.7,356.5 L199.2,356.4 L198.7,356.3 L198.2,356.2 L197.7,356.2 L197.2,356.1 L196.7,356.0 L196.2,355.9 L195.7,355.8 L195.2,355.7 L194.7,355.6 L194.2,355.6 L193.7,355.5 L193.2,355.4 L192.7,355.3 L192.2,355.2 L191.7,355.1 L191.2,355.1 L190.7,355.0 L190.2,354.9 L189.7,354.8 L189.2,354.7 L188.7,354.6 L188.2,354.5 L187.7,354.5 L187.2,354.4 L186.7,354.3 L186.2,354.2 L185.7,354.1 L185.2,354.0 L184.7,354.0 L184.2,353.9 L183.7,353.8 L183.2,353.7 L182.7,353.6 L182.2,353.5 L181.7,353.5 L181.2,353.4 L180.7,353.3 L180.2,353.2 L179.7,353.1 L179.2,353.0 L178.7,352.9 L178.2,352.9 L177.7,352.8 L177.2,352.7 L176.7,352.6 L176.2,352.5 L175.7,352.4 L175.2,352.4 L174.7,352.3 L174.2,352.2 L173.7,352.1 L173.2,352.0 Z" fill="#67cbf4" stroke="#3ab6ea" stroke-width="0.7" stroke-linejoin="round" stroke-linecap="round" fill-opacity="0.9"/>
<path d="M130.6,344.8 L131.1,344.9 L131.6,345.0 L132.1,345.0 L132.6,345.1 L133.1,345.2 L133.6,345.3 L134.1,345.3 L134.6,345.4 L135.1,345.4 L135.6,345.5 L136.1,345.5 L136.6,345.6 L137.1,345.6 L137.6,345.7 L138.1,345.7 L138.6,345.7 L139.1,345.7 L139.6,345.7 L140.1,345.6 L140.6,345.6 L141.1,345.5 L141.6,345.4 L142.1,345.3 L142.6,345.2 L143.1,345.1 L143.6,344.9 L144.1,344.7 L144.6,344.5 L145.1,344.2 L145.6,344.0 L146.1,343.7 L146.6,343.4 L147.1,343.0 L147.6,342.7 L148.1,342.3 L148.6,341.9 L149.1,341.4 L149.6,341.0 L150.1,340.5 L150.6,340.0 L151.1,339.6 L151.6,339.1 L152.1,338.6 L152.6,338.1 L153.1,337.7 L153.6,337.2 L154.1,336.8 L154.6,336.4 L155.1,336.0 L155.6,335.7 L156.1,335.4 L156.6,335.2 L157.1,335.0 L157.6,334.8 L158.1,334.8 L158.6,334.7 L159.1,334.8 L159.7,334.8 L160.2,335.0 L160.7,335.2 L161.2,335.4 L161.7,335.7 L162.2,336.1 L162.7,336.5 L163.2,337.0 L163.7,337.5 L164.2,338.0 L164.7,338.6 L165.2,339.2 L165.7,339.8 L166.2,340.4 L166.7,341.0 L167.2,341.7 L167.7,342.3 L168.2,343.0 L168.7,343.6 L169.2,344.3 L169.7,344.9 L170.2,345.5 L170.7,346.1 L171.2,346.6 L171.7,347.2 L172.2,347.7 L172.7,348.2 L173.2,348.6 L173.7,349.1 L174.2,349.5 L174.7,349.9 L175.2,350.2 L175.7,350.6 L176.2,350.9 L176.7,351.2 L177.2,351.4 L177.7,351.7 L178.2,351.9 L178.7,352.1 L179.2,352.3 L179.7,352.5 L180.2,352.7 L180.7,352.8 L181.2,353.0 L181.7,353.1 L182.2,353.3 L182.7,353.4 L183.2,353.5 L183.7,353.6 L184.2,353.7 L184.7,353.9 L185.2,354.0 L185.7,354.1 L186.2,354.2 L186.7,354.2 L187.2,354.3 L187.7,354.4 L188.2,354.5 L188.2,354.5 L187.7,354.5 L187.2,354.4 L186.7,354.3 L186.2,354.2 L185.7,354.1 L185.2,354.0 L184.7,354.0 L184.2,353.9 L183.7,353.8 L183.2,353.7 L182.7,353.6 L182.2,353.5 L181.7,353.4 L181.2,353.4 L180.7,353.3 L180.2,353.2 L179.7,353.1 L179.2,353.0 L178.7,352.9 L178.2,352.9 L177.7,352.8 L177.2,352.7 L176.7,352.6 L176.2,352.5 L175.7,352.4 L175.2,352.3 L174.7,352.3 L174.2,352.2 L173.7,352.1 L173.2,352.0 L172.7,351.9 L172.2,351.8 L171.7,351.8 L171.2,351.7 L170.7,351.6 L170.2,351.5 L169.7,351.4 L169.2,351.3 L168.7,351.3 L168.2,351.2 L167.7,351.1 L167.2,351.0 L166.7,350.9 L166.2,350.8 L165.7,350.7 L165.2,350.7 L164.7,350.6 L164.2,350.5 L163.7,350.4 L163.2,350.3 L162.7,350.2 L162.2,350.2 L161.7,350.1 L161.2,350.0 L160.7,349.9 L160.2,349.8 L159.7,349.7 L159.1,349.6 L158.6,349.6 L158.1,349.5 L157.6,349.4 L157.1,349.3 L156.6,349.2 L156.1,349.1 L155.6,349.1 L155.1,349.0 L154.6,348.9 L154.1,348.8 L153.6,348.7 L153.1,348.6 L152.6,348.5 L152.1,348.5 L151.6,348.4 L151.1,348.3 L150.6,348.2 L150.1,348.1 L149.6,348.0 L149.1,348.0 L148.6,347.9 L148.1,347.8 L147.6,347.7 L147.1,347.6 L146.6,347.5 L146.1,347.5 L145.6,347.4 L145.1,347.3 L144.6,347.2 L144.1,347.1 L143.6,347.0 L143.1,346.9 L142.6,346.9 L142.1,346.8 L141.6,346.7 L141.1,346.6 L140.6,346.5 L140.1,346.4 L139.6,346.4 L139.1,346.3 L138.6,346.2 L138.1,346.1 L137.6,346.0 L137.1,345.9 L136.6,345.8 L136.1,345.8 L135.6,345.7 L135.1,345.6 L134.6,345.5 L134.1,345.4 L133.6,345.3 L133.1,345.3 L132.6,345.2 L132.1,345.1 L131.6,345.0 L131.1,344.9 L130.6,344.8 Z" fill="#f8ae8d" stroke="#f09a70" stroke-width="0.7" stroke-linejoin="round" stroke-linecap="round" fill-opacity="0.9"/>
<path d="M186.7,354.3 L187.2,354.4 L187.7,354.5 L188.2,354.5 L188.7,354.6 L189.2,354.7 L189.7,354.8 L190.2,354.9 L190.7,355.0 L191.2,355.1 L191.7,355.1 L192.2,355.2 L192.7,355.3 L193.2,355.4 L193.7,355.5 L194.2,355.6 L194.7,355.6 L195.2,355.7 L195.7,355.8 L196.2,355.9 L196.7,356.0 L197.2,356.1 L197.7,356.2 L198.2,356.2 L198.7,356.3 L199.2,356.4 L199.7,356.5 L200.3,356.6 L200.8,356.7 L201.3,356.7 L201.8,356.8 L202.3,356.9 L202.8,357.0 L203.3,357.1 L203.8,357.2 L204.3,357.3 L204.8,357.3 L205.3,357.4 L205.8,357.5 L206.3,357.6 L206.8,357.7 L207.3,357.8 L207.8,357.8 L208.3,357.9 L208.8,358.0 L209.3,358.1 L209.8,358.2 L210.3,358.3 L210.8,358.4 L211.3,358.4 L211.8,358.5 L212.3,358.6 L212.8,358.7 L213.3,358.7 L213.8,358.8 L214.3,358.9 L214.8,358.9 L215.3,359.0 L215.8,359.0 L216.3,359.0 L216.8,358.9 L217.3,358.9 L217.8,358.7 L218.3,358.5 L218.8,358.3 L219.3,357.9 L219.8,357.5 L220.3,356.9 L220.8,356.2 L221.3,355.3 L221.8,354.3 L222.3,353.1 L222.8,351.8 L223.3,350.3 L223.8,348.6 L224.3,346.8 L224.8,345.0 L225.3,343.1 L225.8,341.2 L226.3,339.3 L226.8,337.5 L227.4,335.9 L227.9,334.5 L228.4,333.4 L228.9,332.6 L229.4,332.1 L229.9,332.0 L230.4,332.1 L230.9,332.2 L231.4,332.4 L231.9,332.7 L232.4,333.0 L232.9,333.4 L233.4,333.8 L233.9,334.2 L234.4,334.7 L234.9,335.3 L235.4,335.8 L235.9,336.4 L236.4,337.1 L236.9,337.8 L237.4,338.5 L237.9,339.2 L238.4,340.0 L238.9,340.7 L239.4,341.5 L239.9,342.3 L240.4,343.2 L240.9,344.0 L241.4,344.8 L241.9,345.7 L242.4,346.5 L242.9,347.3 L243.4,348.2 L243.9,349.0 L244.4,349.8 L244.9,350.6 L245.4,351.4 L245.9,352.1 L246.4,352.9 L246.9,353.6 L247.4,354.3 L247.9,355.0 L248.4,355.7 L248.9,356.4 L249.4,357.0 L249.9,357.6 L250.4,358.2 L250.9,358.8 L251.4,359.3 L251.9,359.8 L252.4,360.3 L252.9,360.8 L253.4,361.2 L254.0,361.7 L254.5,362.1 L255.0,362.5 L255.5,362.8 L256.0,363.2 L256.5,363.5 L257.0,363.8 L257.5,364.1 L258.0,364.4 L258.5,364.7 L259.0,364.9 L259.5,365.1 L260.0,365.4 L260.5,365.6 L261.0,365.8 L261.5,366.0 L262.0,366.2 L262.5,366.3 L263.0,366.5 L263.5,366.6 L264.0,366.8 L264.5,366.9 L265.0,367.1 L265.5,367.2 L266.0,367.3 L266.5,367.5 L267.0,367.6 L267.0,367.8 L266.5,367.7 L266.0,367.7 L265.5,367.6 L265.0,367.5 L264.5,367.4 L264.0,367.3 L263.5,367.2 L263.0,367.2 L262.5,367.1 L262.0,367.0 L261.5,366.9 L261.0,366.8 L260.5,366.7 L260.0,366.6 L259.5,366.6 L259.0,366.5 L258.5,366.4 L258.0,366.3 L257.5,366.2 L257.0,366.1 L256.5,366.1 L256.0,366.0 L255.5,365.9 L255.0,365.8 L254.5,365.7 L254.0,365.6 L253.4,365.5 L252.9,365.5 L252.4,365.4 L251.9,365.3 L251.4,365.2 L250.9,365.1 L250.4,365.0 L249.9,365.0 L249.4,364.9 L248.9,364.8 L248.4,364.7 L247.9,364.6 L247.4,364.5 L246.9,364.4 L246.4,364.4 L245.9,364.3 L245.4,364.2 L244.9,364.1 L244.4,364.0 L243.9,363.9 L243.4,363.9 L242.9,363.8 L242.4,363.7 L241.9,363.6 L241.4,363.5 L240.9,363.4 L240.4,363.3 L239.9,363.3 L239.4,363.2 L238.9,363.1 L238.4,363.0 L237.9,362.9 L237.4,362.8 L236.9,362.8 L236.4,362.7 L235.9,362.6 L235.4,362.5 L234.9,362.4 L234.4,362.3 L233.9,362.2 L233.4,362.2 L232.9,362.1 L232.4,362.0 L231.9,361.9 L231.4,361.8 L230.9,361.7 L230.4,361.7 L229.9,361.6 L229.4,361.5 L228.9,361.4 L228.4,361.3 L227.9,361.2 L227.4,361.1 L226.8,361.1 L226.3,361.0 L225.8,360.9 L225.3,360.8 L224.8,360.7 L224.3,360.6 L223.8,360.6 L223.3,360.5 L222.8,360.4 L222.3,360.3 L221.8,360.2 L221.3,360.1 L220.8,360.0 L220.3,360.0 L219.8,359.9 L219.3,359.8 L218.8,359.7 L218.3,359.6 L217.8,359.5 L217.3,359.5 L216.8,359.4 L216.3,359.3 L215.8,359.2 L215.3,359.1 L214.8,359.0 L214.3,358.9 L213.8,358.9 L213.3,358.8 L212.8,358.7 L212.3,358.6 L211.8,358.5 L211.3,358.4 L210.8,358.4 L210.3,358.3 L209.8,358.2 L209.3,358.1 L208.8,358.0 L208.3,357.9 L207.8,357.8 L207.3,357.8 L206.8,357.7 L206.3,357.6 L205.8,357.5 L205.3,357.4 L204.8,357.3 L204.3,357.3 L203.8,357.2 L203.3,357.1 L202.8,357.0 L202.3,356.9 L201.8,356.8 L201.3,356.7 L200.8,356.7 L200.3,356.6 L199.7,356.5 L199.2,356.4 L198.7,356.3 L198.2,356.2 L197.7,356.2 L197.2,356.1 L196.7,356.0 L196.2,355.9 L195.7,355.8 L195.2,355.7 L194.7,355.6 L194.2,355.6 L193.7,355.5 L193.2,355.4 L192.7,355.3 L192.2,355.2 L191.7,355.1 L191.2,355.1 L190.7,355.0 L190.2,354.9 L189.7,354.8 L189.2,354.7 L188.7,354.6 L188.2,354.5 L187.7,354.5 L187.2,354.4 L186.7,354.3 Z" fill="#f8ae8d" stroke="#f09a70" stroke-width="0.7" stroke-linejoin="round" stroke-linecap="round" fill-opacity="0.9"/>
<path d="M79.9,336.3 L80.4,336.4 L80.9,336.4 L81.4,336.5 L81.9,336.6 L82.4,336.7 L82.9,336.8 L83.4,336.8 L83.9,336.9 L84.4,337.0 L84.9,337.1 L85.4,337.1 L85.9,337.2 L86.4,337.3 L86.9,337.3 L87.4,337.4 L87.9,337.5 L88.4,337.5 L88.9,337.6 L89.4,337.6 L89.9,337.7 L90.4,337.7 L90.9,337.8 L91.4,337.8 L91.9,337.8 L92.4,337.9 L92.9,337.9 L93.4,337.9 L93.9,337.9 L94.4,337.9 L94.9,337.9 L95.4,337.9 L95.9,337.9 L96.4,337.8 L96.9,337.8 L97.4,337.7 L97.9,337.7 L98.4,337.6 L98.9,337.5 L99.4,337.4 L99.9,337.3 L100.4,337.2 L100.9,337.1 L101.4,337.0 L101.9,336.9 L102.4,336.7 L102.9,336.6 L103.4,336.4 L103.9,336.3 L104.4,336.1 L104.9,336.0 L105.4,335.8 L105.9,335.6 L106.4,335.5 L106.9,335.3 L107.4,335.1 L107.9,335.0 L108.4,334.8 L108.9,334.7 L109.4,334.5 L109.9,334.4 L110.4,334.3 L110.9,334.2 L111.4,334.1 L111.9,334.0 L112.4,334.0 L112.9,333.9 L113.4,333.9 L113.9,333.9 L114.4,333.9 L114.9,333.9 L115.4,334.0 L115.9,334.1 L116.4,334.1 L116.9,334.3 L117.4,334.4 L117.9,334.6 L118.4,334.7 L118.9,334.9 L119.4,335.1 L119.9,335.4 L120.4,335.6 L120.9,335.9 L121.4,336.1 L121.9,336.4 L122.4,336.7 L122.9,337.0 L123.4,337.4 L123.9,337.7 L124.4,338.0 L124.9,338.3 L125.4,338.7 L125.9,339.0 L126.4,339.3 L126.9,339.7 L127.4,340.0 L127.9,340.3 L128.4,340.7 L128.9,341.0 L129.4,341.3 L129.9,341.6 L130.4,341.9 L130.9,342.2 L131.4,342.5 L131.9,342.7 L132.4,343.0 L132.9,343.3 L133.4,343.5 L133.9,343.7 L134.4,344.0 L134.9,344.2 L135.4,344.4 L135.9,344.6 L136.4,344.8 L136.9,345.0 L137.4,345.2 L137.9,345.3 L138.4,345.5 L138.9,345.6 L139.4,345.8 L139.9,345.9 L140.4,346.1 L140.9,346.2 L141.4,346.3 L141.9,346.5 L142.4,346.6 L142.9,346.7 L143.4,346.8 L143.9,346.9 L144.4,347.0 L144.9,347.1 L145.4,347.2 L145.9,347.3 L146.4,347.4 L146.9,347.5 L147.4,347.6 L147.9,347.7 L148.4,347.8 L148.9,347.9 L149.4,348.0 L149.9,348.1 L150.4,348.1 L150.9,348.2 L151.4,348.3 L151.9,348.4 L151.9,348.4 L151.4,348.3 L150.9,348.3 L150.4,348.2 L149.9,348.1 L149.4,348.0 L148.9,347.9 L148.4,347.8 L147.9,347.7 L147.4,347.7 L146.9,347.6 L146.4,347.5 L145.9,347.4 L145.4,347.3 L144.9,347.2 L144.4,347.2 L143.9,347.1 L143.4,347.0 L142.9,346.9 L142.4,346.8 L141.9,346.7 L141.4,346.7 L140.9,346.6 L140.4,346.5 L139.9,346.4 L139.4,346.3 L138.9,346.2 L138.4,346.1 L137.9,346.1 L137.4,346.0 L136.9,345.9 L136.4,345.8 L135.9,345.7 L135.4,345.6 L134.9,345.6 L134.4,345.5 L133.9,345.4 L133.4,345.3 L132.9,345.2 L132.4,345.1 L131.9,345.1 L131.4,345.0 L130.9,344.9 L130.4,344.8 L129.9,344.7 L129.4,344.6 L128.9,344.5 L128.4,344.5 L127.9,344.4 L127.4,344.3 L126.9,344.2 L126.4,344.1 L125.9,344.0 L125.4,344.0 L124.9,343.9 L124.4,343.8 L123.9,343.7 L123.4,343.6 L122.9,343.5 L122.4,343.5 L121.9,343.4 L121.4,343.3 L120.9,343.2 L120.4,343.1 L119.9,343.0 L119.4,342.9 L118.9,342.9 L118.4,342.8 L117.9,342.7 L117.4,342.6 L116.9,342.5 L116.4,342.4 L115.9,342.4 L115.4,342.3 L114.9,342.2 L114.4,342.1 L113.9,342.0 L113.4,341.9 L112.9,341.8 L112.4,341.8 L111.9,341.7 L111.4,341.6 L110.9,341.5 L110.4,341.4 L109.9,341.3 L109.4,341.3 L108.9,341.2 L108.4,341.1 L107.9,341.0 L107.4,340.9 L106.9,340.8 L106.4,340.8 L105.9,340.7 L105.4,340.6 L104.9,340.5 L104.4,340.4 L103.9,340.3 L103.4,340.2 L102.9,340.2 L102.4,340.1 L101.9,340.0 L101.4,339.9 L100.9,339.8 L100.4,339.7 L99.9,339.7 L99.4,339.6 L98.9,339.5 L98.4,339.4 L97.9,339.3 L97.4,339.2 L96.9,339.2 L96.4,339.1 L95.9,339.0 L95.4,338.9 L94.9,338.8 L94.4,338.7 L93.9,338.6 L93.4,338.6 L92.9,338.5 L92.4,338.4 L91.9,338.3 L91.4,338.2 L90.9,338.1 L90.4,338.1 L89.9,338.0 L89.4,337.9 L88.9,337.8 L88.4,337.7 L87.9,337.6 L87.4,337.5 L86.9,337.5 L86.4,337.4 L85.9,337.3 L85.4,337.2 L84.9,337.1 L84.4,337.0 L83.9,337.0 L83.4,336.9 L82.9,336.8 L82.4,336.7 L81.9,336.6 L81.4,336.5 L80.9,336.5 L80.4,336.4 L79.9,336.3 Z" fill="#00a991" stroke="#08947e" stroke-width="0.7" stroke-linejoin="round" stroke-linecap="round" fill-opacity="0.9"/>
<path d="M130.5,344.8 L131.0,344.9 L131.5,345.0 L132.0,345.1 L132.5,345.2 L133.0,345.2 L133.5,345.3 L134.0,345.4 L134.5,345.5 L135.0,345.6 L135.5,345.7 L136.0,345.7 L136.5,345.8 L137.0,345.9 L137.5,346.0 L138.0,346.1 L138.5,346.2 L139.0,346.2 L139.5,346.3 L140.0,346.4 L140.5,346.5 L141.0,346.6 L141.5,346.7 L142.0,346.8 L142.5,346.8 L143.0,346.9 L143.5,347.0 L144.0,347.1 L144.5,347.2 L145.0,347.3 L145.5,347.3 L146.0,347.4 L146.5,347.5 L147.0,347.6 L147.5,347.7 L148.0,347.8 L148.5,347.8 L149.0,347.9 L149.5,348.0 L150.0,348.1 L150.5,348.2 L151.0,348.2 L151.5,348.3 L152.0,348.4 L152.5,348.5 L153.0,348.5 L153.5,348.6 L154.0,348.7 L154.5,348.8 L155.0,348.8 L155.5,348.9 L156.0,348.9 L156.5,349.0 L157.0,349.0 L157.5,349.1 L158.0,349.1 L158.5,349.2 L159.0,349.2 L159.5,349.2 L160.0,349.2 L160.5,349.2 L161.0,349.2 L161.5,349.2 L162.0,349.2 L162.5,349.1 L163.0,349.1 L163.5,349.0 L164.0,348.9 L164.5,348.8 L165.0,348.7 L165.5,348.6 L166.0,348.4 L166.5,348.2 L167.0,348.0 L167.5,347.8 L168.0,347.6 L168.5,347.3 L169.0,347.1 L169.5,346.8 L170.0,346.5 L170.5,346.2 L171.0,345.8 L171.5,345.5 L172.0,345.1 L172.5,344.7 L173.0,344.3 L173.5,343.9 L174.0,343.5 L174.5,343.0 L175.0,342.6 L175.5,342.2 L176.0,341.8 L176.5,341.3 L177.0,340.9 L177.5,340.5 L178.0,340.2 L178.5,339.8 L179.0,339.5 L179.5,339.1 L180.0,338.9 L180.5,338.6 L181.0,338.4 L181.5,338.2 L182.0,338.0 L182.5,337.9 L183.0,337.9 L183.5,337.8 L184.0,337.9 L184.5,337.9 L185.0,338.0 L185.5,338.1 L186.0,338.3 L186.5,338.4 L187.0,338.6 L187.5,338.7 L188.0,338.9 L188.5,339.2 L189.0,339.4 L189.5,339.6 L190.0,339.9 L190.5,340.2 L191.0,340.5 L191.5,340.8 L192.0,341.1 L192.5,341.4 L193.0,341.7 L193.5,342.1 L194.0,342.4 L194.5,342.8 L195.0,343.2 L195.5,343.5 L196.0,343.9 L196.5,344.3 L197.0,344.7 L197.5,345.1 L198.0,345.5 L198.5,345.9 L199.0,346.3 L199.5,346.7 L200.0,347.2 L200.5,347.6 L201.0,348.0 L201.5,348.4 L202.0,348.8 L202.5,349.2 L203.0,349.6 L203.5,350.0 L204.0,350.3 L204.5,350.7 L205.0,351.1 L205.5,351.5 L206.0,351.8 L206.5,352.2 L207.0,352.5 L207.5,352.9 L208.0,353.2 L208.5,353.5 L209.0,353.8 L209.5,354.1 L210.0,354.4 L210.5,354.7 L211.0,355.0 L211.5,355.3 L212.0,355.6 L212.5,355.8 L213.0,356.1 L213.5,356.3 L214.0,356.6 L214.5,356.8 L215.0,357.0 L215.5,357.3 L216.0,357.5 L216.5,357.7 L217.0,357.9 L217.5,358.1 L218.0,358.2 L218.5,358.4 L219.0,358.6 L219.5,358.8 L220.0,358.9 L220.5,359.1 L221.0,359.2 L221.5,359.4 L222.0,359.5 L222.5,359.7 L223.0,359.8 L223.5,360.0 L224.0,360.1 L224.5,360.2 L225.0,360.3 L225.5,360.5 L226.0,360.6 L226.5,360.7 L227.0,360.8 L227.5,360.9 L228.0,361.0 L228.5,361.1 L229.0,361.2 L229.5,361.3 L230.0,361.4 L230.5,361.5 L231.0,361.6 L231.5,361.7 L232.0,361.8 L232.5,361.9 L233.0,362.0 L233.5,362.1 L234.0,362.2 L234.5,362.3 L235.0,362.4 L235.5,362.5 L236.0,362.6 L236.5,362.6 L237.0,362.7 L237.5,362.8 L238.0,362.9 L238.5,363.0 L238.5,363.0 L238.0,362.9 L237.5,362.9 L237.0,362.8 L236.5,362.7 L236.0,362.6 L235.5,362.5 L235.0,362.4 L234.5,362.4 L234.0,362.3 L233.5,362.2 L233.0,362.1 L232.5,362.0 L232.0,361.9 L231.5,361.8 L231.0,361.8 L230.5,361.7 L230.0,361.6 L229.5,361.5 L229.0,361.4 L228.5,361.3 L228.0,361.3 L227.5,361.2 L227.0,361.1 L226.5,361.0 L226.0,360.9 L225.5,360.8 L225.0,360.7 L224.5,360.7 L224.0,360.6 L223.5,360.5 L223.0,360.4 L222.5,360.3 L222.0,360.2 L221.5,360.2 L221.0,360.1 L220.5,360.0 L220.0,359.9 L219.5,359.8 L219.0,359.7 L218.5,359.7 L218.0,359.6 L217.5,359.5 L217.0,359.4 L216.5,359.3 L216.0,359.2 L215.5,359.1 L215.0,359.1 L214.5,359.0 L214.0,358.9 L213.5,358.8 L213.0,358.7 L212.5,358.6 L212.0,358.6 L211.5,358.5 L211.0,358.4 L210.5,358.3 L210.0,358.2 L209.5,358.1 L209.0,358.1 L208.5,358.0 L208.0,357.9 L207.5,357.8 L207.0,357.7 L206.5,357.6 L206.0,357.5 L205.5,357.5 L205.0,357.4 L204.5,357.3 L204.0,357.2 L203.5,357.1 L203.0,357.0 L202.5,357.0 L202.0,356.9 L201.5,356.8 L201.0,356.7 L200.5,356.6 L200.0,356.5 L199.5,356.5 L199.0,356.4 L198.5,356.3 L198.0,356.2 L197.5,356.1 L197.0,356.0 L196.5,355.9 L196.0,355.9 L195.5,355.8 L195.0,355.7 L194.5,355.6 L194.0,355.5 L193.5,355.4 L193.0,355.4 L192.5,355.3 L192.0,355.2 L191.5,355.1 L191.0,355.0 L190.5,354.9 L190.0,354.8 L189.5,354.8 L189.0,354.7 L188.5,354.6 L188.0,354.5 L187.5,354.4 L187.0,354.3 L186.5,354.3 L186.0,354.2 L185.5,354.1 L185.0,354.0 L184.5,353.9 L184.0,353.8 L183.5,353.8 L183.0,353.7 L182.5,353.6 L182.0,353.5 L181.5,353.4 L181.0,353.3 L180.5,353.2 L180.0,353.2 L179.5,353.1 L179.0,353.0 L178.5,352.9 L178.0,352.8 L177.5,352.7 L177.0,352.7 L176.5,352.6 L176.0,352.5 L175.5,352.4 L175.0,352.3 L174.5,352.2 L174.0,352.2 L173.5,352.1 L173.0,352.0 L172.5,351.9 L172.0,351.8 L171.5,351.7 L171.0,351.6 L170.5,351.6 L170.0,351.5 L169.5,351.4 L169.0,351.3 L168.5,351.2 L168.0,351.1 L167.5,351.1 L167.0,351.0 L166.5,350.9 L166.0,350.8 L165.5,350.7 L165.0,350.6 L164.5,350.5 L164.0,350.5 L163.5,350.4 L163.0,350.3 L162.5,350.2 L162.0,350.1 L161.5,350.0 L161.0,350.0 L160.5,349.9 L160.0,349.8 L159.5,349.7 L159.0,349.6 L158.5,349.5 L158.0,349.5 L157.5,349.4 L157.0,349.3 L156.5,349.2 L156.0,349.1 L155.5,349.0 L155.0,348.9 L154.5,348.9 L154.0,348.8 L153.5,348.7 L153.0,348.6 L152.5,348.5 L152.0,348.4 L151.5,348.4 L151.0,348.3 L150.5,348.2 L150.0,348.1 L149.5,348.0 L149.0,347.9 L148.5,347.9 L148.0,347.8 L147.5,347.7 L147.0,347.6 L146.5,347.5 L146.0,347.4 L145.5,347.3 L145.0,347.3 L144.5,347.2 L144.0,347.1 L143.5,347.0 L143.0,346.9 L142.5,346.8 L142.0,346.8 L141.5,346.7 L141.0,346.6 L140.5,346.5 L140.0,346.4 L139.5,346.3 L139.0,346.2 L138.5,346.2 L138.0,346.1 L137.5,346.0 L137.0,345.9 L136.5,345.8 L136.0,345.7 L135.5,345.7 L135.0,345.6 L134.5,345.5 L134.0,345.4 L133.5,345.3 L133.0,345.2 L132.5,345.2 L132.0,345.1 L131.5,345.0 L131.0,344.9 L130.5,344.8 Z" fill="#00a991" stroke="#08947e" stroke-width="0.7" stroke-linejoin="round" stroke-linecap="round" fill-opacity="0.9"/>
<line x1="45.8" y1="330.83" x2="267" y2="368.13" stroke="#10a58c" stroke-width="1.4"/>
<path d="M46.0,327.7 L47.0,328.1 L48.0,329.2 L49.0,330.5 L50.0,328.2 L51.0,328.1 L52.0,328.6 L53.0,330.8 L54.0,328.2 L55.0,330.7 L56.0,330.4 L57.0,328.2 L58.0,329.8 L59.0,329.5 L60.0,329.3 L61.0,331.8 L62.0,328.0 L63.0,327.7 L64.0,331.6 L65.0,329.3 L66.0,328.5 L67.0,329.0 L68.0,329.2 L69.0,331.7 L70.0,328.5 L71.0,328.6 L72.0,330.1 L73.0,330.0 L74.0,331.7 L75.0,331.2 L76.0,329.2 L77.0,328.6 L78.0,331.2 L79.0,331.9 L80.0,327.9 L81.0,330.8 L82.0,331.4 L83.0,330.5 L84.0,328.7 L85.0,331.1 L86.0,330.9 L87.0,328.6 L88.0,330.5 L89.0,328.8 L90.0,328.1 L91.0,329.4 L92.0,329.4 L93.0,329.8 L94.0,330.9 L95.0,331.8 L96.0,332.4 L97.0,332.6 L98.0,332.7 L99.0,331.9 L100.0,329.9 L101.0,329.3 L102.0,331.1 L103.0,330.7 L104.0,331.1 L105.0,328.5 L106.0,328.8 L107.0,331.7 L108.0,330.3 L109.0,330.6 L110.0,328.0 L111.0,329.3 L112.0,331.4 L113.0,330.3 L114.0,331.8 L115.0,328.5 L116.0,329.6 L117.0,331.1 L118.0,329.7 L119.0,331.2 L120.0,330.3 L121.0,328.4 L122.0,328.4 L123.0,332.2 L124.0,328.6 L125.0,329.0 L126.0,329.7 L127.0,331.3 L128.0,332.0 L129.0,330.5 L130.0,330.7 L131.0,332.0 L132.0,330.0 L133.0,330.6 L134.0,331.7 L135.0,332.0 L136.0,329.6 L137.0,330.1 L138.0,330.4 L139.0,333.0 L140.0,333.0 L141.0,334.3 L142.0,333.6 L143.0,331.6 L144.0,333.9 L145.0,335.0 L146.0,332.4 L147.0,330.9 L148.0,332.4 L149.0,331.9 L150.0,331.3 L151.0,330.6 L152.0,330.7 L153.0,333.4 L154.0,329.7 L155.0,331.7 L156.0,329.6 L157.0,329.2 L158.0,331.5 L159.0,329.0 L160.0,328.4 L161.0,329.5 L162.0,330.9 L163.0,330.7 L164.0,333.3 L165.0,332.5 L166.0,333.6 L167.0,334.9 L168.0,334.2 L169.0,335.5 L170.0,334.6 L171.0,333.2 L172.0,333.0 L173.0,335.5 L174.0,334.9 L175.0,335.3 L176.0,333.7 L177.0,332.7 L178.0,330.3 L179.0,332.4 L180.0,328.5 L181.0,329.0 L182.0,327.1 L183.0,327.4 L184.0,326.4 L185.0,326.2 L186.0,326.8 L187.0,325.5 L188.0,323.6 L189.0,325.3 L190.0,324.6 L191.0,324.4 L192.0,320.5 L193.0,322.5 L194.0,323.4 L195.0,320.5 L196.0,320.3 L197.0,323.0 L198.0,321.4 L199.0,321.8 L200.0,323.8 L201.0,322.4 L202.0,322.2 L203.0,322.9 L204.0,324.2 L205.0,326.6 L206.0,326.1 L207.0,328.7 L208.0,326.7 L209.0,328.5 L210.0,331.1 L211.0,331.7 L212.0,332.9 L213.0,335.9 L214.0,334.2 L215.0,334.8 L216.0,335.1 L217.0,337.8 L218.0,337.7 L219.0,339.1 L220.0,337.7 L221.0,337.7 L222.0,338.7 L223.0,339.2 L224.0,335.9 L225.0,336.6 L226.0,333.3 L227.0,331.2 L228.0,331.5 L229.0,328.2 L230.0,329.4 L231.0,330.8 L232.0,330.7 L233.0,331.9 L234.0,333.9 L235.0,338.7 L236.0,339.7 L237.0,342.8 L238.0,345.6 L239.0,349.0 L240.0,349.3 L241.0,350.0 L242.0,352.6 L243.0,351.3 L244.0,352.5 L245.0,354.5 L246.0,354.7 L247.0,354.1 L248.0,355.7 L249.0,358.2 L250.0,356.5 L251.0,359.2 L252.0,357.1 L253.0,361.6 L254.0,361.0 L255.0,360.0 L256.0,363.3 L257.0,362.9 L258.0,360.3 L259.0,361.5 L260.0,363.0 L261.0,365.6 L262.0,362.4 L263.0,362.4 L264.0,364.0 L265.0,363.3 L266.0,365.2" fill="none" stroke="#000" stroke-width="1.35" stroke-linejoin="round" stroke-linecap="round" />
<path d="M46.0,329.7 L48.5,329.7 L52.1,329.7 L56.1,329.7 L60.0,329.7 L63.7,329.7 L67.4,329.7 L71.2,329.8 L75.0,329.8 L78.9,329.8 L82.8,329.9 L86.6,329.9 L90.0,330.0 L92.9,330.2 L95.3,330.4 L97.6,330.6 L100.0,330.7 L102.5,330.5 L105.0,330.2 L107.5,329.9 L110.0,329.7 L112.5,329.7 L115.0,329.7 L117.5,329.9 L120.0,330.0 L122.5,330.1 L125.0,330.3 L127.5,330.5 L130.0,330.7 L132.6,331.0 L135.2,331.4 L137.8,331.9 L140.0,332.2 L141.8,332.5 L143.3,332.7 L144.7,332.9 L146.0,333.0 L147.3,333.0 L148.6,332.9 L149.8,332.7 L151.0,332.5 L152.0,332.2 L153.0,331.9 L154.0,331.6 L155.0,331.2 L156.2,330.8 L157.6,330.3 L158.9,329.9 L160.0,329.7 L160.9,329.7 L161.7,329.9 L162.3,330.2 L163.0,330.6 L163.6,331.2 L164.1,331.9 L164.7,332.7 L165.5,333.3 L166.6,333.8 L167.9,334.4 L169.4,334.7 L170.8,334.8 L172.2,334.6 L173.7,334.1 L175.1,333.4 L176.6,332.6 L178.0,331.7 L179.5,330.5 L180.9,329.4 L182.4,328.3 L183.8,327.3 L185.3,326.4 L186.8,325.5 L188.2,324.6 L189.7,323.7 L191.2,322.9 L192.7,322.2 L194.0,321.7 L195.2,321.5 L196.2,321.5 L197.3,321.7 L198.3,322.0 L199.4,322.3 L200.4,322.7 L201.5,323.2 L202.7,323.9 L204.1,324.9 L205.5,326.2 L207.0,327.6 L208.5,329.0 L210.0,330.6 L211.5,332.4 L213.0,334.1 L214.3,335.5 L215.5,336.6 L216.7,337.6 L217.7,338.4 L218.6,339.0 L219.3,339.5 L219.9,339.8 L220.4,339.9 L221.0,339.8 L221.6,339.5 L222.2,339.0 L222.9,338.3 L223.5,337.5 L224.1,336.5 L224.8,335.3 L225.4,334.1 L226.0,333.0 L226.6,332.1 L227.3,331.2 L227.9,330.4 L228.5,329.8 L229.0,329.4 L229.4,329.1 L229.8,328.9 L230.2,329.0 L230.7,329.2 L231.2,329.4 L231.7,330.0 L232.3,331.0 L233.0,332.7 L233.8,334.9 L234.6,337.3 L235.4,339.5 L236.2,341.4 L236.9,343.2 L237.7,344.9 L238.6,346.5 L239.5,348.0 L240.5,349.3 L241.5,350.5 L242.5,351.6 L243.4,352.5 L244.3,353.2 L245.3,353.9 L246.4,354.8 L247.8,355.9 L249.4,357.2 L251.1,358.4 L252.7,359.5 L254.3,360.4 L255.8,361.2 L257.4,361.9 L259.0,362.6 L260.7,363.4 L262.4,364.1 L264.1,364.8 L265.3,365.3 L266.0,365.6 L266.4,365.8 L266.6,365.9 L266.8,366.0" fill="none" stroke="#9e22ee" stroke-width="1.5" stroke-linejoin="round" stroke-linecap="round" />
<text x="106.5" y="309.4" font-size="8.8" fill="#000" stroke="#000" stroke-width="0.22" font-weight="bold" text-anchor="start" textLength="25.8" lengthAdjust="spacingAndGlyphs" >Fe 2p<tspan font-size="5.4" dy="2.0">1/2</tspan></text>
<text x="60.7" y="324.3" font-size="8.8" fill="#000" stroke="#000" stroke-width="0.22" font-weight="bold" text-anchor="start" textLength="13" lengthAdjust="spacingAndGlyphs" >Sat.</text>
<text x="101.1" y="323.2" font-size="8.8" fill="#10a58c" stroke="#10a58c" stroke-width="0.22" font-weight="bold" text-anchor="start" transform="translate(101.1 0) scale(0.9 1) translate(-101.1 0)" >Fe <tspan font-size="5.4" dy="-3.4">3+</tspan></text>
<text x="126.2" y="323.2" font-size="8.8" fill="#45c2ef" stroke="#45c2ef" stroke-width="0.22" font-weight="bold" text-anchor="start" transform="translate(126.2 0) scale(0.9 1) translate(-126.2 0)" >Fe <tspan font-size="5.4" dy="-3.4">2+</tspan></text>
<text x="152.4" y="322.1" font-size="8.8" fill="#f4a07c" stroke="#f4a07c" stroke-width="0.22" font-weight="bold" text-anchor="start" textLength="15.3" lengthAdjust="spacingAndGlyphs" >Fe-P</text>
<text x="182.9" y="305.1" font-size="8.8" fill="#000" stroke="#000" stroke-width="0.22" font-weight="bold" text-anchor="start" textLength="25.8" lengthAdjust="spacingAndGlyphs" >Fe 2p<tspan font-size="5.4" dy="2.0">3/2</tspan></text>
<text x="177.9" y="320.3" font-size="8.8" fill="#10a58c" stroke="#10a58c" stroke-width="0.22" font-weight="bold" text-anchor="start" transform="translate(177.9 0) scale(0.9 1) translate(-177.9 0)" >Fe <tspan font-size="5.4" dy="-3.4">3+</tspan></text>
<text x="204.1" y="319.9" font-size="8.8" fill="#45c2ef" stroke="#45c2ef" stroke-width="0.22" font-weight="bold" text-anchor="start" transform="translate(204.1 0) scale(0.9 1) translate(-204.1 0)" >Fe <tspan font-size="5.4" dy="-3.4">2+</tspan></text>
<text x="225.9" y="322.5" font-size="8.8" fill="#f4a07c" stroke="#f4a07c" stroke-width="0.22" font-weight="bold" text-anchor="start" textLength="15.3" lengthAdjust="spacingAndGlyphs" >Fe-P</text>
<text x="61.8" y="361.4" font-size="8.6" fill="#000" stroke="#000" stroke-width="0.22" font-weight="bold" text-anchor="start" textLength="39.7" lengthAdjust="spacingAndGlyphs" >e-NFP/NFF</text>
<rect x="311.1" y="212.3" width="221.19999999999993" height="162.2" fill="none" stroke="#000" stroke-width="1.9"/>
<line x1="343.2" y1="374.5" x2="343.2" y2="378.3" stroke="#000" stroke-width="1.3"/>
<line x1="406.1" y1="374.5" x2="406.1" y2="378.3" stroke="#000" stroke-width="1.3"/>
<line x1="468.9" y1="374.5" x2="468.9" y2="378.3" stroke="#000" stroke-width="1.3"/>
<line x1="531.8" y1="374.5" x2="531.8" y2="378.3" stroke="#000" stroke-width="1.3"/>
<line x1="374.7" y1="374.5" x2="374.7" y2="377.0" stroke="#000" stroke-width="1.1"/>
<line x1="437.5" y1="374.5" x2="437.5" y2="377.0" stroke="#000" stroke-width="1.1"/>
<line x1="500.4" y1="374.5" x2="500.4" y2="377.0" stroke="#000" stroke-width="1.1"/>
<text x="343.2" y="389.0" font-size="10.8" fill="#000" stroke="#000" stroke-width="0.22" font-weight="normal" text-anchor="middle" textLength="17" lengthAdjust="spacingAndGlyphs" >140</text>
<text x="406.1" y="389.0" font-size="10.8" fill="#000" stroke="#000" stroke-width="0.22" font-weight="normal" text-anchor="middle" textLength="17" lengthAdjust="spacingAndGlyphs" >135</text>
<text x="468.9" y="389.0" font-size="10.8" fill="#000" stroke="#000" stroke-width="0.22" font-weight="normal" text-anchor="middle" textLength="17" lengthAdjust="spacingAndGlyphs" >130</text>
<text x="531.8" y="389.0" font-size="10.8" fill="#000" stroke="#000" stroke-width="0.22" font-weight="normal" text-anchor="middle" textLength="17" lengthAdjust="spacingAndGlyphs" >125</text>
<text x="430.7" y="400.8" font-size="15.8" fill="#000" stroke="#000" stroke-width="0.22" font-weight="bold" text-anchor="middle" textLength="129.6" lengthAdjust="spacingAndGlyphs" >Binding energy (eV)</text>
<text x="298.2" y="290.6" font-size="13.6" fill="#000" stroke="#000" stroke-width="0.22" font-weight="bold" text-anchor="middle" textLength="84.4" lengthAdjust="spacingAndGlyphs" transform="rotate(-90 298.2 290.6)" >Intensity (a.u.)</text>
<text x="273.2" y="227.6" font-size="19.3" fill="#000" stroke="#000" stroke-width="0.22" font-weight="bold" text-anchor="start" textLength="24.4" lengthAdjust="spacingAndGlyphs" >(d)</text>
<text x="323.8" y="229.8" font-size="10.8" fill="#000" stroke="#000" stroke-width="0.22" font-weight="bold" text-anchor="start" textLength="21.1" lengthAdjust="spacingAndGlyphs" >P 2p</text>
<path d="M375.9,346.4 L376.4,346.4 L376.9,346.4 L377.4,346.4 L377.9,346.4 L378.4,346.4 L378.9,346.4 L379.4,346.5 L379.9,346.5 L380.4,346.5 L380.9,346.5 L381.4,346.5 L381.9,346.4 L382.4,346.4 L382.9,346.4 L383.4,346.4 L383.9,346.4 L384.4,346.3 L384.9,346.3 L385.4,346.3 L385.9,346.2 L386.4,346.1 L386.9,346.1 L387.4,346.0 L387.9,345.9 L388.4,345.8 L388.9,345.7 L389.4,345.6 L389.9,345.5 L390.4,345.4 L390.9,345.2 L391.4,345.1 L391.9,344.9 L392.4,344.7 L392.9,344.5 L393.4,344.3 L393.9,344.0 L394.4,343.8 L394.9,343.5 L395.4,343.2 L395.9,342.9 L396.4,342.6 L396.9,342.2 L397.4,341.8 L397.9,341.4 L398.4,341.0 L398.9,340.5 L399.4,340.0 L399.9,339.5 L400.4,339.0 L400.9,338.4 L401.4,337.8 L401.9,337.2 L402.4,336.5 L402.9,335.8 L403.4,335.1 L403.9,334.4 L404.4,333.6 L405.0,332.7 L405.5,331.9 L406.0,331.0 L406.5,330.1 L407.0,329.1 L407.5,328.1 L408.0,327.1 L408.5,326.1 L409.0,325.0 L409.5,323.8 L410.0,322.7 L410.5,321.5 L411.0,320.3 L411.5,319.1 L412.0,317.8 L412.5,316.5 L413.0,315.2 L413.5,313.9 L414.0,312.5 L414.5,311.2 L415.0,309.8 L415.5,308.4 L416.0,307.0 L416.5,305.6 L417.0,304.2 L417.5,302.7 L418.0,301.3 L418.5,299.9 L419.0,298.5 L419.5,297.1 L420.0,295.7 L420.5,294.3 L421.0,293.0 L421.5,291.6 L422.0,290.3 L422.5,289.0 L423.0,287.8 L423.5,286.5 L424.0,285.4 L424.5,284.2 L425.0,283.1 L425.5,282.1 L426.0,281.1 L426.5,280.1 L427.0,279.2 L427.5,278.4 L428.0,277.6 L428.5,276.9 L429.0,276.2 L429.5,275.7 L430.0,275.1 L430.5,274.7 L431.0,274.3 L431.5,274.0 L432.0,273.8 L432.5,273.6 L433.0,273.5 L433.5,273.5 L434.0,273.6 L434.5,273.8 L435.0,274.1 L435.5,274.5 L436.0,275.0 L436.5,275.5 L437.0,276.2 L437.5,277.0 L438.0,277.8 L438.5,278.7 L439.0,279.8 L439.5,280.9 L440.0,282.0 L440.5,283.3 L441.0,284.6 L441.5,285.9 L442.0,287.4 L442.5,288.8 L443.0,290.4 L443.5,291.9 L444.0,293.5 L444.5,295.2 L445.0,296.8 L445.5,298.5 L446.0,300.2 L446.5,301.9 L447.0,303.6 L447.5,305.3 L448.0,307.0 L448.5,308.8 L449.0,310.5 L449.5,312.1 L450.0,313.8 L450.5,315.5 L451.0,317.1 L451.5,318.7 L452.0,320.2 L452.5,321.8 L453.0,323.3 L453.5,324.7 L454.0,326.1 L454.5,327.5 L455.0,328.8 L455.5,330.1 L456.0,331.4 L456.5,332.6 L457.0,333.8 L457.5,334.9 L458.0,335.9 L458.5,337.0 L459.0,338.0 L459.5,338.9 L460.0,339.8 L460.5,340.6 L461.0,341.4 L461.5,342.2 L462.0,342.9 L462.6,343.6 L463.1,344.3 L463.6,344.9 L464.1,345.5 L464.6,346.0 L465.1,346.5 L465.6,347.0 L466.1,347.5 L466.6,347.9 L467.1,348.3 L467.6,348.7 L468.1,349.0 L468.6,349.3 L469.1,349.6 L469.6,349.9 L470.1,350.2 L470.6,350.4 L471.1,350.6 L471.6,350.9 L472.1,351.1 L472.6,351.2 L473.1,351.4 L473.6,351.6 L474.1,351.7 L474.6,351.8 L475.1,352.0 L475.6,352.1 L476.1,352.2 L476.6,352.3 L477.1,352.4 L477.6,352.5 L478.1,352.6 L478.6,352.6 L479.1,352.7 L479.6,352.8 L480.1,352.8 L480.6,352.9 L481.1,353.0 L481.6,353.0 L482.1,353.1 L482.6,353.1 L483.1,353.2 L483.6,353.2 L484.1,353.3 L484.6,353.3 L485.1,353.3 L485.6,353.4 L486.1,353.4 L486.6,353.5 L487.1,353.5 L487.6,353.5 L488.1,353.6 L488.6,353.6 L489.1,353.7 L489.6,353.7 L490.1,353.7 L490.6,353.8 L491.1,353.8 L491.1,353.8 L490.6,353.8 L490.1,353.7 L489.6,353.7 L489.1,353.7 L488.6,353.6 L488.1,353.6 L487.6,353.6 L487.1,353.5 L486.6,353.5 L486.1,353.5 L485.6,353.5 L485.1,353.4 L484.6,353.4 L484.1,353.4 L483.6,353.3 L483.1,353.3 L482.6,353.3 L482.1,353.2 L481.6,353.2 L481.1,353.2 L480.6,353.1 L480.1,353.1 L479.6,353.1 L479.1,353.0 L478.6,353.0 L478.1,353.0 L477.6,352.9 L477.1,352.9 L476.6,352.9 L476.1,352.8 L475.6,352.8 L475.1,352.8 L474.6,352.8 L474.1,352.7 L473.6,352.7 L473.1,352.7 L472.6,352.6 L472.1,352.6 L471.6,352.6 L471.1,352.5 L470.6,352.5 L470.1,352.5 L469.6,352.4 L469.1,352.4 L468.6,352.4 L468.1,352.3 L467.6,352.3 L467.1,352.3 L466.6,352.2 L466.1,352.2 L465.6,352.2 L465.1,352.1 L464.6,352.1 L464.1,352.1 L463.6,352.1 L463.1,352.0 L462.6,352.0 L462.0,352.0 L461.5,351.9 L461.0,351.9 L460.5,351.9 L460.0,351.8 L459.5,351.8 L459.0,351.8 L458.5,351.7 L458.0,351.7 L457.5,351.7 L457.0,351.6 L456.5,351.6 L456.0,351.6 L455.5,351.5 L455.0,351.5 L454.5,351.5 L454.0,351.4 L453.5,351.4 L453.0,351.4 L452.5,351.4 L452.0,351.3 L451.5,351.3 L451.0,351.3 L450.5,351.2 L450.0,351.2 L449.5,351.2 L449.0,351.1 L448.5,351.1 L448.0,351.1 L447.5,351.0 L447.0,351.0 L446.5,351.0 L446.0,350.9 L445.5,350.9 L445.0,350.9 L444.5,350.8 L444.0,350.8 L443.5,350.8 L443.0,350.7 L442.5,350.7 L442.0,350.7 L441.5,350.7 L441.0,350.6 L440.5,350.6 L440.0,350.6 L439.5,350.5 L439.0,350.5 L438.5,350.5 L438.0,350.4 L437.5,350.4 L437.0,350.4 L436.5,350.3 L436.0,350.3 L435.5,350.3 L435.0,350.2 L434.5,350.2 L434.0,350.2 L433.5,350.1 L433.0,350.1 L432.5,350.1 L432.0,350.0 L431.5,350.0 L431.0,350.0 L430.5,350.0 L430.0,349.9 L429.5,349.9 L429.0,349.9 L428.5,349.8 L428.0,349.8 L427.5,349.8 L427.0,349.7 L426.5,349.7 L426.0,349.7 L425.5,349.6 L425.0,349.6 L424.5,349.6 L424.0,349.5 L423.5,349.5 L423.0,349.5 L422.5,349.4 L422.0,349.4 L421.5,349.4 L421.0,349.3 L420.5,349.3 L420.0,349.3 L419.5,349.3 L419.0,349.2 L418.5,349.2 L418.0,349.2 L417.5,349.1 L417.0,349.1 L416.5,349.1 L416.0,349.0 L415.5,349.0 L415.0,349.0 L414.5,348.9 L414.0,348.9 L413.5,348.9 L413.0,348.8 L412.5,348.8 L412.0,348.8 L411.5,348.7 L411.0,348.7 L410.5,348.7 L410.0,348.6 L409.5,348.6 L409.0,348.6 L408.5,348.6 L408.0,348.5 L407.5,348.5 L407.0,348.5 L406.5,348.4 L406.0,348.4 L405.5,348.4 L405.0,348.3 L404.4,348.3 L403.9,348.3 L403.4,348.2 L402.9,348.2 L402.4,348.2 L401.9,348.1 L401.4,348.1 L400.9,348.1 L400.4,348.0 L399.9,348.0 L399.4,348.0 L398.9,347.9 L398.4,347.9 L397.9,347.9 L397.4,347.9 L396.9,347.8 L396.4,347.8 L395.9,347.8 L395.4,347.7 L394.9,347.7 L394.4,347.7 L393.9,347.6 L393.4,347.6 L392.9,347.6 L392.4,347.5 L391.9,347.5 L391.4,347.5 L390.9,347.4 L390.4,347.4 L389.9,347.4 L389.4,347.3 L388.9,347.3 L388.4,347.3 L387.9,347.2 L387.4,347.2 L386.9,347.2 L386.4,347.2 L385.9,347.1 L385.4,347.1 L384.9,347.1 L384.4,347.0 L383.9,347.0 L383.4,347.0 L382.9,346.9 L382.4,346.9 L381.9,346.9 L381.4,346.8 L380.9,346.8 L380.4,346.8 L379.9,346.7 L379.4,346.7 L378.9,346.7 L378.4,346.6 L377.9,346.6 L377.4,346.6 L376.9,346.5 L376.4,346.5 L375.9,346.5 Z" fill="#988ddf" stroke="#5f50b8" stroke-width="0.7" stroke-linejoin="round" stroke-linecap="round" fill-opacity="0.9"/>
<path d="M457.2,351.5 L457.7,351.5 L458.2,351.5 L458.7,351.5 L459.2,351.4 L459.7,351.3 L460.2,351.2 L460.7,351.1 L461.2,350.9 L461.7,350.6 L462.2,350.3 L462.7,349.9 L463.2,349.5 L463.7,348.9 L464.2,348.2 L464.7,347.3 L465.2,346.3 L465.7,345.2 L466.2,343.9 L466.7,342.3 L467.2,340.6 L467.7,338.6 L468.3,336.4 L468.8,334.0 L469.3,331.3 L469.8,328.4 L470.3,325.3 L470.8,322.0 L471.3,318.5 L471.8,314.9 L472.3,311.2 L472.8,307.5 L473.3,303.7 L473.8,300.0 L474.3,296.4 L474.8,293.0 L475.3,289.8 L475.8,286.9 L476.3,284.3 L476.8,282.2 L477.3,280.4 L477.8,279.2 L478.3,278.5 L478.8,278.2 L479.3,278.5 L479.8,279.3 L480.3,280.6 L480.8,282.4 L481.3,284.7 L481.8,287.3 L482.3,290.2 L482.8,293.5 L483.3,297.0 L483.8,300.7 L484.3,304.4 L484.8,308.2 L485.3,312.1 L485.8,315.8 L486.3,319.5 L486.8,323.0 L487.3,326.4 L487.8,329.6 L488.3,332.5 L488.8,335.2 L489.3,337.7 L489.9,340.0 L490.4,342.0 L490.9,343.9 L491.4,345.5 L491.9,346.9 L492.4,348.1 L492.9,349.1 L493.4,350.0 L493.9,350.8 L494.4,351.4 L494.9,352.0 L495.4,352.4 L495.9,352.8 L496.4,353.1 L496.9,353.4 L497.4,353.6 L497.9,353.8 L498.4,353.9 L498.9,354.0 L499.4,354.1 L499.9,354.2 L500.4,354.3 L500.4,354.4 L499.9,354.4 L499.4,354.3 L498.9,354.3 L498.4,354.3 L497.9,354.2 L497.4,354.2 L496.9,354.2 L496.4,354.1 L495.9,354.1 L495.4,354.1 L494.9,354.0 L494.4,354.0 L493.9,354.0 L493.4,353.9 L492.9,353.9 L492.4,353.9 L491.9,353.9 L491.4,353.8 L490.9,353.8 L490.4,353.8 L489.9,353.7 L489.3,353.7 L488.8,353.7 L488.3,353.6 L487.8,353.6 L487.3,353.6 L486.8,353.5 L486.3,353.5 L485.8,353.5 L485.3,353.4 L484.8,353.4 L484.3,353.4 L483.8,353.3 L483.3,353.3 L482.8,353.3 L482.3,353.2 L481.8,353.2 L481.3,353.2 L480.8,353.1 L480.3,353.1 L479.8,353.1 L479.3,353.1 L478.8,353.0 L478.3,353.0 L477.8,353.0 L477.3,352.9 L476.8,352.9 L476.3,352.9 L475.8,352.8 L475.3,352.8 L474.8,352.8 L474.3,352.7 L473.8,352.7 L473.3,352.7 L472.8,352.6 L472.3,352.6 L471.8,352.6 L471.3,352.5 L470.8,352.5 L470.3,352.5 L469.8,352.4 L469.3,352.4 L468.8,352.4 L468.3,352.4 L467.7,352.3 L467.2,352.3 L466.7,352.3 L466.2,352.2 L465.7,352.2 L465.2,352.2 L464.7,352.1 L464.2,352.1 L463.7,352.1 L463.2,352.0 L462.7,352.0 L462.2,352.0 L461.7,351.9 L461.2,351.9 L460.7,351.9 L460.2,351.8 L459.7,351.8 L459.2,351.8 L458.7,351.7 L458.2,351.7 L457.7,351.7 L457.2,351.6 Z" fill="#67cbf4" stroke="#3ab6ea" stroke-width="0.7" stroke-linejoin="round" stroke-linecap="round" fill-opacity="0.9"/>
<path d="M440.3,350.5 L440.8,350.5 L441.3,350.5 L441.8,350.5 L442.3,350.5 L442.8,350.5 L443.3,350.5 L443.8,350.5 L444.3,350.5 L444.8,350.4 L445.3,350.4 L445.8,350.3 L446.3,350.2 L446.8,350.0 L447.3,349.9 L447.8,349.7 L448.3,349.5 L448.8,349.2 L449.3,348.9 L449.8,348.6 L450.3,348.2 L450.8,347.7 L451.3,347.2 L451.8,346.6 L452.3,346.0 L452.8,345.2 L453.3,344.4 L453.8,343.6 L454.3,342.6 L454.8,341.6 L455.3,340.5 L455.8,339.3 L456.3,338.0 L456.8,336.7 L457.3,335.3 L457.8,333.8 L458.3,332.3 L458.8,330.8 L459.3,329.2 L459.8,327.7 L460.3,326.1 L460.8,324.5 L461.3,323.0 L461.8,321.5 L462.3,320.1 L462.8,318.8 L463.3,317.5 L463.8,316.4 L464.3,315.4 L464.8,314.5 L465.3,313.8 L465.8,313.2 L466.3,312.8 L466.8,312.5 L467.3,312.5 L467.8,312.6 L468.3,312.9 L468.8,313.4 L469.3,314.0 L469.8,314.8 L470.3,315.7 L470.8,316.8 L471.3,318.0 L471.8,319.3 L472.3,320.7 L472.8,322.2 L473.3,323.8 L473.8,325.4 L474.3,327.0 L474.8,328.6 L475.3,330.3 L475.8,331.9 L476.3,333.5 L476.8,335.1 L477.3,336.6 L477.8,338.0 L478.3,339.4 L478.8,340.7 L479.3,342.0 L479.8,343.2 L480.3,344.3 L480.8,345.3 L481.3,346.2 L481.8,347.1 L482.3,347.9 L482.8,348.6 L483.3,349.2 L483.8,349.8 L484.3,350.3 L484.8,350.8 L485.3,351.2 L485.8,351.6 L486.3,351.9 L486.8,352.2 L487.3,352.4 L487.8,352.6 L488.3,352.8 L488.8,353.0 L489.3,353.1 L489.8,353.3 L490.3,353.4 L490.8,353.5 L491.3,353.6 L491.8,353.7 L492.3,353.7 L492.8,353.8 L493.3,353.8 L493.8,353.9 L494.3,353.9 L494.3,354.0 L493.8,354.0 L493.3,353.9 L492.8,353.9 L492.3,353.9 L491.8,353.8 L491.3,353.8 L490.8,353.8 L490.3,353.8 L489.8,353.7 L489.3,353.7 L488.8,353.7 L488.3,353.6 L487.8,353.6 L487.3,353.6 L486.8,353.5 L486.3,353.5 L485.8,353.5 L485.3,353.4 L484.8,353.4 L484.3,353.4 L483.8,353.3 L483.3,353.3 L482.8,353.3 L482.3,353.2 L481.8,353.2 L481.3,353.2 L480.8,353.1 L480.3,353.1 L479.8,353.1 L479.3,353.1 L478.8,353.0 L478.3,353.0 L477.8,353.0 L477.3,352.9 L476.8,352.9 L476.3,352.9 L475.8,352.8 L475.3,352.8 L474.8,352.8 L474.3,352.7 L473.8,352.7 L473.3,352.7 L472.8,352.6 L472.3,352.6 L471.8,352.6 L471.3,352.5 L470.8,352.5 L470.3,352.5 L469.8,352.4 L469.3,352.4 L468.8,352.4 L468.3,352.4 L467.8,352.3 L467.3,352.3 L466.8,352.3 L466.3,352.2 L465.8,352.2 L465.3,352.2 L464.8,352.1 L464.3,352.1 L463.8,352.1 L463.3,352.0 L462.8,352.0 L462.3,352.0 L461.8,351.9 L461.3,351.9 L460.8,351.9 L460.3,351.8 L459.8,351.8 L459.3,351.8 L458.8,351.8 L458.3,351.7 L457.8,351.7 L457.3,351.7 L456.8,351.6 L456.3,351.6 L455.8,351.6 L455.3,351.5 L454.8,351.5 L454.3,351.5 L453.8,351.4 L453.3,351.4 L452.8,351.4 L452.3,351.3 L451.8,351.3 L451.3,351.3 L450.8,351.2 L450.3,351.2 L449.8,351.2 L449.3,351.1 L448.8,351.1 L448.3,351.1 L447.8,351.1 L447.3,351.0 L446.8,351.0 L446.3,351.0 L445.8,350.9 L445.3,350.9 L444.8,350.9 L444.3,350.8 L443.8,350.8 L443.3,350.8 L442.8,350.7 L442.3,350.7 L441.8,350.7 L441.3,350.6 L440.8,350.6 L440.3,350.6 Z" fill="#00a991" stroke="#08947e" stroke-width="0.7" stroke-linejoin="round" stroke-linecap="round" fill-opacity="0.9"/>
<line x1="311.5" y1="342.70" x2="532" y2="356.70" stroke="#10a58c" stroke-width="1.4"/>
<path d="M310.5,343.1 L311.3,344.0 L312.4,344.7 L313.7,345.9 L315.0,345.2 L316.2,346.6 L317.5,342.5 L318.7,345.1 L320.0,347.8 L321.2,346.2 L322.5,347.1 L323.8,342.7 L325.0,344.3 L326.2,343.2 L327.5,345.0 L328.8,345.4 L330.0,342.5 L331.3,343.2 L332.6,343.1 L333.9,345.9 L335.0,344.9 L335.9,341.9 L336.7,345.6 L337.4,342.6 L338.0,345.1 L338.5,342.0 L339.0,340.3 L339.5,343.9 L340.0,340.0 L340.7,340.4 L341.4,345.2 L342.2,345.5 L343.0,342.9 L344.0,346.3 L345.0,343.6 L346.0,343.8 L347.0,341.0 L347.8,344.8 L348.4,343.6 L349.1,345.2 L350.0,345.0 L351.1,342.2 L352.4,342.7 L353.7,342.0 L355.0,342.2 L356.2,342.0 L357.5,343.6 L358.8,345.5 L360.0,342.4 L361.2,345.7 L362.5,343.4 L363.8,342.8 L365.0,345.2 L366.2,343.4 L367.5,342.8 L368.8,344.0 L370.0,345.6 L371.2,342.8 L372.5,348.4 L373.8,344.2 L375.0,348.3 L376.2,348.6 L377.5,343.8 L378.8,347.2 L380.0,344.3 L381.2,344.6 L382.5,340.8 L383.8,340.1 L385.0,340.3 L386.2,344.4 L387.5,340.9 L388.8,344.2 L390.0,345.2 L391.4,344.9 L392.8,341.0 L394.1,340.3 L395.0,340.6" fill="none" stroke="#000" stroke-width="1.2" stroke-linejoin="round" stroke-linecap="round" />
<path d="M395.0,343.4 L396.0,342.5 L397.0,341.2 L398.0,342.3 L399.0,339.2 L400.0,339.5 L401.0,339.4 L402.0,336.0 L403.0,335.9 L404.0,334.6 L405.0,331.5 L406.0,330.6 L407.0,329.6 L408.0,326.9 L409.0,325.5 L410.0,321.7 L411.0,319.5 L412.0,316.7 L413.0,315.1 L414.0,313.6 L415.0,309.9 L416.0,307.6 L417.0,303.8 L418.0,301.9 L419.0,297.4 L420.0,295.1 L421.0,293.3 L422.0,290.8 L423.0,287.5 L424.0,282.2 L425.0,280.9 L426.0,278.5 L427.0,277.1 L428.0,278.2 L429.0,273.7 L430.0,276.1 L431.0,275.3 L432.0,270.5 L433.0,271.9 L434.0,272.6 L435.0,270.6 L436.0,273.6 L437.0,277.3 L438.0,274.8 L439.0,279.2 L440.0,279.0 L441.0,283.9 L442.0,288.2 L443.0,289.3 L444.0,291.9 L445.0,295.2 L446.9,303.5 L447.5,304.1 L448.0,305.9 L448.5,308.4 L448.9,310.8 L449.3,310.6 L449.8,311.7 L450.3,313.5 L450.9,313.2 L451.4,315.4 L452.0,315.1 L452.6,316.9 L453.3,318.2 L453.9,316.2 L454.5,317.6 L455.0,317.9 L455.5,316.6 L456.0,316.7 L456.5,318.3 L457.0,317.8 L457.5,314.9 L458.0,315.6 L458.5,315.2 L459.1,311.8 L459.9,310.9 L460.5,307.6 L461.0,307.2" fill="none" stroke="#000" stroke-width="0.9" stroke-linejoin="round" stroke-linecap="round" />
<path d="M497.0,355.1 L497.9,355.3 L498.8,353.7 L499.7,352.7 L500.6,351.5 L501.5,354.7 L502.4,353.9 L503.3,355.3 L504.2,353.5 L505.1,355.5 L506.0,353.2 L506.9,355.8 L507.8,355.5 L508.7,354.0 L509.6,354.7 L510.5,355.4 L511.4,353.1 L512.3,354.9 L513.2,356.2 L514.1,353.6 L515.0,356.3 L515.9,355.8 L516.8,356.6 L517.7,354.2 L518.6,353.1 L519.5,356.5 L520.4,356.6 L521.3,355.0 L522.2,353.3 L523.1,353.9 L524.0,356.0 L524.9,354.4 L525.8,357.7 L526.7,356.0 L527.6,354.2 L528.5,356.4 L529.4,355.1 L530.3,357.9 L531.2,357.8 L532.1,356.0" fill="none" stroke="#000" stroke-width="1.2" stroke-linejoin="round" stroke-linecap="round" />
<path d="M446.0,300.5 L446.3,301.4 L446.7,302.7 L447.1,304.2 L447.6,305.7 L448.0,307.0 L448.4,308.1 L448.7,309.2 L449.1,310.1 L449.4,311.1 L449.8,312.0 L450.2,312.9 L450.6,313.8 L451.1,314.6 L451.5,315.4 L452.0,316.0 L452.5,316.5 L453.0,316.9 L453.5,317.2 L454.0,317.4 L454.5,317.5 L454.9,317.6 L455.3,317.6 L455.7,317.5 L456.1,317.3 L456.5,317.0 L456.9,316.6 L457.3,316.1 L457.7,315.6 L458.1,314.9 L458.5,314.0 L459.0,313.0 L459.4,311.8 L459.9,310.5 L460.4,309.0 L461.0,307.5 L461.7,305.8 L462.4,304.0 L463.1,302.1 L463.9,300.1 L464.5,298.3 L465.1,296.6 L465.5,294.9 L466.0,293.2 L466.4,291.6 L466.9,289.9 L467.4,288.2 L467.9,286.6 L468.3,285.0 L468.8,283.3 L469.3,281.4 L469.8,279.3 L470.3,277.1 L470.7,274.8 L471.2,272.6 L471.7,270.5 L472.2,268.6 L472.7,266.7 L473.2,265.0 L473.7,263.4 L474.2,262.1 L474.7,261.0 L475.2,260.1 L475.7,259.3 L476.3,258.9 L476.8,258.7 L477.4,258.9 L477.9,259.3 L478.5,260.1 L479.1,261.0 L479.6,262.1 L480.1,263.4 L480.5,265.0 L480.9,266.8 L481.2,268.7 L481.6,270.5 L481.9,272.4 L482.3,274.3 L482.6,276.3 L482.9,278.2 L483.2,280.2 L483.6,282.2 L483.9,284.1 L484.3,286.1 L484.7,288.0 L485.0,289.9 L485.3,291.6 L485.5,293.2 L485.7,294.8 L485.9,296.4 L486.2,298.3 L486.6,300.4 L487.1,302.7 L487.5,305.1 L488.0,307.6 L488.5,310.0 L488.9,312.4 L489.3,314.9 L489.7,317.4 L490.1,319.8 L490.5,322.0 L490.9,324.0 L491.3,325.8 L491.7,327.5 L492.1,329.2 L492.5,331.0 L492.9,333.0 L493.3,335.1 L493.7,337.2 L494.1,339.2 L494.5,341.0 L494.8,342.5 L495.1,343.8 L495.4,344.9 L495.7,346.0 L496.0,347.0 L496.4,348.0 L496.8,349.0 L497.2,350.0 L497.6,350.8 L498.0,351.5 L498.4,352.1 L498.9,352.5 L499.3,352.8 L499.7,353.1 L500.0,353.3" fill="none" stroke="#9e22ee" stroke-width="1.5" stroke-linejoin="round" stroke-linecap="round" />
<text x="413.5" y="249.5" font-size="8.8" fill="#000" stroke="#000" stroke-width="0.22" font-weight="bold" text-anchor="start" textLength="15.3" lengthAdjust="spacingAndGlyphs" >P-O</text>
<text x="493.8" y="261.9" font-size="8.8" fill="#000" stroke="#000" stroke-width="0.22" font-weight="bold" text-anchor="start" textLength="25.6" lengthAdjust="spacingAndGlyphs" >P 2p<tspan font-size="5.4" dy="2.0">3/2</tspan></text>
<text x="498.0" y="306.7" font-size="8.8" fill="#000" stroke="#000" stroke-width="0.22" font-weight="bold" text-anchor="start" textLength="25.6" lengthAdjust="spacingAndGlyphs" >P 2p<tspan font-size="5.4" dy="2.0">1/2</tspan></text>
<text x="327.2" y="359.7" font-size="8.6" fill="#000" stroke="#000" stroke-width="0.22" font-weight="bold" text-anchor="start" textLength="45.4" lengthAdjust="spacingAndGlyphs" >e-NFP/NFF</text>
<line x1="422.9" y1="252.7" x2="430.5" y2="266.9" stroke="#000" stroke-width="0.8"/>
<path d="M430.5,266.9 L427.67,264.84 L430.36,263.40 Z" fill="#000"/>
<line x1="500.8" y1="266.9" x2="486.2" y2="285.5" stroke="#000" stroke-width="0.8"/>
<path d="M486.2,285.5 L486.95,282.08 L489.34,283.96 Z" fill="#000"/>
<line x1="496.2" y1="308.5" x2="481.4" y2="327.8" stroke="#000" stroke-width="0.8"/>
<path d="M481.4,327.8 L482.11,324.37 L484.53,326.23 Z" fill="#000"/>
</svg></body></html>
